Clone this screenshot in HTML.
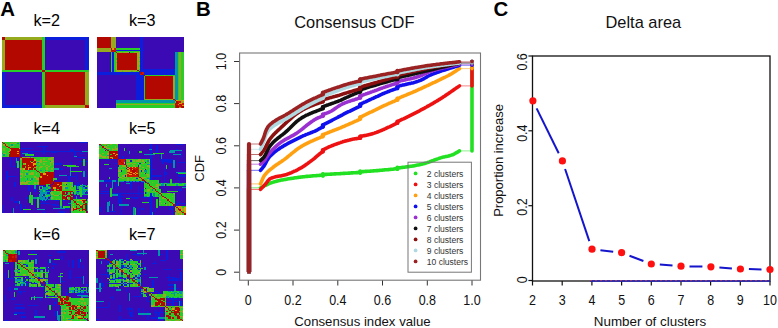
<!DOCTYPE html><html><head><meta charset="utf-8"><style>html,body{margin:0;padding:0;background:#fff;width:778px;height:328px;overflow:hidden}svg{display:block}text{font-family:"Liberation Sans", sans-serif}</style></head><body>
<svg width="778" height="328" viewBox="0 0 778 328">
<rect width="778" height="328" fill="#fff"/>
<text x="0.2" y="15.7" font-size="20.4" font-weight="bold">A</text>
<text x="196" y="15.7" font-size="20.4" font-weight="bold">B</text>
<text x="493.6" y="15.7" font-size="20.4" font-weight="bold">C</text>
<text x="33.5" y="26.2" font-size="16.2">k=2</text>
<text x="129.0" y="26.2" font-size="16.2">k=3</text>
<text x="33.5" y="133.5" font-size="16.2">k=4</text>
<text x="129.0" y="133.5" font-size="16.2">k=5</text>
<text x="33.5" y="240.4" font-size="16.2">k=6</text>
<text x="129.0" y="240.4" font-size="16.2">k=7</text>
<g shape-rendering="crispEdges">
<rect x="1.50" y="37.00" width="87.00" height="70.70" fill="#3c0ab4"/>
<path fill="#0a1edc" d="M45.0 37.0h43.5v1.3h-43.5zM45.0 38.3h43.5v1.3h-43.5zM85.4 39.5h3.1v1.3h-3.1zM85.4 40.8h3.1v1.3h-3.1zM85.4 42.0h3.1v1.3h-3.1zM85.4 43.3h3.1v1.3h-3.1zM85.4 44.6h3.1v1.3h-3.1zM85.4 45.8h3.1v1.3h-3.1zM85.4 47.1h3.1v1.3h-3.1zM85.4 48.4h3.1v1.3h-3.1zM85.4 49.6h3.1v1.3h-3.1zM85.4 50.9h3.1v1.3h-3.1zM85.4 52.1h3.1v1.3h-3.1zM85.4 53.4h3.1v1.3h-3.1zM85.4 54.7h3.1v1.3h-3.1zM85.4 55.9h3.1v1.3h-3.1zM85.4 57.2h3.1v1.3h-3.1zM85.4 58.5h3.1v1.3h-3.1zM85.4 59.7h3.1v1.3h-3.1zM85.4 61.0h3.1v1.3h-3.1zM85.4 62.2h3.1v1.3h-3.1zM85.4 63.5h3.1v1.3h-3.1zM85.4 64.8h3.1v1.3h-3.1zM85.4 66.0h3.1v1.3h-3.1zM85.4 67.3h3.1v1.3h-3.1zM85.4 68.6h3.1v1.3h-3.1zM1.5 72.3h3.1v1.3h-3.1zM1.5 73.6h3.1v1.3h-3.1zM1.5 74.9h3.1v1.3h-3.1zM1.5 76.1h3.1v1.3h-3.1zM1.5 77.4h3.1v1.3h-3.1zM1.5 78.7h3.1v1.3h-3.1zM1.5 79.9h3.1v1.3h-3.1zM1.5 81.2h3.1v1.3h-3.1zM1.5 82.4h3.1v1.3h-3.1zM1.5 83.7h3.1v1.3h-3.1zM1.5 85.0h3.1v1.3h-3.1zM1.5 86.2h3.1v1.3h-3.1zM1.5 87.5h3.1v1.3h-3.1zM1.5 88.8h3.1v1.3h-3.1zM1.5 90.0h3.1v1.3h-3.1zM1.5 91.3h3.1v1.3h-3.1zM1.5 92.5h3.1v1.3h-3.1zM1.5 93.8h3.1v1.3h-3.1zM1.5 95.1h3.1v1.3h-3.1zM1.5 96.3h3.1v1.3h-3.1zM1.5 97.6h3.1v1.3h-3.1zM1.5 98.9h3.1v1.3h-3.1zM1.5 100.1h3.1v1.3h-3.1zM1.5 101.4h3.1v1.3h-3.1zM1.5 102.6h3.1v1.3h-3.1zM1.5 103.9h3.1v1.3h-3.1zM1.5 105.2h40.4v1.3h-40.4zM1.5 106.4h40.4v1.3h-40.4z"/>
<path fill="#28cd28" d="M41.9 37.0h3.1v1.3h-3.1zM41.9 38.3h3.1v1.3h-3.1zM41.9 39.5h3.1v1.3h-3.1zM41.9 40.8h3.1v1.3h-3.1zM41.9 42.0h3.1v1.3h-3.1zM41.9 43.3h3.1v1.3h-3.1zM41.9 44.6h3.1v1.3h-3.1zM41.9 45.8h3.1v1.3h-3.1zM41.9 47.1h3.1v1.3h-3.1zM41.9 48.4h3.1v1.3h-3.1zM41.9 49.6h3.1v1.3h-3.1zM41.9 50.9h3.1v1.3h-3.1zM41.9 52.1h3.1v1.3h-3.1zM41.9 53.4h3.1v1.3h-3.1zM41.9 54.7h3.1v1.3h-3.1zM41.9 55.9h3.1v1.3h-3.1zM41.9 57.2h3.1v1.3h-3.1zM41.9 58.5h3.1v1.3h-3.1zM41.9 59.7h3.1v1.3h-3.1zM41.9 61.0h3.1v1.3h-3.1zM41.9 62.2h3.1v1.3h-3.1zM41.9 63.5h3.1v1.3h-3.1zM41.9 64.8h3.1v1.3h-3.1zM41.9 66.0h3.1v1.3h-3.1zM41.9 67.3h3.1v1.3h-3.1zM41.9 68.6h3.1v1.3h-3.1zM1.5 69.8h40.4v1.3h-40.4zM45.0 69.8h43.5v1.3h-43.5zM1.5 71.1h40.4v1.3h-40.4zM45.0 71.1h43.5v1.3h-43.5zM41.9 72.3h3.1v1.3h-3.1zM41.9 73.6h3.1v1.3h-3.1zM41.9 74.9h3.1v1.3h-3.1zM41.9 76.1h3.1v1.3h-3.1zM41.9 77.4h3.1v1.3h-3.1zM41.9 78.7h3.1v1.3h-3.1zM41.9 79.9h3.1v1.3h-3.1zM41.9 81.2h3.1v1.3h-3.1zM41.9 82.4h3.1v1.3h-3.1zM41.9 83.7h3.1v1.3h-3.1zM41.9 85.0h3.1v1.3h-3.1zM41.9 86.2h3.1v1.3h-3.1zM41.9 87.5h3.1v1.3h-3.1zM41.9 88.8h3.1v1.3h-3.1zM41.9 90.0h3.1v1.3h-3.1zM41.9 91.3h3.1v1.3h-3.1zM41.9 92.5h3.1v1.3h-3.1zM41.9 93.8h3.1v1.3h-3.1zM41.9 95.1h3.1v1.3h-3.1zM41.9 96.3h3.1v1.3h-3.1zM41.9 97.6h3.1v1.3h-3.1zM41.9 98.9h3.1v1.3h-3.1zM41.9 100.1h3.1v1.3h-3.1zM41.9 101.4h3.1v1.3h-3.1zM41.9 102.6h3.1v1.3h-3.1zM41.9 103.9h3.1v1.3h-3.1zM41.9 105.2h3.1v1.3h-3.1zM41.9 106.4h3.1v1.3h-3.1z"/>
<path fill="#96aa1e" d="M4.6 37.0h37.3v1.3h-37.3zM4.6 38.3h37.3v1.3h-37.3zM1.5 39.5h3.1v1.3h-3.1zM1.5 40.8h3.1v1.3h-3.1zM1.5 42.0h3.1v1.3h-3.1zM1.5 43.3h3.1v1.3h-3.1zM1.5 44.6h3.1v1.3h-3.1zM1.5 45.8h3.1v1.3h-3.1zM1.5 47.1h3.1v1.3h-3.1zM1.5 48.4h3.1v1.3h-3.1zM1.5 49.6h3.1v1.3h-3.1zM1.5 50.9h3.1v1.3h-3.1zM1.5 52.1h3.1v1.3h-3.1zM1.5 53.4h3.1v1.3h-3.1zM1.5 54.7h3.1v1.3h-3.1zM1.5 55.9h3.1v1.3h-3.1zM1.5 57.2h3.1v1.3h-3.1zM1.5 58.5h3.1v1.3h-3.1zM1.5 59.7h3.1v1.3h-3.1zM1.5 61.0h3.1v1.3h-3.1zM1.5 62.2h3.1v1.3h-3.1zM1.5 63.5h3.1v1.3h-3.1zM1.5 64.8h3.1v1.3h-3.1zM1.5 66.0h3.1v1.3h-3.1zM1.5 67.3h3.1v1.3h-3.1zM1.5 68.6h3.1v1.3h-3.1zM85.4 72.3h3.1v1.3h-3.1zM85.4 73.6h3.1v1.3h-3.1zM85.4 74.9h3.1v1.3h-3.1zM85.4 76.1h3.1v1.3h-3.1zM85.4 77.4h3.1v1.3h-3.1zM85.4 78.7h3.1v1.3h-3.1zM85.4 79.9h3.1v1.3h-3.1zM85.4 81.2h3.1v1.3h-3.1zM85.4 82.4h3.1v1.3h-3.1zM85.4 83.7h3.1v1.3h-3.1zM85.4 85.0h3.1v1.3h-3.1zM85.4 86.2h3.1v1.3h-3.1zM85.4 87.5h3.1v1.3h-3.1zM85.4 88.8h3.1v1.3h-3.1zM85.4 90.0h3.1v1.3h-3.1zM85.4 91.3h3.1v1.3h-3.1zM85.4 92.5h3.1v1.3h-3.1zM85.4 93.8h3.1v1.3h-3.1zM85.4 95.1h3.1v1.3h-3.1zM85.4 96.3h3.1v1.3h-3.1zM85.4 97.6h3.1v1.3h-3.1zM85.4 98.9h3.1v1.3h-3.1zM85.4 100.1h3.1v1.3h-3.1zM85.4 101.4h3.1v1.3h-3.1zM85.4 102.6h3.1v1.3h-3.1zM85.4 103.9h3.1v1.3h-3.1zM45.0 105.2h40.4v1.3h-40.4zM45.0 106.4h40.4v1.3h-40.4z"/>
<path fill="#cd1900" d="M86.9 105.2h1.6v1.3h-1.6zM85.4 106.4h1.6v1.3h-1.6z"/>
<path fill="#b20800" d="M1.5 37.0h3.1v1.3h-3.1zM1.5 38.3h3.1v1.3h-3.1zM4.6 39.5h37.3v1.3h-37.3zM4.6 40.8h37.3v1.3h-37.3zM4.6 42.0h37.3v1.3h-37.3zM4.6 43.3h37.3v1.3h-37.3zM4.6 44.6h37.3v1.3h-37.3zM4.6 45.8h37.3v1.3h-37.3zM4.6 47.1h37.3v1.3h-37.3zM4.6 48.4h37.3v1.3h-37.3zM4.6 49.6h37.3v1.3h-37.3zM4.6 50.9h37.3v1.3h-37.3zM4.6 52.1h37.3v1.3h-37.3zM4.6 53.4h37.3v1.3h-37.3zM4.6 54.7h37.3v1.3h-37.3zM4.6 55.9h37.3v1.3h-37.3zM4.6 57.2h37.3v1.3h-37.3zM4.6 58.5h37.3v1.3h-37.3zM4.6 59.7h37.3v1.3h-37.3zM4.6 61.0h37.3v1.3h-37.3zM4.6 62.2h37.3v1.3h-37.3zM4.6 63.5h37.3v1.3h-37.3zM4.6 64.8h37.3v1.3h-37.3zM4.6 66.0h37.3v1.3h-37.3zM4.6 67.3h37.3v1.3h-37.3zM4.6 68.6h37.3v1.3h-37.3zM41.9 69.8h3.1v1.3h-3.1zM41.9 71.1h3.1v1.3h-3.1zM45.0 72.3h40.4v1.3h-40.4zM45.0 73.6h40.4v1.3h-40.4zM45.0 74.9h40.4v1.3h-40.4zM45.0 76.1h40.4v1.3h-40.4zM45.0 77.4h40.4v1.3h-40.4zM45.0 78.7h40.4v1.3h-40.4zM45.0 79.9h40.4v1.3h-40.4zM45.0 81.2h40.4v1.3h-40.4zM45.0 82.4h40.4v1.3h-40.4zM45.0 83.7h40.4v1.3h-40.4zM45.0 85.0h40.4v1.3h-40.4zM45.0 86.2h40.4v1.3h-40.4zM45.0 87.5h40.4v1.3h-40.4zM45.0 88.8h40.4v1.3h-40.4zM45.0 90.0h40.4v1.3h-40.4zM45.0 91.3h40.4v1.3h-40.4zM45.0 92.5h40.4v1.3h-40.4zM45.0 93.8h40.4v1.3h-40.4zM45.0 95.1h40.4v1.3h-40.4zM45.0 96.3h40.4v1.3h-40.4zM45.0 97.6h40.4v1.3h-40.4zM45.0 98.9h40.4v1.3h-40.4zM45.0 100.1h40.4v1.3h-40.4zM45.0 101.4h40.4v1.3h-40.4zM45.0 102.6h40.4v1.3h-40.4zM45.0 103.9h40.4v1.3h-40.4zM85.4 105.2h1.6v1.3h-1.6zM86.9 106.4h1.6v1.3h-1.6z"/>
</g>
<g shape-rendering="crispEdges">
<rect x="96.80" y="36.90" width="87.10" height="70.80" fill="#3c0ab4"/>
<path fill="#0a1edc" d="M140.3 36.9h3.1v1.3h-3.1zM140.3 38.2h3.1v1.3h-3.1zM140.3 39.4h3.1v1.3h-3.1zM140.3 40.7h3.1v1.3h-3.1zM140.3 42.0h3.1v1.3h-3.1zM140.3 43.2h3.1v1.3h-3.1zM140.3 44.5h3.1v1.3h-3.1zM140.3 45.8h3.1v1.3h-3.1zM140.3 47.0h3.1v1.3h-3.1zM140.3 48.3h3.1v1.3h-3.1zM115.5 49.5h28.0v1.3h-28.0zM140.3 50.8h3.1v1.3h-3.1zM112.4 52.1h1.6v1.3h-1.6zM140.3 52.1h3.1v1.3h-3.1zM112.4 53.3h1.6v1.3h-1.6zM140.3 53.3h3.1v1.3h-3.1zM112.4 54.6h1.6v1.3h-1.6zM140.3 54.6h3.1v1.3h-3.1zM112.4 55.9h1.6v1.3h-1.6zM140.3 55.9h3.1v1.3h-3.1zM112.4 57.1h1.6v1.3h-1.6zM140.3 57.1h3.1v1.3h-3.1zM112.4 58.4h1.6v1.3h-1.6zM140.3 58.4h3.1v1.3h-3.1zM112.4 59.7h1.6v1.3h-1.6zM140.3 59.7h3.1v1.3h-3.1zM112.4 60.9h1.6v1.3h-1.6zM140.3 60.9h3.1v1.3h-3.1zM112.4 62.2h1.6v1.3h-1.6zM140.3 62.2h3.1v1.3h-3.1zM112.4 63.4h1.6v1.3h-1.6zM140.3 63.4h3.1v1.3h-3.1zM112.4 64.7h1.6v1.3h-1.6zM140.3 64.7h3.1v1.3h-3.1zM112.4 66.0h1.6v1.3h-1.6zM140.3 66.0h3.1v1.3h-3.1zM112.4 67.2h1.6v1.3h-1.6zM140.3 67.2h3.1v1.3h-3.1zM112.4 68.5h1.6v1.3h-1.6zM140.3 68.5h34.2v1.3h-34.2zM112.4 69.8h1.6v1.3h-1.6zM140.3 69.8h34.2v1.3h-34.2zM112.4 71.0h1.6v1.3h-1.6zM140.3 71.0h34.2v1.3h-34.2zM96.8 72.3h43.5v1.3h-43.5zM143.5 72.3h31.1v1.3h-31.1zM96.8 73.6h43.5v1.3h-43.5zM143.5 73.6h31.1v1.3h-31.1zM135.7 74.8h7.8v1.3h-7.8zM135.7 76.1h7.8v1.3h-7.8zM135.7 77.4h7.8v1.3h-7.8zM135.7 78.6h7.8v1.3h-7.8zM135.7 79.9h7.8v1.3h-7.8zM135.7 81.2h7.8v1.3h-7.8zM135.7 82.4h7.8v1.3h-7.8zM135.7 83.7h7.8v1.3h-7.8zM135.7 84.9h7.8v1.3h-7.8zM135.7 86.2h7.8v1.3h-7.8zM135.7 87.5h7.8v1.3h-7.8zM135.7 88.7h7.8v1.3h-7.8zM135.7 90.0h7.8v1.3h-7.8zM135.7 91.3h7.8v1.3h-7.8zM135.7 92.5h7.8v1.3h-7.8zM135.7 93.8h7.8v1.3h-7.8zM135.7 95.1h7.8v1.3h-7.8zM135.7 96.3h7.8v1.3h-7.8zM135.7 97.6h7.8v1.3h-7.8zM135.7 98.8h7.8v1.3h-7.8z"/>
<path fill="#0096aa" d="M174.6 52.1h3.1v1.3h-3.1zM174.6 53.3h3.1v1.3h-3.1zM174.6 54.6h3.1v1.3h-3.1zM174.6 55.9h3.1v1.3h-3.1zM174.6 57.1h3.1v1.3h-3.1zM174.6 58.4h3.1v1.3h-3.1zM174.6 59.7h3.1v1.3h-3.1zM174.6 60.9h3.1v1.3h-3.1zM174.6 62.2h3.1v1.3h-3.1zM174.6 63.4h3.1v1.3h-3.1zM174.6 64.7h3.1v1.3h-3.1zM174.6 66.0h3.1v1.3h-3.1zM174.6 67.2h3.1v1.3h-3.1zM174.6 68.5h3.1v1.3h-3.1zM174.6 69.8h3.1v1.3h-3.1zM174.6 71.0h3.1v1.3h-3.1zM174.6 72.3h3.1v1.3h-3.1zM174.6 73.6h3.1v1.3h-3.1zM174.6 74.8h3.1v1.3h-3.1zM174.6 76.1h3.1v1.3h-3.1zM174.6 77.4h3.1v1.3h-3.1zM174.6 78.6h3.1v1.3h-3.1zM174.6 79.9h3.1v1.3h-3.1zM174.6 81.2h3.1v1.3h-3.1zM174.6 82.4h3.1v1.3h-3.1zM174.6 83.7h3.1v1.3h-3.1zM174.6 84.9h3.1v1.3h-3.1zM174.6 86.2h3.1v1.3h-3.1zM174.6 87.5h3.1v1.3h-3.1zM174.6 88.7h3.1v1.3h-3.1zM174.6 90.0h3.1v1.3h-3.1zM174.6 91.3h3.1v1.3h-3.1zM174.6 92.5h3.1v1.3h-3.1zM174.6 93.8h3.1v1.3h-3.1zM174.6 95.1h3.1v1.3h-3.1zM174.6 96.3h3.1v1.3h-3.1zM174.6 97.6h3.1v1.3h-3.1zM174.6 98.8h3.1v1.3h-3.1zM115.5 100.1h59.1v1.3h-59.1zM115.5 101.4h59.1v1.3h-59.1z"/>
<path fill="#28cd28" d="M115.5 48.3h24.9v1.3h-24.9zM115.5 50.8h24.9v1.3h-24.9zM110.8 52.1h1.6v1.3h-1.6zM113.9 52.1h1.6v1.3h-1.6zM117.0 52.1h1.6v1.3h-1.6zM121.7 52.1h1.6v1.3h-1.6zM129.5 52.1h4.7v1.3h-4.7zM177.7 52.1h1.6v1.3h-1.6zM180.8 52.1h3.1v1.3h-3.1zM110.8 53.3h1.6v1.3h-1.6zM113.9 53.3h1.6v1.3h-1.6zM177.7 53.3h1.6v1.3h-1.6zM180.8 53.3h3.1v1.3h-3.1zM110.8 54.6h1.6v1.3h-1.6zM113.9 54.6h1.6v1.3h-1.6zM177.7 54.6h1.6v1.3h-1.6zM180.8 54.6h3.1v1.3h-3.1zM110.8 55.9h1.6v1.3h-1.6zM113.9 55.9h1.6v1.3h-1.6zM177.7 55.9h1.6v1.3h-1.6zM180.8 55.9h3.1v1.3h-3.1zM110.8 57.1h1.6v1.3h-1.6zM113.9 57.1h1.6v1.3h-1.6zM138.8 57.1h1.6v1.3h-1.6zM177.7 57.1h1.6v1.3h-1.6zM180.8 57.1h3.1v1.3h-3.1zM110.8 58.4h1.6v1.3h-1.6zM113.9 58.4h3.1v1.3h-3.1zM177.7 58.4h1.6v1.3h-1.6zM180.8 58.4h3.1v1.3h-3.1zM110.8 59.7h1.6v1.3h-1.6zM113.9 59.7h1.6v1.3h-1.6zM177.7 59.7h1.6v1.3h-1.6zM180.8 59.7h3.1v1.3h-3.1zM110.8 60.9h1.6v1.3h-1.6zM113.9 60.9h1.6v1.3h-1.6zM138.8 60.9h1.6v1.3h-1.6zM177.7 60.9h1.6v1.3h-1.6zM180.8 60.9h3.1v1.3h-3.1zM110.8 62.2h1.6v1.3h-1.6zM113.9 62.2h3.1v1.3h-3.1zM177.7 62.2h1.6v1.3h-1.6zM180.8 62.2h3.1v1.3h-3.1zM110.8 63.4h1.6v1.3h-1.6zM113.9 63.4h1.6v1.3h-1.6zM177.7 63.4h1.6v1.3h-1.6zM180.8 63.4h3.1v1.3h-3.1zM110.8 64.7h1.6v1.3h-1.6zM113.9 64.7h1.6v1.3h-1.6zM138.8 64.7h1.6v1.3h-1.6zM177.7 64.7h1.6v1.3h-1.6zM180.8 64.7h3.1v1.3h-3.1zM110.8 66.0h1.6v1.3h-1.6zM113.9 66.0h1.6v1.3h-1.6zM138.8 66.0h1.6v1.3h-1.6zM177.7 66.0h1.6v1.3h-1.6zM180.8 66.0h3.1v1.3h-3.1zM110.8 67.2h1.6v1.3h-1.6zM113.9 67.2h1.6v1.3h-1.6zM177.7 67.2h1.6v1.3h-1.6zM180.8 67.2h3.1v1.3h-3.1zM110.8 68.5h1.6v1.3h-1.6zM113.9 68.5h1.6v1.3h-1.6zM138.8 68.5h1.6v1.3h-1.6zM177.7 68.5h1.6v1.3h-1.6zM180.8 68.5h3.1v1.3h-3.1zM110.8 69.8h1.6v1.3h-1.6zM113.9 69.8h1.6v1.3h-1.6zM138.8 69.8h1.6v1.3h-1.6zM177.7 69.8h1.6v1.3h-1.6zM180.8 69.8h3.1v1.3h-3.1zM110.8 71.0h1.6v1.3h-1.6zM113.9 71.0h1.6v1.3h-1.6zM121.7 71.0h1.6v1.3h-1.6zM131.0 71.0h1.6v1.3h-1.6zM135.7 71.0h3.1v1.3h-3.1zM177.7 71.0h1.6v1.3h-1.6zM180.8 71.0h3.1v1.3h-3.1zM177.7 72.3h1.6v1.3h-1.6zM180.8 72.3h3.1v1.3h-3.1zM177.7 73.6h1.6v1.3h-1.6zM180.8 73.6h3.1v1.3h-3.1zM145.0 74.8h1.6v1.3h-1.6zM148.1 74.8h15.6v1.3h-15.6zM165.2 74.8h9.3v1.3h-9.3zM177.7 74.8h1.6v1.3h-1.6zM180.8 74.8h3.1v1.3h-3.1zM143.5 76.1h1.6v1.3h-1.6zM177.7 76.1h1.6v1.3h-1.6zM180.8 76.1h3.1v1.3h-3.1zM143.5 77.4h1.6v1.3h-1.6zM177.7 77.4h1.6v1.3h-1.6zM180.8 77.4h3.1v1.3h-3.1zM143.5 78.6h1.6v1.3h-1.6zM177.7 78.6h1.6v1.3h-1.6zM180.8 78.6h3.1v1.3h-3.1zM143.5 79.9h1.6v1.3h-1.6zM177.7 79.9h1.6v1.3h-1.6zM180.8 79.9h3.1v1.3h-3.1zM143.5 81.2h1.6v1.3h-1.6zM177.7 81.2h1.6v1.3h-1.6zM180.8 81.2h3.1v1.3h-3.1zM143.5 82.4h1.6v1.3h-1.6zM177.7 82.4h1.6v1.3h-1.6zM180.8 82.4h3.1v1.3h-3.1zM143.5 83.7h1.6v1.3h-1.6zM177.7 83.7h1.6v1.3h-1.6zM180.8 83.7h3.1v1.3h-3.1zM143.5 84.9h1.6v1.3h-1.6zM177.7 84.9h1.6v1.3h-1.6zM180.8 84.9h3.1v1.3h-3.1zM143.5 86.2h1.6v1.3h-1.6zM177.7 86.2h1.6v1.3h-1.6zM180.8 86.2h3.1v1.3h-3.1zM143.5 87.5h1.6v1.3h-1.6zM177.7 87.5h1.6v1.3h-1.6zM180.8 87.5h3.1v1.3h-3.1zM143.5 88.7h1.6v1.3h-1.6zM177.7 88.7h1.6v1.3h-1.6zM180.8 88.7h3.1v1.3h-3.1zM143.5 90.0h1.6v1.3h-1.6zM177.7 90.0h1.6v1.3h-1.6zM180.8 90.0h3.1v1.3h-3.1zM143.5 91.3h1.6v1.3h-1.6zM177.7 91.3h1.6v1.3h-1.6zM180.8 91.3h3.1v1.3h-3.1zM143.5 92.5h1.6v1.3h-1.6zM177.7 92.5h1.6v1.3h-1.6zM180.8 92.5h3.1v1.3h-3.1zM143.5 93.8h1.6v1.3h-1.6zM177.7 93.8h1.6v1.3h-1.6zM180.8 93.8h3.1v1.3h-3.1zM143.5 95.1h1.6v1.3h-1.6zM177.7 95.1h1.6v1.3h-1.6zM180.8 95.1h3.1v1.3h-3.1zM143.5 96.3h1.6v1.3h-1.6zM177.7 96.3h1.6v1.3h-1.6zM180.8 96.3h3.1v1.3h-3.1zM143.5 97.6h1.6v1.3h-1.6zM177.7 97.6h1.6v1.3h-1.6zM180.8 97.6h3.1v1.3h-3.1zM143.5 98.8h1.6v1.3h-1.6zM177.7 98.8h1.6v1.3h-1.6zM180.8 98.8h3.1v1.3h-3.1zM115.5 102.6h59.1v1.3h-59.1zM115.5 105.2h59.1v1.3h-59.1zM115.5 106.4h59.1v1.3h-59.1z"/>
<path fill="#96aa1e" d="M110.8 36.9h4.7v1.3h-4.7zM110.8 38.2h4.7v1.3h-4.7zM110.8 39.4h4.7v1.3h-4.7zM110.8 40.7h4.7v1.3h-4.7zM110.8 42.0h4.7v1.3h-4.7zM110.8 43.2h4.7v1.3h-4.7zM110.8 44.5h4.7v1.3h-4.7zM110.8 45.8h4.7v1.3h-4.7zM110.8 47.0h4.7v1.3h-4.7zM96.8 48.3h14.0v1.3h-14.0zM96.8 49.5h14.0v1.3h-14.0zM96.8 50.8h14.0v1.3h-14.0zM118.6 52.1h3.1v1.3h-3.1zM123.2 52.1h6.2v1.3h-6.2zM134.1 52.1h6.2v1.3h-6.2zM179.2 52.1h1.6v1.3h-1.6zM115.5 53.3h1.6v1.3h-1.6zM137.2 53.3h3.1v1.3h-3.1zM179.2 53.3h1.6v1.3h-1.6zM115.5 54.6h1.6v1.3h-1.6zM137.2 54.6h3.1v1.3h-3.1zM179.2 54.6h1.6v1.3h-1.6zM115.5 55.9h1.6v1.3h-1.6zM137.2 55.9h3.1v1.3h-3.1zM179.2 55.9h1.6v1.3h-1.6zM115.5 57.1h1.6v1.3h-1.6zM137.2 57.1h1.6v1.3h-1.6zM179.2 57.1h1.6v1.3h-1.6zM137.2 58.4h3.1v1.3h-3.1zM179.2 58.4h1.6v1.3h-1.6zM115.5 59.7h1.6v1.3h-1.6zM137.2 59.7h3.1v1.3h-3.1zM179.2 59.7h1.6v1.3h-1.6zM115.5 60.9h1.6v1.3h-1.6zM137.2 60.9h1.6v1.3h-1.6zM179.2 60.9h1.6v1.3h-1.6zM137.2 62.2h3.1v1.3h-3.1zM179.2 62.2h1.6v1.3h-1.6zM115.5 63.4h1.6v1.3h-1.6zM137.2 63.4h3.1v1.3h-3.1zM179.2 63.4h1.6v1.3h-1.6zM115.5 64.7h1.6v1.3h-1.6zM137.2 64.7h1.6v1.3h-1.6zM179.2 64.7h1.6v1.3h-1.6zM115.5 66.0h1.6v1.3h-1.6zM137.2 66.0h1.6v1.3h-1.6zM179.2 66.0h1.6v1.3h-1.6zM115.5 67.2h1.6v1.3h-1.6zM137.2 67.2h3.1v1.3h-3.1zM179.2 67.2h1.6v1.3h-1.6zM115.5 68.5h1.6v1.3h-1.6zM137.2 68.5h1.6v1.3h-1.6zM179.2 68.5h1.6v1.3h-1.6zM115.5 69.8h21.8v1.3h-21.8zM179.2 69.8h1.6v1.3h-1.6zM115.5 71.0h6.2v1.3h-6.2zM123.2 71.0h7.8v1.3h-7.8zM132.6 71.0h3.1v1.3h-3.1zM179.2 71.0h1.6v1.3h-1.6zM179.2 72.3h1.6v1.3h-1.6zM179.2 73.6h1.6v1.3h-1.6zM146.6 74.8h1.6v1.3h-1.6zM163.7 74.8h1.6v1.3h-1.6zM179.2 74.8h1.6v1.3h-1.6zM173.0 76.1h1.6v1.3h-1.6zM179.2 76.1h1.6v1.3h-1.6zM173.0 77.4h1.6v1.3h-1.6zM179.2 77.4h1.6v1.3h-1.6zM173.0 78.6h1.6v1.3h-1.6zM179.2 78.6h1.6v1.3h-1.6zM173.0 79.9h1.6v1.3h-1.6zM179.2 79.9h1.6v1.3h-1.6zM173.0 81.2h1.6v1.3h-1.6zM179.2 81.2h1.6v1.3h-1.6zM173.0 82.4h1.6v1.3h-1.6zM179.2 82.4h1.6v1.3h-1.6zM173.0 83.7h1.6v1.3h-1.6zM179.2 83.7h1.6v1.3h-1.6zM173.0 84.9h1.6v1.3h-1.6zM179.2 84.9h1.6v1.3h-1.6zM173.0 86.2h1.6v1.3h-1.6zM179.2 86.2h1.6v1.3h-1.6zM173.0 87.5h1.6v1.3h-1.6zM179.2 87.5h1.6v1.3h-1.6zM173.0 88.7h1.6v1.3h-1.6zM179.2 88.7h1.6v1.3h-1.6zM173.0 90.0h1.6v1.3h-1.6zM179.2 90.0h1.6v1.3h-1.6zM173.0 91.3h1.6v1.3h-1.6zM179.2 91.3h1.6v1.3h-1.6zM173.0 92.5h1.6v1.3h-1.6zM179.2 92.5h1.6v1.3h-1.6zM173.0 93.8h1.6v1.3h-1.6zM179.2 93.8h1.6v1.3h-1.6zM173.0 95.1h1.6v1.3h-1.6zM179.2 95.1h1.6v1.3h-1.6zM173.0 96.3h1.6v1.3h-1.6zM179.2 96.3h1.6v1.3h-1.6zM173.0 97.6h1.6v1.3h-1.6zM179.2 97.6h1.6v1.3h-1.6zM145.0 98.8h28.0v1.3h-28.0zM179.2 98.8h1.6v1.3h-1.6zM177.7 100.1h4.7v1.3h-4.7zM174.6 101.4h1.6v1.3h-1.6zM180.8 101.4h3.1v1.3h-3.1zM115.5 103.9h59.1v1.3h-59.1zM177.7 103.9h1.6v1.3h-1.6zM179.2 106.4h1.6v1.3h-1.6z"/>
<path fill="#e1a000" d="M112.4 48.3h1.6v1.3h-1.6zM176.1 100.1h1.6v1.3h-1.6zM182.3 100.1h1.6v1.3h-1.6zM179.2 102.6h3.1v1.3h-3.1zM182.3 105.2h1.6v1.3h-1.6z"/>
<path fill="#cd1900" d="M113.9 48.3h1.6v1.3h-1.6zM110.8 49.5h1.6v1.3h-1.6zM113.9 49.5h1.6v1.3h-1.6zM110.8 50.8h3.1v1.3h-3.1zM141.9 72.3h1.6v1.3h-1.6zM140.3 73.6h1.6v1.3h-1.6zM177.7 101.4h3.1v1.3h-3.1zM174.6 102.6h1.6v1.3h-1.6zM182.3 102.6h1.6v1.3h-1.6zM176.1 103.9h1.6v1.3h-1.6zM180.8 103.9h3.1v1.3h-3.1zM174.6 105.2h1.6v1.3h-1.6zM177.7 105.2h3.1v1.3h-3.1zM174.6 106.4h1.6v1.3h-1.6zM180.8 106.4h1.6v1.3h-1.6z"/>
<path fill="#b20800" d="M96.8 36.9h14.0v1.3h-14.0zM96.8 38.2h14.0v1.3h-14.0zM96.8 39.4h14.0v1.3h-14.0zM96.8 40.7h14.0v1.3h-14.0zM96.8 42.0h14.0v1.3h-14.0zM96.8 43.2h14.0v1.3h-14.0zM96.8 44.5h14.0v1.3h-14.0zM96.8 45.8h14.0v1.3h-14.0zM96.8 47.0h14.0v1.3h-14.0zM110.8 48.3h1.6v1.3h-1.6zM112.4 49.5h1.6v1.3h-1.6zM113.9 50.8h1.6v1.3h-1.6zM115.5 52.1h1.6v1.3h-1.6zM117.0 53.3h20.2v1.3h-20.2zM117.0 54.6h20.2v1.3h-20.2zM117.0 55.9h20.2v1.3h-20.2zM117.0 57.1h20.2v1.3h-20.2zM117.0 58.4h20.2v1.3h-20.2zM117.0 59.7h20.2v1.3h-20.2zM117.0 60.9h20.2v1.3h-20.2zM117.0 62.2h20.2v1.3h-20.2zM117.0 63.4h20.2v1.3h-20.2zM117.0 64.7h20.2v1.3h-20.2zM117.0 66.0h20.2v1.3h-20.2zM117.0 67.2h20.2v1.3h-20.2zM117.0 68.5h20.2v1.3h-20.2zM137.2 69.8h1.6v1.3h-1.6zM138.8 71.0h1.6v1.3h-1.6zM140.3 72.3h1.6v1.3h-1.6zM141.9 73.6h1.6v1.3h-1.6zM143.5 74.8h1.6v1.3h-1.6zM145.0 76.1h28.0v1.3h-28.0zM145.0 77.4h28.0v1.3h-28.0zM145.0 78.6h28.0v1.3h-28.0zM145.0 79.9h28.0v1.3h-28.0zM145.0 81.2h28.0v1.3h-28.0zM145.0 82.4h28.0v1.3h-28.0zM145.0 83.7h28.0v1.3h-28.0zM145.0 84.9h28.0v1.3h-28.0zM145.0 86.2h28.0v1.3h-28.0zM145.0 87.5h28.0v1.3h-28.0zM145.0 88.7h28.0v1.3h-28.0zM145.0 90.0h28.0v1.3h-28.0zM145.0 91.3h28.0v1.3h-28.0zM145.0 92.5h28.0v1.3h-28.0zM145.0 93.8h28.0v1.3h-28.0zM145.0 95.1h28.0v1.3h-28.0zM145.0 96.3h28.0v1.3h-28.0zM145.0 97.6h28.0v1.3h-28.0zM173.0 98.8h1.6v1.3h-1.6zM174.6 100.1h1.6v1.3h-1.6zM176.1 101.4h1.6v1.3h-1.6zM176.1 102.6h3.1v1.3h-3.1zM174.6 103.9h1.6v1.3h-1.6zM179.2 103.9h1.6v1.3h-1.6zM176.1 105.2h1.6v1.3h-1.6zM180.8 105.2h1.6v1.3h-1.6zM176.1 106.4h3.1v1.3h-3.1zM182.3 106.4h1.6v1.3h-1.6z"/>
</g>
<g shape-rendering="crispEdges">
<rect x="1.80" y="141.70" width="86.20" height="70.90" fill="#3c0ab4"/>
<path fill="#0a1edc" d="M78.8 141.7h9.2v1.3h-9.2zM37.2 145.5h10.8v1.3h-10.8zM43.4 146.8h1.5v1.3h-1.5zM20.3 148.0h12.3v1.3h-12.3zM43.4 148.0h1.5v1.3h-1.5zM43.4 149.3h1.5v1.3h-1.5zM69.5 149.3h4.6v1.3h-4.6zM20.3 150.6h61.6v1.3h-61.6zM31.0 151.8h1.5v1.3h-1.5zM43.4 151.8h1.5v1.3h-1.5zM51.1 151.8h6.2v1.3h-6.2zM74.1 151.8h1.5v1.3h-1.5zM28.0 153.1h4.6v1.3h-4.6zM43.4 153.1h1.5v1.3h-1.5zM74.1 153.1h1.5v1.3h-1.5zM80.3 153.1h3.1v1.3h-3.1zM74.1 154.4h1.5v1.3h-1.5zM29.5 155.6h3.1v1.3h-3.1zM9.5 156.9h1.5v1.3h-1.5zM77.2 156.9h9.2v1.3h-9.2zM9.5 158.2h1.5v1.3h-1.5zM9.5 159.4h1.5v1.3h-1.5zM9.5 160.7h1.5v1.3h-1.5zM78.8 160.7h4.6v1.3h-4.6zM84.9 160.7h3.1v1.3h-3.1zM9.5 162.0h1.5v1.3h-1.5zM69.5 162.0h1.5v1.3h-1.5zM9.5 163.2h1.5v1.3h-1.5zM15.7 163.2h1.5v1.3h-1.5zM54.1 163.2h7.7v1.3h-7.7zM69.5 163.2h1.5v1.3h-1.5zM9.5 164.5h1.5v1.3h-1.5zM15.7 164.5h1.5v1.3h-1.5zM18.7 164.5h1.5v1.3h-1.5zM9.5 165.8h1.5v1.3h-1.5zM12.6 165.8h4.6v1.3h-4.6zM18.7 165.8h1.5v1.3h-1.5zM58.8 168.3h4.6v1.3h-4.6zM6.4 170.8h1.5v1.3h-1.5zM6.4 172.1h1.5v1.3h-1.5zM75.7 172.1h1.5v1.3h-1.5zM6.4 173.4h1.5v1.3h-1.5zM75.7 173.4h1.5v1.3h-1.5zM6.4 174.6h1.5v1.3h-1.5zM75.7 174.6h1.5v1.3h-1.5zM6.4 175.9h10.8v1.3h-10.8zM66.5 175.9h10.8v1.3h-10.8zM86.5 175.9h1.5v1.3h-1.5zM6.4 177.1h1.5v1.3h-1.5zM68.0 177.1h1.5v1.3h-1.5zM75.7 177.1h1.5v1.3h-1.5zM6.4 178.4h1.5v1.3h-1.5zM57.2 178.4h1.5v1.3h-1.5zM68.0 178.4h1.5v1.3h-1.5zM75.7 178.4h1.5v1.3h-1.5zM68.0 179.7h1.5v1.3h-1.5zM75.7 179.7h1.5v1.3h-1.5zM66.5 180.9h4.6v1.3h-4.6zM14.1 182.2h1.5v1.3h-1.5zM77.2 182.2h1.5v1.3h-1.5zM14.1 183.5h1.5v1.3h-1.5zM77.2 183.5h3.1v1.3h-3.1zM14.1 184.7h1.5v1.3h-1.5zM28.0 184.7h1.5v1.3h-1.5zM72.6 184.7h1.5v1.3h-1.5zM75.7 184.7h4.6v1.3h-4.6zM14.1 186.0h1.5v1.3h-1.5zM28.0 186.0h1.5v1.3h-1.5zM43.4 186.0h1.5v1.3h-1.5zM49.5 186.0h1.5v1.3h-1.5zM72.6 186.0h1.5v1.3h-1.5zM75.7 186.0h1.5v1.3h-1.5zM28.0 187.3h1.5v1.3h-1.5zM84.9 187.3h1.5v1.3h-1.5zM28.0 188.5h1.5v1.3h-1.5zM34.1 188.5h1.5v1.3h-1.5zM48.0 188.5h3.1v1.3h-3.1zM75.7 188.5h1.5v1.3h-1.5zM28.0 189.8h1.5v1.3h-1.5zM34.1 189.8h1.5v1.3h-1.5zM46.4 189.8h3.1v1.3h-3.1zM34.1 191.1h1.5v1.3h-1.5zM49.5 191.1h1.5v1.3h-1.5zM77.2 191.1h1.5v1.3h-1.5zM46.4 192.3h3.1v1.3h-3.1zM72.6 192.3h1.5v1.3h-1.5zM86.5 192.3h1.5v1.3h-1.5zM43.4 193.6h1.5v1.3h-1.5zM72.6 193.6h1.5v1.3h-1.5zM43.4 194.9h1.5v1.3h-1.5zM81.8 194.9h1.5v1.3h-1.5zM41.8 196.1h1.5v1.3h-1.5zM49.5 196.1h1.5v1.3h-1.5zM81.8 196.1h1.5v1.3h-1.5zM11.0 197.4h1.5v1.3h-1.5zM26.4 197.4h3.1v1.3h-3.1zM44.9 197.4h1.5v1.3h-1.5zM11.0 198.7h1.5v1.3h-1.5zM38.7 198.7h1.5v1.3h-1.5zM11.0 199.9h1.5v1.3h-1.5zM40.3 199.9h1.5v1.3h-1.5zM43.4 199.9h1.5v1.3h-1.5zM46.4 199.9h1.5v1.3h-1.5zM49.5 199.9h1.5v1.3h-1.5zM54.1 199.9h6.2v1.3h-6.2zM61.8 199.9h4.6v1.3h-4.6zM14.1 201.2h4.6v1.3h-4.6zM43.4 201.2h1.5v1.3h-1.5zM38.7 202.5h10.8v1.3h-10.8zM20.3 203.7h1.5v1.3h-1.5zM51.1 203.7h6.2v1.3h-6.2zM1.8 205.0h1.5v1.3h-1.5zM20.3 205.0h1.5v1.3h-1.5zM24.9 205.0h1.5v1.3h-1.5zM52.6 205.0h7.7v1.3h-7.7zM61.8 205.0h1.5v1.3h-1.5zM1.8 206.3h1.5v1.3h-1.5zM15.7 206.3h1.5v1.3h-1.5zM20.3 206.3h1.5v1.3h-1.5zM24.9 206.3h1.5v1.3h-1.5zM1.8 207.5h1.5v1.3h-1.5zM15.7 207.5h1.5v1.3h-1.5zM20.3 207.5h1.5v1.3h-1.5zM24.9 207.5h1.5v1.3h-1.5zM64.9 207.5h4.6v1.3h-4.6zM1.8 208.8h1.5v1.3h-1.5zM20.3 208.8h1.5v1.3h-1.5zM1.8 210.1h1.5v1.3h-1.5zM20.3 210.1h1.5v1.3h-1.5zM24.9 210.1h1.5v1.3h-1.5zM1.8 211.3h1.5v1.3h-1.5zM24.9 211.3h1.5v1.3h-1.5zM43.4 211.3h1.5v1.3h-1.5zM58.8 211.3h6.2v1.3h-6.2z"/>
<path fill="#0096aa" d="M17.2 143.0h1.5v1.3h-1.5zM11.0 144.2h1.5v1.3h-1.5zM81.8 150.6h6.2v1.3h-6.2zM1.8 153.1h1.5v1.3h-1.5zM21.8 153.1h6.2v1.3h-6.2zM3.3 154.4h1.5v1.3h-1.5zM74.1 155.6h3.1v1.3h-3.1zM29.5 156.9h1.5v1.3h-1.5zM15.7 158.2h1.5v1.3h-1.5zM15.7 159.4h1.5v1.3h-1.5zM15.7 160.7h1.5v1.3h-1.5zM49.5 160.7h1.5v1.3h-1.5zM15.7 162.0h1.5v1.3h-1.5zM37.2 162.0h1.5v1.3h-1.5zM35.7 164.5h1.5v1.3h-1.5zM69.5 167.0h1.5v1.3h-1.5zM54.1 168.3h4.6v1.3h-4.6zM69.5 168.3h1.5v1.3h-1.5zM28.0 169.6h1.5v1.3h-1.5zM40.3 169.6h1.5v1.3h-1.5zM44.9 169.6h1.5v1.3h-1.5zM69.5 169.6h1.5v1.3h-1.5zM48.0 170.8h1.5v1.3h-1.5zM83.4 170.8h1.5v1.3h-1.5zM69.5 172.1h1.5v1.3h-1.5zM83.4 172.1h1.5v1.3h-1.5zM26.4 173.4h1.5v1.3h-1.5zM69.5 173.4h1.5v1.3h-1.5zM83.4 173.4h1.5v1.3h-1.5zM58.8 174.6h7.7v1.3h-7.7zM69.5 174.6h1.5v1.3h-1.5zM83.4 174.6h1.5v1.3h-1.5zM24.9 175.9h1.5v1.3h-1.5zM83.4 175.9h1.5v1.3h-1.5zM26.4 178.4h1.5v1.3h-1.5zM31.0 178.4h1.5v1.3h-1.5zM29.5 179.7h1.5v1.3h-1.5zM24.9 180.9h1.5v1.3h-1.5zM81.8 183.5h1.5v1.3h-1.5zM34.1 184.7h1.5v1.3h-1.5zM74.1 184.7h1.5v1.3h-1.5zM81.8 184.7h4.6v1.3h-4.6zM34.1 186.0h1.5v1.3h-1.5zM40.3 186.0h1.5v1.3h-1.5zM48.0 186.0h1.5v1.3h-1.5zM77.2 186.0h1.5v1.3h-1.5zM80.3 186.0h3.1v1.3h-3.1zM34.1 187.3h1.5v1.3h-1.5zM43.4 187.3h4.6v1.3h-4.6zM49.5 187.3h1.5v1.3h-1.5zM64.9 187.3h3.1v1.3h-3.1zM77.2 187.3h1.5v1.3h-1.5zM81.8 187.3h3.1v1.3h-3.1zM86.5 187.3h1.5v1.3h-1.5zM41.8 188.5h4.6v1.3h-4.6zM81.8 188.5h1.5v1.3h-1.5zM40.3 189.8h3.1v1.3h-3.1zM44.9 189.8h1.5v1.3h-1.5zM81.8 189.8h6.2v1.3h-6.2zM40.3 191.1h3.1v1.3h-3.1zM44.9 191.1h4.6v1.3h-4.6zM75.7 191.1h1.5v1.3h-1.5zM78.8 191.1h1.5v1.3h-1.5zM81.8 191.1h3.1v1.3h-3.1zM86.5 191.1h1.5v1.3h-1.5zM40.3 192.3h6.2v1.3h-6.2zM75.7 192.3h3.1v1.3h-3.1zM81.8 192.3h3.1v1.3h-3.1zM40.3 193.6h3.1v1.3h-3.1zM46.4 193.6h4.6v1.3h-4.6zM74.1 193.6h1.5v1.3h-1.5zM78.8 193.6h1.5v1.3h-1.5zM83.4 193.6h3.1v1.3h-3.1zM38.7 194.9h3.1v1.3h-3.1zM44.9 194.9h1.5v1.3h-1.5zM49.5 194.9h1.5v1.3h-1.5zM58.8 194.9h1.5v1.3h-1.5zM38.7 196.1h3.1v1.3h-3.1zM43.4 196.1h1.5v1.3h-1.5zM48.0 196.1h1.5v1.3h-1.5zM75.7 196.1h1.5v1.3h-1.5zM32.6 197.4h4.6v1.3h-4.6zM38.7 197.4h6.2v1.3h-6.2zM46.4 197.4h1.5v1.3h-1.5zM49.5 197.4h1.5v1.3h-1.5zM75.7 197.4h1.5v1.3h-1.5zM40.3 198.7h6.2v1.3h-6.2zM48.0 198.7h3.1v1.3h-3.1zM41.8 199.9h1.5v1.3h-1.5zM44.9 199.9h1.5v1.3h-1.5zM18.7 201.2h1.5v1.3h-1.5zM18.7 202.5h1.5v1.3h-1.5zM68.0 202.5h3.1v1.3h-3.1zM60.3 206.3h1.5v1.3h-1.5zM12.6 207.5h1.5v1.3h-1.5zM52.6 207.5h12.3v1.3h-12.3zM12.6 208.8h1.5v1.3h-1.5zM37.2 208.8h7.7v1.3h-7.7zM12.6 210.1h1.5v1.3h-1.5zM12.6 211.3h1.5v1.3h-1.5z"/>
<path fill="#28cd28" d="M3.3 141.7h9.2v1.3h-9.2zM14.1 141.7h1.5v1.3h-1.5zM17.2 141.7h3.1v1.3h-3.1zM1.8 143.0h1.5v1.3h-1.5zM4.9 143.0h4.6v1.3h-4.6zM12.6 143.0h1.5v1.3h-1.5zM15.7 143.0h1.5v1.3h-1.5zM18.7 143.0h1.5v1.3h-1.5zM1.8 144.2h1.5v1.3h-1.5zM8.0 144.2h3.1v1.3h-3.1zM12.6 144.2h7.7v1.3h-7.7zM1.8 145.5h4.6v1.3h-4.6zM8.0 145.5h3.1v1.3h-3.1zM14.1 145.5h6.2v1.3h-6.2zM1.8 146.8h4.6v1.3h-4.6zM11.0 146.8h9.2v1.3h-9.2zM1.8 148.0h1.5v1.3h-1.5zM4.9 148.0h4.6v1.3h-4.6zM1.8 149.3h1.5v1.3h-1.5zM4.9 149.3h4.6v1.3h-4.6zM1.8 150.6h6.2v1.3h-6.2zM1.8 151.8h7.7v1.3h-7.7zM6.4 153.1h3.1v1.3h-3.1zM1.8 154.4h1.5v1.3h-1.5zM4.9 154.4h4.6v1.3h-4.6zM24.9 154.4h9.2v1.3h-9.2zM1.8 155.6h7.7v1.3h-7.7zM24.9 156.9h1.5v1.3h-1.5zM32.6 156.9h18.5v1.3h-18.5zM34.1 158.2h9.2v1.3h-9.2zM44.9 158.2h3.1v1.3h-3.1zM52.6 158.2h1.5v1.3h-1.5zM20.3 159.4h1.5v1.3h-1.5zM35.7 159.4h4.6v1.3h-4.6zM41.8 159.4h9.2v1.3h-9.2zM52.6 159.4h1.5v1.3h-1.5zM83.4 159.4h1.5v1.3h-1.5zM17.2 160.7h1.5v1.3h-1.5zM20.3 160.7h1.5v1.3h-1.5zM29.5 160.7h1.5v1.3h-1.5zM32.6 160.7h1.5v1.3h-1.5zM35.7 160.7h1.5v1.3h-1.5zM41.8 160.7h1.5v1.3h-1.5zM46.4 160.7h3.1v1.3h-3.1zM83.4 160.7h1.5v1.3h-1.5zM17.2 162.0h1.5v1.3h-1.5zM20.3 162.0h1.5v1.3h-1.5zM38.7 162.0h1.5v1.3h-1.5zM41.8 162.0h7.7v1.3h-7.7zM52.6 162.0h1.5v1.3h-1.5zM83.4 162.0h1.5v1.3h-1.5zM17.2 163.2h1.5v1.3h-1.5zM20.3 163.2h1.5v1.3h-1.5zM23.4 163.2h1.5v1.3h-1.5zM35.7 163.2h3.1v1.3h-3.1zM40.3 163.2h3.1v1.3h-3.1zM44.9 163.2h4.6v1.3h-4.6zM51.1 163.2h1.5v1.3h-1.5zM83.4 163.2h1.5v1.3h-1.5zM17.2 164.5h1.5v1.3h-1.5zM20.3 164.5h1.5v1.3h-1.5zM37.2 164.5h9.2v1.3h-9.2zM48.0 164.5h1.5v1.3h-1.5zM51.1 164.5h3.1v1.3h-3.1zM63.4 164.5h12.3v1.3h-12.3zM83.4 164.5h1.5v1.3h-1.5zM17.2 165.8h1.5v1.3h-1.5zM20.3 165.8h1.5v1.3h-1.5zM24.9 165.8h1.5v1.3h-1.5zM37.2 165.8h3.1v1.3h-3.1zM43.4 165.8h1.5v1.3h-1.5zM46.4 165.8h1.5v1.3h-1.5zM49.5 165.8h4.6v1.3h-4.6zM66.5 165.8h12.3v1.3h-12.3zM17.2 167.0h1.5v1.3h-1.5zM20.3 167.0h1.5v1.3h-1.5zM24.9 167.0h1.5v1.3h-1.5zM37.2 167.0h1.5v1.3h-1.5zM41.8 167.0h4.6v1.3h-4.6zM48.0 167.0h4.6v1.3h-4.6zM21.8 168.3h1.5v1.3h-1.5zM32.6 168.3h1.5v1.3h-1.5zM35.7 168.3h3.1v1.3h-3.1zM40.3 168.3h6.2v1.3h-6.2zM48.0 168.3h3.1v1.3h-3.1zM52.6 168.3h1.5v1.3h-1.5zM20.3 169.6h1.5v1.3h-1.5zM23.4 169.6h4.6v1.3h-4.6zM29.5 169.6h6.2v1.3h-6.2zM37.2 169.6h3.1v1.3h-3.1zM41.8 169.6h3.1v1.3h-3.1zM46.4 169.6h7.7v1.3h-7.7zM20.3 170.8h1.5v1.3h-1.5zM23.4 170.8h1.5v1.3h-1.5zM28.0 170.8h9.2v1.3h-9.2zM38.7 170.8h6.2v1.3h-6.2zM49.5 170.8h1.5v1.3h-1.5zM52.6 170.8h1.5v1.3h-1.5zM69.5 170.8h12.3v1.3h-12.3zM20.3 172.1h10.8v1.3h-10.8zM34.1 172.1h4.6v1.3h-4.6zM41.8 172.1h3.1v1.3h-3.1zM23.4 173.4h1.5v1.3h-1.5zM28.0 173.4h1.5v1.3h-1.5zM34.1 173.4h1.5v1.3h-1.5zM37.2 173.4h3.1v1.3h-3.1zM20.3 174.6h1.5v1.3h-1.5zM23.4 174.6h1.5v1.3h-1.5zM26.4 174.6h13.9v1.3h-13.9zM20.3 175.9h1.5v1.3h-1.5zM23.4 175.9h1.5v1.3h-1.5zM26.4 175.9h7.7v1.3h-7.7zM35.7 175.9h4.6v1.3h-4.6zM21.8 177.1h3.1v1.3h-3.1zM26.4 177.1h7.7v1.3h-7.7zM37.2 177.1h1.5v1.3h-1.5zM20.3 178.4h6.2v1.3h-6.2zM28.0 178.4h1.5v1.3h-1.5zM32.6 178.4h3.1v1.3h-3.1zM52.6 178.4h4.6v1.3h-4.6zM20.3 179.7h9.2v1.3h-9.2zM31.0 179.7h7.7v1.3h-7.7zM52.6 179.7h1.5v1.3h-1.5zM20.3 180.9h1.5v1.3h-1.5zM23.4 180.9h1.5v1.3h-1.5zM31.0 180.9h7.7v1.3h-7.7zM28.0 182.2h6.2v1.3h-6.2zM35.7 182.2h1.5v1.3h-1.5zM61.8 182.2h1.5v1.3h-1.5zM66.5 182.2h3.1v1.3h-3.1zM71.1 182.2h1.5v1.3h-1.5zM21.8 183.5h3.1v1.3h-3.1zM26.4 183.5h1.5v1.3h-1.5zM29.5 183.5h3.1v1.3h-3.1zM34.1 183.5h4.6v1.3h-4.6zM46.4 183.5h3.1v1.3h-3.1zM61.8 183.5h3.1v1.3h-3.1zM66.5 183.5h6.2v1.3h-6.2zM46.4 184.7h1.5v1.3h-1.5zM61.8 184.7h7.7v1.3h-7.7zM71.1 184.7h1.5v1.3h-1.5zM80.3 184.7h1.5v1.3h-1.5zM86.5 184.7h1.5v1.3h-1.5zM38.7 186.0h1.5v1.3h-1.5zM41.8 186.0h1.5v1.3h-1.5zM46.4 186.0h1.5v1.3h-1.5zM58.8 186.0h1.5v1.3h-1.5zM61.8 186.0h1.5v1.3h-1.5zM66.5 186.0h4.6v1.3h-4.6zM74.1 186.0h1.5v1.3h-1.5zM78.8 186.0h1.5v1.3h-1.5zM84.9 186.0h3.1v1.3h-3.1zM38.7 187.3h1.5v1.3h-1.5zM41.8 187.3h1.5v1.3h-1.5zM48.0 187.3h1.5v1.3h-1.5zM61.8 187.3h1.5v1.3h-1.5zM68.0 187.3h1.5v1.3h-1.5zM71.1 187.3h4.6v1.3h-4.6zM78.8 187.3h3.1v1.3h-3.1zM38.7 188.5h3.1v1.3h-3.1zM46.4 188.5h1.5v1.3h-1.5zM54.1 188.5h1.5v1.3h-1.5zM57.2 188.5h1.5v1.3h-1.5zM61.8 188.5h1.5v1.3h-1.5zM64.9 188.5h6.2v1.3h-6.2zM72.6 188.5h3.1v1.3h-3.1zM78.8 188.5h3.1v1.3h-3.1zM83.4 188.5h4.6v1.3h-4.6zM43.4 189.8h1.5v1.3h-1.5zM61.8 189.8h20.0v1.3h-20.0zM38.7 191.1h1.5v1.3h-1.5zM43.4 191.1h1.5v1.3h-1.5zM51.1 191.1h6.2v1.3h-6.2zM58.8 191.1h1.5v1.3h-1.5zM72.6 191.1h3.1v1.3h-3.1zM80.3 191.1h1.5v1.3h-1.5zM84.9 191.1h1.5v1.3h-1.5zM29.5 192.3h1.5v1.3h-1.5zM49.5 192.3h1.5v1.3h-1.5zM52.6 192.3h7.7v1.3h-7.7zM64.9 192.3h1.5v1.3h-1.5zM68.0 192.3h1.5v1.3h-1.5zM71.1 192.3h1.5v1.3h-1.5zM74.1 192.3h1.5v1.3h-1.5zM78.8 192.3h3.1v1.3h-3.1zM29.5 193.6h1.5v1.3h-1.5zM38.7 193.6h1.5v1.3h-1.5zM44.9 193.6h1.5v1.3h-1.5zM54.1 193.6h4.6v1.3h-4.6zM60.3 193.6h1.5v1.3h-1.5zM66.5 193.6h3.1v1.3h-3.1zM77.2 193.6h1.5v1.3h-1.5zM80.3 193.6h3.1v1.3h-3.1zM86.5 193.6h1.5v1.3h-1.5zM29.5 194.9h3.1v1.3h-3.1zM41.8 194.9h1.5v1.3h-1.5zM46.4 194.9h3.1v1.3h-3.1zM51.1 194.9h3.1v1.3h-3.1zM60.3 194.9h1.5v1.3h-1.5zM63.4 194.9h3.1v1.3h-3.1zM69.5 194.9h1.5v1.3h-1.5zM80.3 194.9h1.5v1.3h-1.5zM29.5 196.1h3.1v1.3h-3.1zM44.9 196.1h3.1v1.3h-3.1zM51.1 196.1h10.8v1.3h-10.8zM64.9 196.1h1.5v1.3h-1.5zM71.1 196.1h1.5v1.3h-1.5zM80.3 196.1h1.5v1.3h-1.5zM29.5 197.4h3.1v1.3h-3.1zM37.2 197.4h1.5v1.3h-1.5zM52.6 197.4h9.2v1.3h-9.2zM68.0 197.4h1.5v1.3h-1.5zM29.5 198.7h3.1v1.3h-3.1zM37.2 198.7h1.5v1.3h-1.5zM51.1 198.7h4.6v1.3h-4.6zM57.2 198.7h1.5v1.3h-1.5zM60.3 198.7h1.5v1.3h-1.5zM63.4 198.7h1.5v1.3h-1.5zM68.0 198.7h1.5v1.3h-1.5zM72.6 198.7h9.2v1.3h-9.2zM86.5 198.7h1.5v1.3h-1.5zM29.5 199.9h3.1v1.3h-3.1zM37.2 199.9h1.5v1.3h-1.5zM60.3 199.9h1.5v1.3h-1.5zM71.1 199.9h1.5v1.3h-1.5zM74.1 199.9h3.1v1.3h-3.1zM78.8 199.9h1.5v1.3h-1.5zM86.5 199.9h1.5v1.3h-1.5zM29.5 201.2h3.1v1.3h-3.1zM37.2 201.2h1.5v1.3h-1.5zM60.3 201.2h1.5v1.3h-1.5zM71.1 201.2h3.1v1.3h-3.1zM75.7 201.2h6.2v1.3h-6.2zM84.9 201.2h3.1v1.3h-3.1zM31.0 202.5h1.5v1.3h-1.5zM37.2 202.5h1.5v1.3h-1.5zM60.3 202.5h1.5v1.3h-1.5zM71.1 202.5h4.6v1.3h-4.6zM78.8 202.5h6.2v1.3h-6.2zM86.5 202.5h1.5v1.3h-1.5zM31.0 203.7h1.5v1.3h-1.5zM37.2 203.7h1.5v1.3h-1.5zM60.3 203.7h1.5v1.3h-1.5zM71.1 203.7h1.5v1.3h-1.5zM74.1 203.7h1.5v1.3h-1.5zM78.8 203.7h4.6v1.3h-4.6zM86.5 203.7h1.5v1.3h-1.5zM37.2 205.0h1.5v1.3h-1.5zM60.3 205.0h1.5v1.3h-1.5zM71.1 205.0h7.7v1.3h-7.7zM83.4 205.0h1.5v1.3h-1.5zM86.5 205.0h1.5v1.3h-1.5zM37.2 206.3h1.5v1.3h-1.5zM63.4 206.3h6.2v1.3h-6.2zM71.1 206.3h1.5v1.3h-1.5zM74.1 206.3h1.5v1.3h-1.5zM77.2 206.3h3.1v1.3h-3.1zM83.4 206.3h1.5v1.3h-1.5zM86.5 206.3h1.5v1.3h-1.5zM80.3 207.5h1.5v1.3h-1.5zM83.4 207.5h1.5v1.3h-1.5zM86.5 207.5h1.5v1.3h-1.5zM23.4 208.8h7.7v1.3h-7.7zM77.2 208.8h4.6v1.3h-4.6zM86.5 208.8h1.5v1.3h-1.5zM74.1 210.1h4.6v1.3h-4.6zM83.4 210.1h1.5v1.3h-1.5zM86.5 210.1h1.5v1.3h-1.5zM71.1 211.3h13.9v1.3h-13.9z"/>
<path fill="#96aa1e" d="M12.6 141.7h1.5v1.3h-1.5zM15.7 141.7h1.5v1.3h-1.5zM9.5 143.0h3.1v1.3h-3.1zM14.1 143.0h1.5v1.3h-1.5zM3.3 144.2h1.5v1.3h-1.5zM6.4 144.2h1.5v1.3h-1.5zM11.0 145.5h3.1v1.3h-3.1zM6.4 146.8h1.5v1.3h-1.5zM9.5 146.8h1.5v1.3h-1.5zM3.3 148.0h1.5v1.3h-1.5zM3.3 149.3h1.5v1.3h-1.5zM8.0 150.6h1.5v1.3h-1.5zM3.3 153.1h3.1v1.3h-3.1zM21.8 156.9h3.1v1.3h-3.1zM26.4 156.9h3.1v1.3h-3.1zM31.0 156.9h1.5v1.3h-1.5zM51.1 156.9h3.1v1.3h-3.1zM20.3 158.2h1.5v1.3h-1.5zM43.4 158.2h1.5v1.3h-1.5zM48.0 158.2h4.6v1.3h-4.6zM40.3 159.4h1.5v1.3h-1.5zM51.1 159.4h1.5v1.3h-1.5zM37.2 160.7h4.6v1.3h-4.6zM43.4 160.7h3.1v1.3h-3.1zM51.1 160.7h3.1v1.3h-3.1zM35.7 162.0h1.5v1.3h-1.5zM40.3 162.0h1.5v1.3h-1.5zM49.5 162.0h3.1v1.3h-3.1zM38.7 163.2h1.5v1.3h-1.5zM43.4 163.2h1.5v1.3h-1.5zM49.5 163.2h1.5v1.3h-1.5zM52.6 163.2h1.5v1.3h-1.5zM46.4 164.5h1.5v1.3h-1.5zM49.5 164.5h1.5v1.3h-1.5zM35.7 165.8h1.5v1.3h-1.5zM40.3 165.8h3.1v1.3h-3.1zM44.9 165.8h1.5v1.3h-1.5zM48.0 165.8h1.5v1.3h-1.5zM34.1 167.0h3.1v1.3h-3.1zM38.7 167.0h3.1v1.3h-3.1zM46.4 167.0h1.5v1.3h-1.5zM52.6 167.0h1.5v1.3h-1.5zM20.3 168.3h1.5v1.3h-1.5zM38.7 168.3h1.5v1.3h-1.5zM46.4 168.3h1.5v1.3h-1.5zM51.1 168.3h1.5v1.3h-1.5zM21.8 169.6h1.5v1.3h-1.5zM21.8 170.8h1.5v1.3h-1.5zM24.9 170.8h3.1v1.3h-3.1zM44.9 170.8h3.1v1.3h-3.1zM51.1 170.8h1.5v1.3h-1.5zM31.0 172.1h3.1v1.3h-3.1zM40.3 172.1h1.5v1.3h-1.5zM20.3 173.4h3.1v1.3h-3.1zM24.9 173.4h1.5v1.3h-1.5zM29.5 173.4h4.6v1.3h-4.6zM35.7 173.4h1.5v1.3h-1.5zM21.8 174.6h1.5v1.3h-1.5zM24.9 174.6h1.5v1.3h-1.5zM21.8 175.9h1.5v1.3h-1.5zM34.1 175.9h1.5v1.3h-1.5zM20.3 177.1h1.5v1.3h-1.5zM24.9 177.1h1.5v1.3h-1.5zM34.1 177.1h3.1v1.3h-3.1zM29.5 178.4h1.5v1.3h-1.5zM35.7 178.4h3.1v1.3h-3.1zM21.8 180.9h1.5v1.3h-1.5zM26.4 180.9h4.6v1.3h-4.6zM20.3 182.2h7.7v1.3h-7.7zM34.1 182.2h1.5v1.3h-1.5zM37.2 182.2h1.5v1.3h-1.5zM63.4 182.2h3.1v1.3h-3.1zM69.5 182.2h1.5v1.3h-1.5zM20.3 183.5h1.5v1.3h-1.5zM24.9 183.5h1.5v1.3h-1.5zM28.0 183.5h1.5v1.3h-1.5zM32.6 183.5h1.5v1.3h-1.5zM64.9 183.5h1.5v1.3h-1.5zM69.5 184.7h1.5v1.3h-1.5zM63.4 186.0h3.1v1.3h-3.1zM71.1 186.0h1.5v1.3h-1.5zM63.4 187.3h1.5v1.3h-1.5zM69.5 187.3h1.5v1.3h-1.5zM63.4 188.5h1.5v1.3h-1.5zM71.1 188.5h1.5v1.3h-1.5zM57.2 191.1h1.5v1.3h-1.5zM60.3 191.1h1.5v1.3h-1.5zM51.1 192.3h1.5v1.3h-1.5zM60.3 192.3h1.5v1.3h-1.5zM51.1 193.6h3.1v1.3h-3.1zM58.8 193.6h1.5v1.3h-1.5zM54.1 194.9h4.6v1.3h-4.6zM51.1 197.4h1.5v1.3h-1.5zM55.7 198.7h1.5v1.3h-1.5zM58.8 198.7h1.5v1.3h-1.5zM81.8 198.7h4.6v1.3h-4.6zM71.1 207.5h1.5v1.3h-1.5zM71.1 208.8h1.5v1.3h-1.5zM71.1 210.1h1.5v1.3h-1.5zM84.9 211.3h1.5v1.3h-1.5z"/>
<path fill="#e1a000" d="M18.7 148.0h1.5v1.3h-1.5zM9.5 149.3h1.5v1.3h-1.5zM17.2 150.6h1.5v1.3h-1.5zM17.2 153.1h1.5v1.3h-1.5zM34.1 159.4h1.5v1.3h-1.5zM31.0 162.0h1.5v1.3h-1.5zM24.9 163.2h1.5v1.3h-1.5zM32.6 163.2h3.1v1.3h-3.1zM28.0 164.5h1.5v1.3h-1.5zM32.6 164.5h1.5v1.3h-1.5zM28.0 167.0h3.1v1.3h-3.1zM23.4 168.3h1.5v1.3h-1.5zM28.0 168.3h1.5v1.3h-1.5zM43.4 173.4h3.1v1.3h-3.1zM46.4 174.6h1.5v1.3h-1.5zM40.3 175.9h1.5v1.3h-1.5zM40.3 177.1h1.5v1.3h-1.5zM57.2 183.5h1.5v1.3h-1.5zM60.3 184.7h1.5v1.3h-1.5zM52.6 187.3h3.1v1.3h-3.1zM54.1 189.8h1.5v1.3h-1.5zM66.5 197.4h1.5v1.3h-1.5zM77.2 199.9h1.5v1.3h-1.5zM80.3 199.9h1.5v1.3h-1.5zM81.8 201.2h1.5v1.3h-1.5zM77.2 202.5h1.5v1.3h-1.5zM72.6 203.7h1.5v1.3h-1.5zM80.3 205.0h1.5v1.3h-1.5zM72.6 206.3h1.5v1.3h-1.5zM74.1 207.5h1.5v1.3h-1.5zM80.3 210.1h1.5v1.3h-1.5z"/>
<path fill="#b20800" d="M1.8 141.7h1.5v1.3h-1.5zM3.3 143.0h1.5v1.3h-1.5zM4.9 144.2h1.5v1.3h-1.5zM6.4 145.5h1.5v1.3h-1.5zM8.0 146.8h1.5v1.3h-1.5zM9.5 148.0h9.2v1.3h-9.2zM11.0 149.3h9.2v1.3h-9.2zM9.5 150.6h7.7v1.3h-7.7zM18.7 150.6h1.5v1.3h-1.5zM9.5 151.8h10.8v1.3h-10.8zM9.5 153.1h7.7v1.3h-7.7zM18.7 153.1h1.5v1.3h-1.5zM9.5 154.4h10.8v1.3h-10.8zM9.5 155.6h10.8v1.3h-10.8zM20.3 156.9h1.5v1.3h-1.5zM21.8 158.2h12.3v1.3h-12.3zM21.8 159.4h12.3v1.3h-12.3zM21.8 160.7h7.7v1.3h-7.7zM31.0 160.7h1.5v1.3h-1.5zM34.1 160.7h1.5v1.3h-1.5zM21.8 162.0h9.2v1.3h-9.2zM32.6 162.0h3.1v1.3h-3.1zM21.8 163.2h1.5v1.3h-1.5zM26.4 163.2h6.2v1.3h-6.2zM21.8 164.5h6.2v1.3h-6.2zM29.5 164.5h3.1v1.3h-3.1zM34.1 164.5h1.5v1.3h-1.5zM21.8 165.8h3.1v1.3h-3.1zM26.4 165.8h9.2v1.3h-9.2zM21.8 167.0h3.1v1.3h-3.1zM26.4 167.0h1.5v1.3h-1.5zM31.0 167.0h3.1v1.3h-3.1zM24.9 168.3h3.1v1.3h-3.1zM29.5 168.3h3.1v1.3h-3.1zM34.1 168.3h1.5v1.3h-1.5zM35.7 169.6h1.5v1.3h-1.5zM37.2 170.8h1.5v1.3h-1.5zM38.7 172.1h1.5v1.3h-1.5zM44.9 172.1h9.2v1.3h-9.2zM40.3 173.4h3.1v1.3h-3.1zM46.4 173.4h7.7v1.3h-7.7zM40.3 174.6h6.2v1.3h-6.2zM48.0 174.6h6.2v1.3h-6.2zM41.8 175.9h12.3v1.3h-12.3zM38.7 177.1h1.5v1.3h-1.5zM41.8 177.1h12.3v1.3h-12.3zM38.7 178.4h13.9v1.3h-13.9zM38.7 179.7h13.9v1.3h-13.9zM38.7 180.9h15.4v1.3h-15.4zM38.7 182.2h13.9v1.3h-13.9zM54.1 182.2h7.7v1.3h-7.7zM38.7 183.5h7.7v1.3h-7.7zM49.5 183.5h1.5v1.3h-1.5zM52.6 183.5h4.6v1.3h-4.6zM58.8 183.5h3.1v1.3h-3.1zM51.1 184.7h9.2v1.3h-9.2zM51.1 186.0h7.7v1.3h-7.7zM60.3 186.0h1.5v1.3h-1.5zM51.1 187.3h1.5v1.3h-1.5zM55.7 187.3h6.2v1.3h-6.2zM51.1 188.5h3.1v1.3h-3.1zM55.7 188.5h1.5v1.3h-1.5zM58.8 188.5h3.1v1.3h-3.1zM51.1 189.8h3.1v1.3h-3.1zM55.7 189.8h6.2v1.3h-6.2zM61.8 191.1h10.8v1.3h-10.8zM61.8 192.3h3.1v1.3h-3.1zM66.5 192.3h1.5v1.3h-1.5zM69.5 192.3h1.5v1.3h-1.5zM61.8 193.6h4.6v1.3h-4.6zM69.5 193.6h3.1v1.3h-3.1zM61.8 194.9h1.5v1.3h-1.5zM66.5 194.9h3.1v1.3h-3.1zM71.1 194.9h1.5v1.3h-1.5zM61.8 196.1h3.1v1.3h-3.1zM66.5 196.1h4.6v1.3h-4.6zM61.8 197.4h4.6v1.3h-4.6zM69.5 197.4h3.1v1.3h-3.1zM61.8 198.7h1.5v1.3h-1.5zM64.9 198.7h3.1v1.3h-3.1zM69.5 198.7h3.1v1.3h-3.1zM72.6 199.9h1.5v1.3h-1.5zM81.8 199.9h4.6v1.3h-4.6zM74.1 201.2h1.5v1.3h-1.5zM83.4 201.2h1.5v1.3h-1.5zM75.7 202.5h1.5v1.3h-1.5zM84.9 202.5h1.5v1.3h-1.5zM75.7 203.7h3.1v1.3h-3.1zM83.4 203.7h3.1v1.3h-3.1zM78.8 205.0h1.5v1.3h-1.5zM81.8 205.0h1.5v1.3h-1.5zM84.9 205.0h1.5v1.3h-1.5zM75.7 206.3h1.5v1.3h-1.5zM80.3 206.3h3.1v1.3h-3.1zM84.9 206.3h1.5v1.3h-1.5zM72.6 207.5h1.5v1.3h-1.5zM75.7 207.5h4.6v1.3h-4.6zM81.8 207.5h1.5v1.3h-1.5zM84.9 207.5h1.5v1.3h-1.5zM72.6 208.8h4.6v1.3h-4.6zM81.8 208.8h4.6v1.3h-4.6zM72.6 210.1h1.5v1.3h-1.5zM78.8 210.1h1.5v1.3h-1.5zM81.8 210.1h1.5v1.3h-1.5zM84.9 210.1h1.5v1.3h-1.5zM86.5 211.3h1.5v1.3h-1.5z"/>
</g>
<g shape-rendering="crispEdges">
<rect x="99.30" y="143.80" width="86.20" height="70.70" fill="#3c0ab4"/>
<path fill="#0a1edc" d="M150.1 143.8h1.5v1.3h-1.5zM176.3 143.8h6.2v1.3h-6.2zM150.1 145.1h1.5v1.3h-1.5zM156.3 145.1h1.5v1.3h-1.5zM150.1 146.3h1.5v1.3h-1.5zM156.3 146.3h1.5v1.3h-1.5zM150.1 147.6h1.5v1.3h-1.5zM156.3 147.6h1.5v1.3h-1.5zM117.8 148.9h1.5v1.3h-1.5zM156.3 148.9h1.5v1.3h-1.5zM176.3 148.9h1.5v1.3h-1.5zM117.8 150.1h1.5v1.3h-1.5zM150.1 150.1h1.5v1.3h-1.5zM156.3 150.1h1.5v1.3h-1.5zM117.8 151.4h1.5v1.3h-1.5zM150.1 151.4h1.5v1.3h-1.5zM156.3 151.4h1.5v1.3h-1.5zM180.9 151.4h1.5v1.3h-1.5zM117.8 152.6h1.5v1.3h-1.5zM150.1 152.6h1.5v1.3h-1.5zM180.9 152.6h1.5v1.3h-1.5zM117.8 153.9h1.5v1.3h-1.5zM180.9 153.9h1.5v1.3h-1.5zM117.8 155.2h1.5v1.3h-1.5zM150.1 155.2h1.5v1.3h-1.5zM180.9 155.2h1.5v1.3h-1.5zM122.4 156.4h1.5v1.3h-1.5zM150.1 156.4h1.5v1.3h-1.5zM180.9 156.4h1.5v1.3h-1.5zM122.4 157.7h1.5v1.3h-1.5zM127.0 157.7h1.5v1.3h-1.5zM148.6 157.7h3.1v1.3h-3.1zM105.5 159.0h9.2v1.3h-9.2zM150.1 159.0h1.5v1.3h-1.5zM160.9 159.0h12.3v1.3h-12.3zM130.1 160.2h1.5v1.3h-1.5zM150.1 160.2h1.5v1.3h-1.5zM160.9 160.2h10.8v1.3h-10.8zM150.1 161.5h1.5v1.3h-1.5zM162.4 161.5h1.5v1.3h-1.5zM167.0 161.5h6.2v1.3h-6.2zM174.7 161.5h1.5v1.3h-1.5zM177.8 161.5h7.7v1.3h-7.7zM114.7 162.7h3.1v1.3h-3.1zM139.3 162.7h1.5v1.3h-1.5zM150.1 162.7h1.5v1.3h-1.5zM162.4 162.7h1.5v1.3h-1.5zM150.1 164.0h1.5v1.3h-1.5zM137.8 165.3h1.5v1.3h-1.5zM150.1 165.3h1.5v1.3h-1.5zM116.2 166.5h1.5v1.3h-1.5zM150.1 166.5h1.5v1.3h-1.5zM125.5 167.8h1.5v1.3h-1.5zM150.1 167.8h1.5v1.3h-1.5zM163.9 167.8h1.5v1.3h-1.5zM150.1 169.1h4.6v1.3h-4.6zM163.9 169.1h1.5v1.3h-1.5zM120.8 170.3h1.5v1.3h-1.5zM140.9 170.3h1.5v1.3h-1.5zM150.1 170.3h1.5v1.3h-1.5zM163.9 170.3h1.5v1.3h-1.5zM150.1 171.6h1.5v1.3h-1.5zM163.9 171.6h3.1v1.3h-3.1zM150.1 172.8h1.5v1.3h-1.5zM163.9 172.8h3.1v1.3h-3.1zM176.3 172.8h1.5v1.3h-1.5zM150.1 174.1h1.5v1.3h-1.5zM163.9 174.1h3.1v1.3h-3.1zM150.1 175.4h12.3v1.3h-12.3zM163.9 175.4h1.5v1.3h-1.5zM177.8 175.4h7.7v1.3h-7.7zM117.8 176.6h1.5v1.3h-1.5zM150.1 176.6h1.5v1.3h-1.5zM136.2 177.9h1.5v1.3h-1.5zM150.1 177.9h1.5v1.3h-1.5zM163.9 177.9h1.5v1.3h-1.5zM177.8 177.9h1.5v1.3h-1.5zM150.1 179.2h1.5v1.3h-1.5zM154.7 179.2h1.5v1.3h-1.5zM163.9 179.2h1.5v1.3h-1.5zM177.8 179.2h1.5v1.3h-1.5zM103.9 180.4h7.7v1.3h-7.7zM116.2 180.4h1.5v1.3h-1.5zM123.9 180.4h1.5v1.3h-1.5zM128.5 180.4h1.5v1.3h-1.5zM131.6 180.4h1.5v1.3h-1.5zM134.7 180.4h1.5v1.3h-1.5zM139.3 180.4h1.5v1.3h-1.5zM163.9 180.4h1.5v1.3h-1.5zM130.1 181.7h1.5v1.3h-1.5zM140.9 181.7h3.1v1.3h-3.1zM163.9 181.7h1.5v1.3h-1.5zM130.1 182.9h1.5v1.3h-1.5zM116.2 184.2h1.5v1.3h-1.5zM130.1 184.2h1.5v1.3h-1.5zM116.2 185.5h1.5v1.3h-1.5zM130.1 185.5h1.5v1.3h-1.5zM137.8 185.5h1.5v1.3h-1.5zM130.1 186.7h1.5v1.3h-1.5zM137.8 186.7h1.5v1.3h-1.5zM130.1 188.0h1.5v1.3h-1.5zM137.8 188.0h1.5v1.3h-1.5zM137.8 189.2h1.5v1.3h-1.5zM142.4 189.2h1.5v1.3h-1.5zM177.8 189.2h4.6v1.3h-4.6zM100.8 190.5h9.2v1.3h-9.2zM137.8 190.5h1.5v1.3h-1.5zM137.8 191.8h1.5v1.3h-1.5zM99.3 193.0h10.8v1.3h-10.8zM111.6 193.0h32.3v1.3h-32.3zM150.1 193.0h1.5v1.3h-1.5zM117.8 194.3h3.1v1.3h-3.1zM137.8 194.3h1.5v1.3h-1.5zM150.1 194.3h1.5v1.3h-1.5zM117.8 195.6h6.2v1.3h-6.2zM150.1 195.6h3.1v1.3h-3.1zM117.8 196.8h3.1v1.3h-3.1zM128.5 196.8h10.8v1.3h-10.8zM140.9 196.8h6.2v1.3h-6.2zM148.6 196.8h3.1v1.3h-3.1zM117.8 198.1h3.1v1.3h-3.1zM133.2 198.1h4.6v1.3h-4.6zM148.6 198.1h3.1v1.3h-3.1zM117.8 199.4h4.6v1.3h-4.6zM148.6 199.4h3.1v1.3h-3.1zM117.8 200.6h4.6v1.3h-4.6zM148.6 200.6h3.1v1.3h-3.1zM174.7 200.6h1.5v1.3h-1.5zM177.8 200.6h1.5v1.3h-1.5zM117.8 201.9h4.6v1.3h-4.6zM148.6 201.9h3.1v1.3h-3.1zM174.7 201.9h1.5v1.3h-1.5zM177.8 201.9h1.5v1.3h-1.5zM117.8 203.1h1.5v1.3h-1.5zM120.8 203.1h1.5v1.3h-1.5zM148.6 203.1h3.1v1.3h-3.1zM174.7 203.1h10.8v1.3h-10.8zM150.1 204.4h1.5v1.3h-1.5zM174.7 204.4h3.1v1.3h-3.1zM120.8 205.7h1.5v1.3h-1.5zM150.1 205.7h1.5v1.3h-1.5zM168.6 205.7h6.2v1.3h-6.2zM99.3 206.9h1.5v1.3h-1.5zM105.5 206.9h1.5v1.3h-1.5zM134.7 206.9h1.5v1.3h-1.5zM150.1 206.9h1.5v1.3h-1.5zM171.6 206.9h3.1v1.3h-3.1zM99.3 208.2h1.5v1.3h-1.5zM120.8 208.2h1.5v1.3h-1.5zM137.8 208.2h1.5v1.3h-1.5zM140.9 208.2h3.1v1.3h-3.1zM150.1 208.2h1.5v1.3h-1.5zM154.7 208.2h1.5v1.3h-1.5zM168.6 208.2h4.6v1.3h-4.6zM99.3 209.4h1.5v1.3h-1.5zM120.8 209.4h1.5v1.3h-1.5zM137.8 209.4h1.5v1.3h-1.5zM150.1 209.4h1.5v1.3h-1.5zM154.7 209.4h1.5v1.3h-1.5zM171.6 209.4h1.5v1.3h-1.5zM99.3 210.7h1.5v1.3h-1.5zM108.5 210.7h7.7v1.3h-7.7zM120.8 210.7h1.5v1.3h-1.5zM137.8 210.7h1.5v1.3h-1.5zM150.1 210.7h1.5v1.3h-1.5zM154.7 210.7h1.5v1.3h-1.5zM171.6 210.7h1.5v1.3h-1.5zM120.8 212.0h1.5v1.3h-1.5zM137.8 212.0h1.5v1.3h-1.5zM150.1 212.0h1.5v1.3h-1.5zM171.6 212.0h1.5v1.3h-1.5zM120.8 213.2h1.5v1.3h-1.5zM137.8 213.2h1.5v1.3h-1.5zM150.1 213.2h1.5v1.3h-1.5zM171.6 213.2h1.5v1.3h-1.5z"/>
<path fill="#0096aa" d="M99.3 145.1h1.5v1.3h-1.5zM105.5 145.1h1.5v1.3h-1.5zM107.0 148.9h1.5v1.3h-1.5zM148.6 148.9h3.1v1.3h-3.1zM170.1 150.1h12.3v1.3h-12.3zM128.5 151.4h1.5v1.3h-1.5zM168.6 151.4h6.2v1.3h-6.2zM128.5 152.6h1.5v1.3h-1.5zM143.9 153.9h10.8v1.3h-10.8zM160.9 153.9h1.5v1.3h-1.5zM173.2 153.9h7.7v1.3h-7.7zM107.0 155.2h1.5v1.3h-1.5zM160.9 155.2h1.5v1.3h-1.5zM160.9 156.4h1.5v1.3h-1.5zM160.9 157.7h1.5v1.3h-1.5zM147.0 160.2h1.5v1.3h-1.5zM173.2 160.2h1.5v1.3h-1.5zM173.2 161.5h1.5v1.3h-1.5zM173.2 162.7h1.5v1.3h-1.5zM147.0 164.0h3.1v1.3h-3.1zM173.2 164.0h1.5v1.3h-1.5zM173.2 165.3h1.5v1.3h-1.5zM173.2 166.5h1.5v1.3h-1.5zM108.5 167.8h3.1v1.3h-3.1zM143.9 170.3h3.1v1.3h-3.1zM145.5 171.6h1.5v1.3h-1.5zM176.3 171.6h9.2v1.3h-9.2zM147.0 177.9h3.1v1.3h-3.1zM148.6 179.2h1.5v1.3h-1.5zM99.3 180.4h4.6v1.3h-4.6zM111.6 180.4h4.6v1.3h-4.6zM119.3 180.4h4.6v1.3h-4.6zM125.5 180.4h3.1v1.3h-3.1zM130.1 180.4h1.5v1.3h-1.5zM133.2 180.4h1.5v1.3h-1.5zM136.2 180.4h3.1v1.3h-3.1zM140.9 180.4h3.1v1.3h-3.1zM111.6 181.7h1.5v1.3h-1.5zM147.0 181.7h1.5v1.3h-1.5zM111.6 182.9h1.5v1.3h-1.5zM125.5 182.9h4.6v1.3h-4.6zM159.3 182.9h1.5v1.3h-1.5zM162.4 182.9h1.5v1.3h-1.5zM167.0 182.9h3.1v1.3h-3.1zM171.6 182.9h3.1v1.3h-3.1zM179.3 182.9h3.1v1.3h-3.1zM105.5 184.2h1.5v1.3h-1.5zM111.6 184.2h1.5v1.3h-1.5zM160.9 184.2h3.1v1.3h-3.1zM165.5 184.2h1.5v1.3h-1.5zM176.3 184.2h1.5v1.3h-1.5zM184.0 184.2h1.5v1.3h-1.5zM105.5 185.5h1.5v1.3h-1.5zM111.6 185.5h1.5v1.3h-1.5zM111.6 186.7h1.5v1.3h-1.5zM182.4 186.7h3.1v1.3h-3.1zM111.6 188.0h1.5v1.3h-1.5zM151.6 189.2h1.5v1.3h-1.5zM145.5 191.8h1.5v1.3h-1.5zM145.5 193.0h1.5v1.3h-1.5zM153.2 193.0h1.5v1.3h-1.5zM171.6 193.0h1.5v1.3h-1.5zM111.6 194.3h6.2v1.3h-6.2zM153.2 194.3h1.5v1.3h-1.5zM157.8 194.3h1.5v1.3h-1.5zM143.9 195.6h3.1v1.3h-3.1zM148.6 195.6h1.5v1.3h-1.5zM153.2 195.6h1.5v1.3h-1.5zM108.5 200.6h1.5v1.3h-1.5zM107.0 201.9h3.1v1.3h-3.1zM107.0 203.1h3.1v1.3h-3.1zM107.0 204.4h3.1v1.3h-3.1zM111.6 204.4h1.5v1.3h-1.5zM119.3 204.4h9.2v1.3h-9.2zM107.0 205.7h1.5v1.3h-1.5zM111.6 205.7h1.5v1.3h-1.5zM107.0 206.9h1.5v1.3h-1.5zM111.6 206.9h1.5v1.3h-1.5zM133.2 206.9h1.5v1.3h-1.5zM107.0 208.2h1.5v1.3h-1.5zM111.6 208.2h1.5v1.3h-1.5zM133.2 208.2h1.5v1.3h-1.5zM107.0 209.4h1.5v1.3h-1.5zM111.6 209.4h1.5v1.3h-1.5zM133.2 209.4h1.5v1.3h-1.5zM107.0 210.7h1.5v1.3h-1.5zM133.2 210.7h1.5v1.3h-1.5zM133.2 212.0h1.5v1.3h-1.5zM151.6 212.0h1.5v1.3h-1.5zM133.2 213.2h1.5v1.3h-1.5zM151.6 213.2h1.5v1.3h-1.5z"/>
<path fill="#28cd28" d="M100.8 143.8h3.1v1.3h-3.1zM107.0 143.8h3.1v1.3h-3.1zM111.6 143.8h4.6v1.3h-4.6zM102.4 145.1h3.1v1.3h-3.1zM108.5 145.1h9.2v1.3h-9.2zM99.3 146.3h3.1v1.3h-3.1zM107.0 146.3h7.7v1.3h-7.7zM116.2 146.3h1.5v1.3h-1.5zM100.8 147.6h3.1v1.3h-3.1zM110.1 147.6h1.5v1.3h-1.5zM113.2 147.6h1.5v1.3h-1.5zM123.9 147.6h1.5v1.3h-1.5zM99.3 148.9h6.2v1.3h-6.2zM108.5 148.9h3.1v1.3h-3.1zM123.9 148.9h1.5v1.3h-1.5zM99.3 150.1h4.6v1.3h-4.6zM105.5 150.1h1.5v1.3h-1.5zM108.5 150.1h3.1v1.3h-3.1zM113.2 150.1h4.6v1.3h-4.6zM123.9 150.1h1.5v1.3h-1.5zM99.3 151.4h9.2v1.3h-9.2zM139.3 151.4h3.1v1.3h-3.1zM99.3 152.6h3.1v1.3h-3.1zM103.9 152.6h3.1v1.3h-3.1zM153.2 152.6h10.8v1.3h-10.8zM100.8 153.9h6.2v1.3h-6.2zM110.1 153.9h1.5v1.3h-1.5zM102.4 155.2h4.6v1.3h-4.6zM99.3 156.4h3.1v1.3h-3.1zM105.5 156.4h1.5v1.3h-1.5zM111.6 156.4h1.5v1.3h-1.5zM99.3 157.7h9.2v1.3h-9.2zM127.0 159.0h4.6v1.3h-4.6zM133.2 159.0h4.6v1.3h-4.6zM140.9 159.0h4.6v1.3h-4.6zM147.0 159.0h1.5v1.3h-1.5zM125.5 160.2h1.5v1.3h-1.5zM131.6 160.2h1.5v1.3h-1.5zM134.7 160.2h1.5v1.3h-1.5zM140.9 160.2h1.5v1.3h-1.5zM143.9 160.2h3.1v1.3h-3.1zM125.5 161.5h18.5v1.3h-18.5zM145.5 161.5h4.6v1.3h-4.6zM125.5 162.7h1.5v1.3h-1.5zM131.6 162.7h1.5v1.3h-1.5zM136.2 162.7h1.5v1.3h-1.5zM140.9 162.7h1.5v1.3h-1.5zM143.9 162.7h4.6v1.3h-4.6zM103.9 164.0h4.6v1.3h-4.6zM125.5 164.0h1.5v1.3h-1.5zM130.1 164.0h1.5v1.3h-1.5zM133.2 164.0h13.9v1.3h-13.9zM119.3 165.3h3.1v1.3h-3.1zM127.0 165.3h6.2v1.3h-6.2zM134.7 165.3h3.1v1.3h-3.1zM140.9 165.3h6.2v1.3h-6.2zM165.5 165.3h1.5v1.3h-1.5zM119.3 166.5h1.5v1.3h-1.5zM122.4 166.5h4.6v1.3h-4.6zM139.3 166.5h3.1v1.3h-3.1zM143.9 166.5h4.6v1.3h-4.6zM165.5 166.5h1.5v1.3h-1.5zM117.8 167.8h7.7v1.3h-7.7zM139.3 167.8h6.2v1.3h-6.2zM147.0 167.8h3.1v1.3h-3.1zM165.5 167.8h1.5v1.3h-1.5zM117.8 169.1h1.5v1.3h-1.5zM120.8 169.1h1.5v1.3h-1.5zM123.9 169.1h3.1v1.3h-3.1zM142.4 169.1h1.5v1.3h-1.5zM145.5 169.1h4.6v1.3h-4.6zM122.4 170.3h4.6v1.3h-4.6zM139.3 170.3h1.5v1.3h-1.5zM147.0 170.3h3.1v1.3h-3.1zM117.8 171.6h9.2v1.3h-9.2zM139.3 171.6h6.2v1.3h-6.2zM147.0 171.6h3.1v1.3h-3.1zM117.8 172.8h1.5v1.3h-1.5zM120.8 172.8h6.2v1.3h-6.2zM139.3 172.8h1.5v1.3h-1.5zM142.4 172.8h1.5v1.3h-1.5zM145.5 172.8h4.6v1.3h-4.6zM177.8 172.8h7.7v1.3h-7.7zM119.3 174.1h4.6v1.3h-4.6zM139.3 174.1h6.2v1.3h-6.2zM148.6 174.1h1.5v1.3h-1.5zM119.3 175.4h3.1v1.3h-3.1zM123.9 175.4h1.5v1.3h-1.5zM139.3 175.4h7.7v1.3h-7.7zM148.6 175.4h1.5v1.3h-1.5zM108.5 176.6h1.5v1.3h-1.5zM122.4 176.6h1.5v1.3h-1.5zM127.0 176.6h3.1v1.3h-3.1zM131.6 176.6h3.1v1.3h-3.1zM136.2 176.6h3.1v1.3h-3.1zM140.9 176.6h1.5v1.3h-1.5zM145.5 176.6h4.6v1.3h-4.6zM108.5 177.9h1.5v1.3h-1.5zM117.8 177.9h4.6v1.3h-4.6zM123.9 177.9h3.1v1.3h-3.1zM128.5 177.9h4.6v1.3h-4.6zM134.7 177.9h1.5v1.3h-1.5zM143.9 177.9h3.1v1.3h-3.1zM117.8 179.2h9.2v1.3h-9.2zM128.5 179.2h3.1v1.3h-3.1zM133.2 179.2h6.2v1.3h-6.2zM140.9 179.2h1.5v1.3h-1.5zM143.9 179.2h3.1v1.3h-3.1zM170.1 179.2h1.5v1.3h-1.5zM117.8 180.4h1.5v1.3h-1.5zM145.5 180.4h1.5v1.3h-1.5zM148.6 180.4h10.8v1.3h-10.8zM170.1 180.4h1.5v1.3h-1.5zM117.8 181.7h1.5v1.3h-1.5zM143.9 181.7h1.5v1.3h-1.5zM148.6 181.7h3.1v1.3h-3.1zM153.2 181.7h6.2v1.3h-6.2zM170.1 181.7h1.5v1.3h-1.5zM117.8 182.9h1.5v1.3h-1.5zM143.9 182.9h3.1v1.3h-3.1zM148.6 182.9h10.8v1.3h-10.8zM160.9 182.9h1.5v1.3h-1.5zM163.9 182.9h3.1v1.3h-3.1zM170.1 182.9h1.5v1.3h-1.5zM174.7 182.9h4.6v1.3h-4.6zM182.4 182.9h3.1v1.3h-3.1zM117.8 184.2h1.5v1.3h-1.5zM143.9 184.2h4.6v1.3h-4.6zM150.1 184.2h6.2v1.3h-6.2zM159.3 184.2h1.5v1.3h-1.5zM163.9 184.2h1.5v1.3h-1.5zM167.0 184.2h9.2v1.3h-9.2zM177.8 184.2h6.2v1.3h-6.2zM143.9 185.5h6.2v1.3h-6.2zM153.2 185.5h1.5v1.3h-1.5zM157.8 185.5h1.5v1.3h-1.5zM143.9 186.7h7.7v1.3h-7.7zM153.2 186.7h4.6v1.3h-4.6zM110.1 188.0h1.5v1.3h-1.5zM145.5 188.0h4.6v1.3h-4.6zM151.6 188.0h1.5v1.3h-1.5zM157.8 188.0h1.5v1.3h-1.5zM110.1 189.2h1.5v1.3h-1.5zM143.9 189.2h3.1v1.3h-3.1zM150.1 189.2h1.5v1.3h-1.5zM153.2 189.2h1.5v1.3h-1.5zM156.3 189.2h4.6v1.3h-4.6zM110.1 190.5h1.5v1.3h-1.5zM143.9 190.5h3.1v1.3h-3.1zM148.6 190.5h3.1v1.3h-3.1zM153.2 190.5h1.5v1.3h-1.5zM157.8 190.5h3.1v1.3h-3.1zM167.0 190.5h10.8v1.3h-10.8zM110.1 191.8h1.5v1.3h-1.5zM143.9 191.8h1.5v1.3h-1.5zM147.0 191.8h10.8v1.3h-10.8zM159.3 191.8h1.5v1.3h-1.5zM110.1 193.0h1.5v1.3h-1.5zM143.9 193.0h1.5v1.3h-1.5zM147.0 193.0h3.1v1.3h-3.1zM151.6 193.0h1.5v1.3h-1.5zM154.7 193.0h4.6v1.3h-4.6zM162.4 193.0h4.6v1.3h-4.6zM170.1 193.0h1.5v1.3h-1.5zM110.1 194.3h1.5v1.3h-1.5zM143.9 194.3h6.2v1.3h-6.2zM151.6 194.3h1.5v1.3h-1.5zM154.7 194.3h3.1v1.3h-3.1zM159.3 194.3h1.5v1.3h-1.5zM162.4 194.3h12.3v1.3h-12.3zM110.1 195.6h1.5v1.3h-1.5zM147.0 195.6h1.5v1.3h-1.5zM154.7 195.6h7.7v1.3h-7.7zM163.9 195.6h7.7v1.3h-7.7zM173.2 195.6h1.5v1.3h-1.5zM159.3 196.8h3.1v1.3h-3.1zM165.5 196.8h9.2v1.3h-9.2zM125.5 198.1h4.6v1.3h-4.6zM159.3 198.1h3.1v1.3h-3.1zM167.0 198.1h7.7v1.3h-7.7zM156.3 199.4h1.5v1.3h-1.5zM159.3 199.4h7.7v1.3h-7.7zM170.1 199.4h4.6v1.3h-4.6zM156.3 200.6h1.5v1.3h-1.5zM160.9 200.6h7.7v1.3h-7.7zM170.1 200.6h4.6v1.3h-4.6zM142.4 201.9h6.2v1.3h-6.2zM156.3 201.9h1.5v1.3h-1.5zM159.3 201.9h10.8v1.3h-10.8zM171.6 201.9h3.1v1.3h-3.1zM156.3 203.1h1.5v1.3h-1.5zM159.3 203.1h1.5v1.3h-1.5zM162.4 203.1h1.5v1.3h-1.5zM165.5 203.1h3.1v1.3h-3.1zM170.1 203.1h1.5v1.3h-1.5zM156.3 204.4h1.5v1.3h-1.5zM159.3 204.4h6.2v1.3h-6.2zM167.0 204.4h1.5v1.3h-1.5zM170.1 204.4h1.5v1.3h-1.5zM156.3 205.7h1.5v1.3h-1.5zM182.4 205.7h3.1v1.3h-3.1zM156.3 206.9h1.5v1.3h-1.5zM182.4 206.9h1.5v1.3h-1.5zM134.7 208.2h1.5v1.3h-1.5zM134.7 209.4h1.5v1.3h-1.5zM134.7 210.7h1.5v1.3h-1.5zM182.4 210.7h1.5v1.3h-1.5zM134.7 212.0h1.5v1.3h-1.5zM174.7 212.0h1.5v1.3h-1.5zM134.7 213.2h1.5v1.3h-1.5zM177.8 213.2h1.5v1.3h-1.5zM182.4 213.2h1.5v1.3h-1.5z"/>
<path fill="#96aa1e" d="M103.9 143.8h3.1v1.3h-3.1zM110.1 143.8h1.5v1.3h-1.5zM116.2 143.8h1.5v1.3h-1.5zM107.0 145.1h1.5v1.3h-1.5zM103.9 146.3h3.1v1.3h-3.1zM114.7 146.3h1.5v1.3h-1.5zM99.3 147.6h1.5v1.3h-1.5zM105.5 147.6h4.6v1.3h-4.6zM111.6 147.6h1.5v1.3h-1.5zM114.7 147.6h3.1v1.3h-3.1zM111.6 148.9h6.2v1.3h-6.2zM103.9 150.1h1.5v1.3h-1.5zM111.6 150.1h1.5v1.3h-1.5zM102.4 152.6h1.5v1.3h-1.5zM107.0 152.6h1.5v1.3h-1.5zM99.3 153.9h1.5v1.3h-1.5zM107.0 153.9h1.5v1.3h-1.5zM99.3 155.2h3.1v1.3h-3.1zM102.4 156.4h3.1v1.3h-3.1zM107.0 156.4h1.5v1.3h-1.5zM125.5 159.0h1.5v1.3h-1.5zM131.6 159.0h1.5v1.3h-1.5zM137.8 159.0h3.1v1.3h-3.1zM145.5 159.0h1.5v1.3h-1.5zM148.6 159.0h1.5v1.3h-1.5zM127.0 160.2h3.1v1.3h-3.1zM133.2 160.2h1.5v1.3h-1.5zM136.2 160.2h4.6v1.3h-4.6zM142.4 160.2h1.5v1.3h-1.5zM148.6 160.2h1.5v1.3h-1.5zM143.9 161.5h1.5v1.3h-1.5zM127.0 162.7h4.6v1.3h-4.6zM133.2 162.7h3.1v1.3h-3.1zM137.8 162.7h1.5v1.3h-1.5zM142.4 162.7h1.5v1.3h-1.5zM148.6 162.7h1.5v1.3h-1.5zM127.0 164.0h3.1v1.3h-3.1zM131.6 164.0h1.5v1.3h-1.5zM122.4 165.3h3.1v1.3h-3.1zM133.2 165.3h1.5v1.3h-1.5zM139.3 165.3h1.5v1.3h-1.5zM147.0 165.3h3.1v1.3h-3.1zM117.8 166.5h1.5v1.3h-1.5zM120.8 166.5h1.5v1.3h-1.5zM142.4 166.5h1.5v1.3h-1.5zM148.6 166.5h1.5v1.3h-1.5zM145.5 167.8h1.5v1.3h-1.5zM119.3 169.1h1.5v1.3h-1.5zM122.4 169.1h1.5v1.3h-1.5zM139.3 169.1h3.1v1.3h-3.1zM143.9 169.1h1.5v1.3h-1.5zM117.8 170.3h3.1v1.3h-3.1zM142.4 170.3h1.5v1.3h-1.5zM119.3 172.8h1.5v1.3h-1.5zM140.9 172.8h1.5v1.3h-1.5zM143.9 172.8h1.5v1.3h-1.5zM117.8 174.1h1.5v1.3h-1.5zM123.9 174.1h3.1v1.3h-3.1zM145.5 174.1h3.1v1.3h-3.1zM117.8 175.4h1.5v1.3h-1.5zM122.4 175.4h1.5v1.3h-1.5zM125.5 175.4h1.5v1.3h-1.5zM147.0 175.4h1.5v1.3h-1.5zM119.3 176.6h3.1v1.3h-3.1zM123.9 176.6h3.1v1.3h-3.1zM130.1 176.6h1.5v1.3h-1.5zM134.7 176.6h1.5v1.3h-1.5zM142.4 176.6h3.1v1.3h-3.1zM122.4 177.9h1.5v1.3h-1.5zM127.0 177.9h1.5v1.3h-1.5zM133.2 177.9h1.5v1.3h-1.5zM137.8 177.9h3.1v1.3h-3.1zM142.4 177.9h1.5v1.3h-1.5zM127.0 179.2h1.5v1.3h-1.5zM131.6 179.2h1.5v1.3h-1.5zM139.3 179.2h1.5v1.3h-1.5zM147.0 179.2h1.5v1.3h-1.5zM147.0 180.4h1.5v1.3h-1.5zM151.6 181.7h1.5v1.3h-1.5zM156.3 184.2h3.1v1.3h-3.1zM151.6 185.5h1.5v1.3h-1.5zM154.7 185.5h3.1v1.3h-3.1zM157.8 186.7h1.5v1.3h-1.5zM143.9 188.0h1.5v1.3h-1.5zM150.1 188.0h1.5v1.3h-1.5zM154.7 188.0h3.1v1.3h-3.1zM147.0 189.2h3.1v1.3h-3.1zM147.0 190.5h1.5v1.3h-1.5zM151.6 190.5h1.5v1.3h-1.5zM154.7 190.5h1.5v1.3h-1.5zM160.9 193.0h1.5v1.3h-1.5zM167.0 193.0h3.1v1.3h-3.1zM173.2 193.0h1.5v1.3h-1.5zM171.6 195.6h1.5v1.3h-1.5zM162.4 196.8h1.5v1.3h-1.5zM162.4 198.1h3.1v1.3h-3.1zM168.6 199.4h1.5v1.3h-1.5zM159.3 200.6h1.5v1.3h-1.5zM160.9 203.1h1.5v1.3h-1.5zM163.9 203.1h1.5v1.3h-1.5zM168.6 203.1h1.5v1.3h-1.5zM173.2 203.1h1.5v1.3h-1.5zM165.5 204.4h1.5v1.3h-1.5zM168.6 204.4h1.5v1.3h-1.5zM171.6 204.4h1.5v1.3h-1.5zM176.3 205.7h1.5v1.3h-1.5zM180.9 205.7h1.5v1.3h-1.5zM179.3 206.9h1.5v1.3h-1.5zM174.7 208.2h3.1v1.3h-3.1zM179.3 208.2h1.5v1.3h-1.5zM182.4 208.2h1.5v1.3h-1.5zM174.7 209.4h4.6v1.3h-4.6zM182.4 209.4h1.5v1.3h-1.5zM176.3 210.7h1.5v1.3h-1.5zM179.3 210.7h1.5v1.3h-1.5zM176.3 212.0h1.5v1.3h-1.5zM179.3 212.0h3.1v1.3h-3.1zM174.7 213.2h3.1v1.3h-3.1zM179.3 213.2h1.5v1.3h-1.5z"/>
<path fill="#e1a000" d="M113.2 152.6h1.5v1.3h-1.5zM116.2 153.9h1.5v1.3h-1.5zM114.7 155.2h1.5v1.3h-1.5zM110.1 156.4h1.5v1.3h-1.5zM111.6 157.7h1.5v1.3h-1.5zM123.9 161.5h1.5v1.3h-1.5zM123.9 162.7h1.5v1.3h-1.5zM128.5 166.5h1.5v1.3h-1.5zM131.6 166.5h1.5v1.3h-1.5zM134.7 166.5h1.5v1.3h-1.5zM127.0 167.8h1.5v1.3h-1.5zM128.5 169.1h1.5v1.3h-1.5zM131.6 169.1h1.5v1.3h-1.5zM127.0 170.3h3.1v1.3h-3.1zM130.1 171.6h1.5v1.3h-1.5zM134.7 171.6h1.5v1.3h-1.5zM127.0 172.8h1.5v1.3h-1.5zM133.2 172.8h1.5v1.3h-1.5zM136.2 172.8h1.5v1.3h-1.5zM128.5 174.1h3.1v1.3h-3.1zM134.7 174.1h1.5v1.3h-1.5zM177.8 205.7h3.1v1.3h-3.1zM174.7 206.9h1.5v1.3h-1.5zM177.8 206.9h1.5v1.3h-1.5zM180.9 206.9h1.5v1.3h-1.5zM184.0 206.9h1.5v1.3h-1.5zM180.9 208.2h1.5v1.3h-1.5zM184.0 208.2h1.5v1.3h-1.5zM180.9 209.4h1.5v1.3h-1.5zM184.0 209.4h1.5v1.3h-1.5zM177.8 210.7h1.5v1.3h-1.5zM184.0 210.7h1.5v1.3h-1.5zM177.8 212.0h1.5v1.3h-1.5zM184.0 212.0h1.5v1.3h-1.5zM180.9 213.2h1.5v1.3h-1.5z"/>
<path fill="#cd1900" d="M119.3 159.0h6.2v1.3h-6.2zM117.8 160.2h1.5v1.3h-1.5zM120.8 160.2h4.6v1.3h-4.6zM117.8 161.5h3.1v1.3h-3.1zM122.4 161.5h1.5v1.3h-1.5zM117.8 162.7h4.6v1.3h-4.6zM117.8 164.0h6.2v1.3h-6.2zM130.1 166.5h1.5v1.3h-1.5zM133.2 166.5h1.5v1.3h-1.5zM136.2 166.5h3.1v1.3h-3.1zM131.6 167.8h7.7v1.3h-7.7zM127.0 169.1h1.5v1.3h-1.5zM134.7 169.1h1.5v1.3h-1.5zM137.8 169.1h1.5v1.3h-1.5zM130.1 170.3h1.5v1.3h-1.5zM136.2 170.3h3.1v1.3h-3.1zM127.0 171.6h3.1v1.3h-3.1zM131.6 171.6h1.5v1.3h-1.5zM136.2 171.6h3.1v1.3h-3.1zM128.5 172.8h1.5v1.3h-1.5zM131.6 172.8h1.5v1.3h-1.5zM137.8 172.8h1.5v1.3h-1.5zM127.0 174.1h1.5v1.3h-1.5zM133.2 174.1h1.5v1.3h-1.5zM137.8 174.1h1.5v1.3h-1.5zM127.0 175.4h10.8v1.3h-10.8zM174.7 210.7h1.5v1.3h-1.5z"/>
<path fill="#b20800" d="M99.3 143.8h1.5v1.3h-1.5zM100.8 145.1h1.5v1.3h-1.5zM102.4 146.3h1.5v1.3h-1.5zM103.9 147.6h1.5v1.3h-1.5zM105.5 148.9h1.5v1.3h-1.5zM107.0 150.1h1.5v1.3h-1.5zM108.5 151.4h9.2v1.3h-9.2zM108.5 152.6h4.6v1.3h-4.6zM114.7 152.6h3.1v1.3h-3.1zM108.5 153.9h1.5v1.3h-1.5zM111.6 153.9h4.6v1.3h-4.6zM108.5 155.2h6.2v1.3h-6.2zM116.2 155.2h1.5v1.3h-1.5zM108.5 156.4h1.5v1.3h-1.5zM113.2 156.4h4.6v1.3h-4.6zM108.5 157.7h3.1v1.3h-3.1zM113.2 157.7h4.6v1.3h-4.6zM117.8 159.0h1.5v1.3h-1.5zM119.3 160.2h1.5v1.3h-1.5zM120.8 161.5h1.5v1.3h-1.5zM122.4 162.7h1.5v1.3h-1.5zM123.9 164.0h1.5v1.3h-1.5zM125.5 165.3h1.5v1.3h-1.5zM127.0 166.5h1.5v1.3h-1.5zM128.5 167.8h3.1v1.3h-3.1zM130.1 169.1h1.5v1.3h-1.5zM133.2 169.1h1.5v1.3h-1.5zM136.2 169.1h1.5v1.3h-1.5zM131.6 170.3h4.6v1.3h-4.6zM133.2 171.6h1.5v1.3h-1.5zM130.1 172.8h1.5v1.3h-1.5zM134.7 172.8h1.5v1.3h-1.5zM131.6 174.1h1.5v1.3h-1.5zM136.2 174.1h1.5v1.3h-1.5zM137.8 175.4h1.5v1.3h-1.5zM139.3 176.6h1.5v1.3h-1.5zM140.9 177.9h1.5v1.3h-1.5zM142.4 179.2h1.5v1.3h-1.5zM143.9 180.4h1.5v1.3h-1.5zM145.5 181.7h1.5v1.3h-1.5zM147.0 182.9h1.5v1.3h-1.5zM148.6 184.2h1.5v1.3h-1.5zM150.1 185.5h1.5v1.3h-1.5zM151.6 186.7h1.5v1.3h-1.5zM153.2 188.0h1.5v1.3h-1.5zM154.7 189.2h1.5v1.3h-1.5zM156.3 190.5h1.5v1.3h-1.5zM157.8 191.8h1.5v1.3h-1.5zM159.3 193.0h1.5v1.3h-1.5zM160.9 194.3h1.5v1.3h-1.5zM162.4 195.6h1.5v1.3h-1.5zM163.9 196.8h1.5v1.3h-1.5zM165.5 198.1h1.5v1.3h-1.5zM167.0 199.4h1.5v1.3h-1.5zM168.6 200.6h1.5v1.3h-1.5zM170.1 201.9h1.5v1.3h-1.5zM171.6 203.1h1.5v1.3h-1.5zM173.2 204.4h1.5v1.3h-1.5zM174.7 205.7h1.5v1.3h-1.5zM176.3 206.9h1.5v1.3h-1.5zM177.8 208.2h1.5v1.3h-1.5zM179.3 209.4h1.5v1.3h-1.5zM180.9 210.7h1.5v1.3h-1.5zM182.4 212.0h1.5v1.3h-1.5zM184.0 213.2h1.5v1.3h-1.5z"/>
</g>
<g shape-rendering="crispEdges">
<rect x="3.00" y="250.00" width="86.00" height="71.30" fill="#3c0ab4"/>
<path fill="#0a1edc" d="M30.6 251.3h4.6v1.3h-4.6zM56.8 251.3h9.2v1.3h-9.2zM87.5 251.3h1.5v1.3h-1.5zM36.8 252.5h1.5v1.3h-1.5zM87.5 252.5h1.5v1.3h-1.5zM36.8 253.8h1.5v1.3h-1.5zM36.8 255.1h1.5v1.3h-1.5zM47.5 255.1h4.6v1.3h-4.6zM36.8 256.4h1.5v1.3h-1.5zM61.4 256.4h1.5v1.3h-1.5zM36.8 257.6h1.5v1.3h-1.5zM61.4 257.6h1.5v1.3h-1.5zM61.4 258.9h1.5v1.3h-1.5zM78.2 258.9h1.5v1.3h-1.5zM16.8 260.2h1.5v1.3h-1.5zM67.5 260.2h1.5v1.3h-1.5zM72.1 260.2h1.5v1.3h-1.5zM78.2 260.2h1.5v1.3h-1.5zM47.5 261.5h1.5v1.3h-1.5zM67.5 261.5h1.5v1.3h-1.5zM72.1 261.5h1.5v1.3h-1.5zM78.2 261.5h1.5v1.3h-1.5zM47.5 262.7h1.5v1.3h-1.5zM52.1 262.7h3.1v1.3h-3.1zM67.5 262.7h1.5v1.3h-1.5zM72.1 262.7h1.5v1.3h-1.5zM78.2 262.7h1.5v1.3h-1.5zM24.5 264.0h1.5v1.3h-1.5zM47.5 264.0h1.5v1.3h-1.5zM52.1 264.0h4.6v1.3h-4.6zM67.5 264.0h1.5v1.3h-1.5zM72.1 264.0h1.5v1.3h-1.5zM78.2 264.0h1.5v1.3h-1.5zM26.0 265.3h1.5v1.3h-1.5zM67.5 265.3h1.5v1.3h-1.5zM72.1 265.3h1.5v1.3h-1.5zM78.2 265.3h1.5v1.3h-1.5zM82.9 265.3h1.5v1.3h-1.5zM16.8 266.6h1.5v1.3h-1.5zM38.3 266.6h1.5v1.3h-1.5zM46.0 266.6h1.5v1.3h-1.5zM52.1 266.6h1.5v1.3h-1.5zM72.1 266.6h1.5v1.3h-1.5zM78.2 266.6h1.5v1.3h-1.5zM82.9 266.6h1.5v1.3h-1.5zM16.8 267.8h1.5v1.3h-1.5zM47.5 267.8h1.5v1.3h-1.5zM52.1 267.8h1.5v1.3h-1.5zM82.9 267.8h1.5v1.3h-1.5zM18.4 269.1h1.5v1.3h-1.5zM35.2 269.1h1.5v1.3h-1.5zM39.9 269.1h1.5v1.3h-1.5zM42.9 269.1h1.5v1.3h-1.5zM47.5 269.1h1.5v1.3h-1.5zM69.0 270.4h1.5v1.3h-1.5zM69.0 271.6h1.5v1.3h-1.5zM4.5 272.9h1.5v1.3h-1.5zM42.9 272.9h1.5v1.3h-1.5zM69.0 272.9h1.5v1.3h-1.5zM4.5 274.2h1.5v1.3h-1.5zM69.0 274.2h1.5v1.3h-1.5zM4.5 275.5h1.5v1.3h-1.5zM42.9 275.5h1.5v1.3h-1.5zM69.0 275.5h1.5v1.3h-1.5zM26.0 276.7h1.5v1.3h-1.5zM38.3 276.7h1.5v1.3h-1.5zM42.9 276.7h1.5v1.3h-1.5zM69.0 276.7h1.5v1.3h-1.5zM75.2 276.7h7.7v1.3h-7.7zM6.1 278.0h7.7v1.3h-7.7zM16.8 278.0h3.1v1.3h-3.1zM29.1 278.0h1.5v1.3h-1.5zM33.7 278.0h1.5v1.3h-1.5zM38.3 278.0h1.5v1.3h-1.5zM41.4 278.0h1.5v1.3h-1.5zM69.0 278.0h1.5v1.3h-1.5zM23.0 279.3h1.5v1.3h-1.5zM23.0 280.6h1.5v1.3h-1.5zM26.0 280.6h1.5v1.3h-1.5zM61.4 280.6h3.1v1.3h-3.1zM87.5 280.6h1.5v1.3h-1.5zM18.4 281.8h1.5v1.3h-1.5zM24.5 281.8h1.5v1.3h-1.5zM33.7 281.8h1.5v1.3h-1.5zM39.9 281.8h1.5v1.3h-1.5zM26.0 283.1h1.5v1.3h-1.5zM30.6 283.1h1.5v1.3h-1.5zM33.7 283.1h3.1v1.3h-3.1zM44.5 283.1h1.5v1.3h-1.5zM47.5 283.1h3.1v1.3h-3.1zM19.9 284.4h1.5v1.3h-1.5zM23.0 284.4h1.5v1.3h-1.5zM26.0 284.4h3.1v1.3h-3.1zM42.9 284.4h1.5v1.3h-1.5zM53.7 284.4h1.5v1.3h-1.5zM85.9 284.4h3.1v1.3h-3.1zM53.7 285.6h1.5v1.3h-1.5zM9.1 286.9h1.5v1.3h-1.5zM16.8 286.9h4.6v1.3h-4.6zM42.9 286.9h1.5v1.3h-1.5zM9.1 288.2h1.5v1.3h-1.5zM42.9 288.2h1.5v1.3h-1.5zM76.7 288.2h1.5v1.3h-1.5zM9.1 289.5h1.5v1.3h-1.5zM18.4 290.7h3.1v1.3h-3.1zM23.0 290.7h3.1v1.3h-3.1zM53.7 290.7h1.5v1.3h-1.5zM61.4 290.7h1.5v1.3h-1.5zM73.6 290.7h1.5v1.3h-1.5zM76.7 290.7h1.5v1.3h-1.5zM84.4 290.7h1.5v1.3h-1.5zM18.4 292.0h3.1v1.3h-3.1zM44.5 292.0h1.5v1.3h-1.5zM66.0 292.0h1.5v1.3h-1.5zM19.9 293.3h1.5v1.3h-1.5zM66.0 293.3h1.5v1.3h-1.5zM76.7 293.3h6.1v1.3h-6.1zM4.5 294.6h1.5v1.3h-1.5zM4.5 295.8h1.5v1.3h-1.5zM46.0 295.8h1.5v1.3h-1.5zM52.1 295.8h1.5v1.3h-1.5zM69.0 295.8h1.5v1.3h-1.5zM4.5 297.1h1.5v1.3h-1.5zM4.5 298.4h1.5v1.3h-1.5zM10.7 298.4h4.6v1.3h-4.6zM39.9 298.4h1.5v1.3h-1.5zM52.1 298.4h1.5v1.3h-1.5zM4.5 299.7h1.5v1.3h-1.5zM39.9 299.7h1.5v1.3h-1.5zM4.5 300.9h1.5v1.3h-1.5zM53.7 302.2h3.1v1.3h-3.1zM15.3 303.5h7.7v1.3h-7.7zM27.6 304.7h10.8v1.3h-10.8zM47.5 304.7h1.5v1.3h-1.5zM50.6 304.7h4.6v1.3h-4.6zM58.3 304.7h1.5v1.3h-1.5zM15.3 307.3h9.2v1.3h-9.2zM35.2 309.8h1.5v1.3h-1.5zM35.2 311.1h1.5v1.3h-1.5zM55.2 311.1h1.5v1.3h-1.5zM13.8 312.4h10.8v1.3h-10.8zM35.2 312.4h1.5v1.3h-1.5zM55.2 312.4h1.5v1.3h-1.5zM35.2 313.7h1.5v1.3h-1.5zM55.2 313.7h1.5v1.3h-1.5zM35.2 314.9h1.5v1.3h-1.5zM55.2 314.9h1.5v1.3h-1.5zM21.4 316.2h4.6v1.3h-4.6zM44.5 318.8h1.5v1.3h-1.5zM4.5 320.0h3.1v1.3h-3.1zM39.9 320.0h1.5v1.3h-1.5zM44.5 320.0h1.5v1.3h-1.5z"/>
<path fill="#0096aa" d="M15.3 251.3h1.5v1.3h-1.5zM18.4 251.3h1.5v1.3h-1.5zM7.6 252.5h1.5v1.3h-1.5zM18.4 252.5h1.5v1.3h-1.5zM18.4 253.8h1.5v1.3h-1.5zM6.1 255.1h1.5v1.3h-1.5zM27.6 258.9h1.5v1.3h-1.5zM35.2 258.9h1.5v1.3h-1.5zM49.1 258.9h1.5v1.3h-1.5zM79.8 258.9h1.5v1.3h-1.5zM4.5 260.2h1.5v1.3h-1.5zM35.2 260.2h1.5v1.3h-1.5zM49.1 260.2h1.5v1.3h-1.5zM79.8 260.2h1.5v1.3h-1.5zM19.9 261.5h1.5v1.3h-1.5zM35.2 261.5h1.5v1.3h-1.5zM49.1 261.5h1.5v1.3h-1.5zM4.5 262.7h4.6v1.3h-4.6zM35.2 262.7h1.5v1.3h-1.5zM26.0 264.0h1.5v1.3h-1.5zM44.5 266.6h1.5v1.3h-1.5zM36.8 267.8h3.1v1.3h-3.1zM44.5 267.8h1.5v1.3h-1.5zM36.8 269.1h1.5v1.3h-1.5zM13.8 270.4h1.5v1.3h-1.5zM16.8 270.4h1.5v1.3h-1.5zM39.9 270.4h1.5v1.3h-1.5zM47.5 270.4h1.5v1.3h-1.5zM16.8 271.6h1.5v1.3h-1.5zM46.0 272.9h1.5v1.3h-1.5zM35.2 274.2h1.5v1.3h-1.5zM59.8 274.2h1.5v1.3h-1.5zM82.9 275.5h1.5v1.3h-1.5zM13.8 276.7h1.5v1.3h-1.5zM36.8 276.7h1.5v1.3h-1.5zM59.8 276.7h1.5v1.3h-1.5zM82.9 276.7h1.5v1.3h-1.5zM32.2 278.0h1.5v1.3h-1.5zM42.9 278.0h1.5v1.3h-1.5zM59.8 278.0h1.5v1.3h-1.5zM82.9 278.0h1.5v1.3h-1.5zM15.3 279.3h6.1v1.3h-6.1zM59.8 279.3h1.5v1.3h-1.5zM82.9 279.3h1.5v1.3h-1.5zM16.8 280.6h1.5v1.3h-1.5zM19.9 280.6h3.1v1.3h-3.1zM46.0 280.6h1.5v1.3h-1.5zM59.8 280.6h1.5v1.3h-1.5zM82.9 280.6h1.5v1.3h-1.5zM23.0 281.8h1.5v1.3h-1.5zM59.8 281.8h1.5v1.3h-1.5zM82.9 281.8h1.5v1.3h-1.5zM21.4 283.1h3.1v1.3h-3.1zM36.8 283.1h1.5v1.3h-1.5zM46.0 283.1h1.5v1.3h-1.5zM82.9 283.1h1.5v1.3h-1.5zM15.3 284.4h1.5v1.3h-1.5zM21.4 284.4h1.5v1.3h-1.5zM30.6 285.6h1.5v1.3h-1.5zM39.9 285.6h1.5v1.3h-1.5zM42.9 285.6h1.5v1.3h-1.5zM59.8 285.6h1.5v1.3h-1.5zM69.0 286.9h3.1v1.3h-3.1zM87.5 286.9h1.5v1.3h-1.5zM13.8 288.2h4.6v1.3h-4.6zM75.2 288.2h1.5v1.3h-1.5zM79.8 288.2h1.5v1.3h-1.5zM82.9 288.2h1.5v1.3h-1.5zM87.5 288.2h1.5v1.3h-1.5zM53.7 289.5h1.5v1.3h-1.5zM69.0 289.5h4.6v1.3h-4.6zM76.7 289.5h3.1v1.3h-3.1zM82.9 289.5h1.5v1.3h-1.5zM85.9 289.5h1.5v1.3h-1.5zM69.0 290.7h1.5v1.3h-1.5zM72.1 290.7h1.5v1.3h-1.5zM75.2 290.7h1.5v1.3h-1.5zM79.8 290.7h4.6v1.3h-4.6zM85.9 290.7h1.5v1.3h-1.5zM72.1 292.0h1.5v1.3h-1.5zM76.7 292.0h3.1v1.3h-3.1zM81.3 292.0h3.1v1.3h-3.1zM85.9 292.0h3.1v1.3h-3.1zM56.8 293.3h1.5v1.3h-1.5zM76.7 294.6h10.8v1.3h-10.8zM55.2 295.8h1.5v1.3h-1.5zM81.3 295.8h7.7v1.3h-7.7zM32.2 297.1h1.5v1.3h-1.5zM35.2 297.1h7.7v1.3h-7.7zM46.0 297.1h1.5v1.3h-1.5zM81.3 297.1h1.5v1.3h-1.5zM56.8 311.1h1.5v1.3h-1.5zM64.4 311.1h1.5v1.3h-1.5zM56.8 312.4h1.5v1.3h-1.5zM13.8 313.7h3.1v1.3h-3.1zM56.8 313.7h1.5v1.3h-1.5zM56.8 314.9h4.6v1.3h-4.6zM33.7 316.2h10.8v1.3h-10.8zM56.8 316.2h3.1v1.3h-3.1zM56.8 317.5h3.1v1.3h-3.1zM56.8 318.8h3.1v1.3h-3.1zM67.5 318.8h3.1v1.3h-3.1zM84.4 318.8h1.5v1.3h-1.5zM58.3 320.0h1.5v1.3h-1.5z"/>
<path fill="#28cd28" d="M4.5 250.0h3.1v1.3h-3.1zM9.1 250.0h1.5v1.3h-1.5zM13.8 250.0h3.1v1.3h-3.1zM3.0 251.3h1.5v1.3h-1.5zM6.1 251.3h3.1v1.3h-3.1zM10.7 251.3h4.6v1.3h-4.6zM3.0 252.5h1.5v1.3h-1.5zM9.1 252.5h1.5v1.3h-1.5zM12.2 252.5h1.5v1.3h-1.5zM15.3 252.5h1.5v1.3h-1.5zM3.0 253.8h4.6v1.3h-4.6zM27.6 253.8h9.2v1.3h-9.2zM4.5 255.1h1.5v1.3h-1.5zM3.0 256.4h4.6v1.3h-4.6zM3.0 257.6h4.6v1.3h-4.6zM3.0 258.9h3.1v1.3h-3.1zM53.7 258.9h6.1v1.3h-6.1zM3.0 260.2h1.5v1.3h-1.5zM6.1 260.2h1.5v1.3h-1.5zM21.4 260.2h1.5v1.3h-1.5zM24.5 260.2h4.6v1.3h-4.6zM30.6 260.2h3.1v1.3h-3.1zM15.3 261.5h1.5v1.3h-1.5zM18.4 261.5h1.5v1.3h-1.5zM21.4 261.5h1.5v1.3h-1.5zM24.5 261.5h6.1v1.3h-6.1zM15.3 262.7h1.5v1.3h-1.5zM21.4 262.7h7.7v1.3h-7.7zM30.6 262.7h3.1v1.3h-3.1zM15.3 264.0h4.6v1.3h-4.6zM21.4 264.0h1.5v1.3h-1.5zM27.6 264.0h6.1v1.3h-6.1zM15.3 265.3h1.5v1.3h-1.5zM18.4 265.3h3.1v1.3h-3.1zM23.0 265.3h3.1v1.3h-3.1zM27.6 265.3h6.1v1.3h-6.1zM15.3 266.6h1.5v1.3h-1.5zM18.4 266.6h4.6v1.3h-4.6zM24.5 266.6h1.5v1.3h-1.5zM27.6 266.6h1.5v1.3h-1.5zM30.6 266.6h1.5v1.3h-1.5zM33.7 266.6h3.1v1.3h-3.1zM39.9 266.6h4.6v1.3h-4.6zM47.5 266.6h1.5v1.3h-1.5zM18.4 267.8h6.1v1.3h-6.1zM26.0 267.8h1.5v1.3h-1.5zM29.1 267.8h3.1v1.3h-3.1zM35.2 267.8h1.5v1.3h-1.5zM39.9 267.8h4.6v1.3h-4.6zM15.3 269.1h1.5v1.3h-1.5zM19.9 269.1h3.1v1.3h-3.1zM27.6 269.1h6.1v1.3h-6.1zM44.5 269.1h1.5v1.3h-1.5zM7.6 270.4h1.5v1.3h-1.5zM15.3 270.4h1.5v1.3h-1.5zM18.4 270.4h1.5v1.3h-1.5zM21.4 270.4h6.1v1.3h-6.1zM29.1 270.4h1.5v1.3h-1.5zM36.8 270.4h1.5v1.3h-1.5zM41.4 270.4h1.5v1.3h-1.5zM44.5 270.4h1.5v1.3h-1.5zM7.6 271.6h1.5v1.3h-1.5zM19.9 271.6h9.2v1.3h-9.2zM32.2 271.6h16.9v1.3h-16.9zM7.6 272.9h1.5v1.3h-1.5zM15.3 272.9h1.5v1.3h-1.5zM18.4 272.9h9.2v1.3h-9.2zM35.2 272.9h6.1v1.3h-6.1zM59.8 272.9h3.1v1.3h-3.1zM7.6 274.2h1.5v1.3h-1.5zM15.3 274.2h1.5v1.3h-1.5zM18.4 274.2h4.6v1.3h-4.6zM26.0 274.2h1.5v1.3h-1.5zM29.1 274.2h1.5v1.3h-1.5zM33.7 274.2h1.5v1.3h-1.5zM38.3 274.2h3.1v1.3h-3.1zM44.5 274.2h3.1v1.3h-3.1zM7.6 275.5h1.5v1.3h-1.5zM29.1 275.5h4.6v1.3h-4.6zM35.2 275.5h6.1v1.3h-6.1zM46.0 275.5h1.5v1.3h-1.5zM58.3 275.5h4.6v1.3h-4.6zM7.6 276.7h1.5v1.3h-1.5zM15.3 276.7h7.7v1.3h-7.7zM24.5 276.7h1.5v1.3h-1.5zM29.1 276.7h3.1v1.3h-3.1zM33.7 276.7h1.5v1.3h-1.5zM39.9 276.7h3.1v1.3h-3.1zM44.5 276.7h3.1v1.3h-3.1zM15.3 278.0h1.5v1.3h-1.5zM21.4 278.0h1.5v1.3h-1.5zM30.6 278.0h1.5v1.3h-1.5zM21.4 279.3h1.5v1.3h-1.5zM26.0 279.3h1.5v1.3h-1.5zM29.1 279.3h1.5v1.3h-1.5zM32.2 279.3h1.5v1.3h-1.5zM35.2 279.3h1.5v1.3h-1.5zM46.0 279.3h1.5v1.3h-1.5zM15.3 280.6h1.5v1.3h-1.5zM18.4 280.6h1.5v1.3h-1.5zM24.5 280.6h1.5v1.3h-1.5zM29.1 280.6h10.8v1.3h-10.8zM44.5 280.6h1.5v1.3h-1.5zM15.3 281.8h3.1v1.3h-3.1zM19.9 281.8h3.1v1.3h-3.1zM32.2 281.8h1.5v1.3h-1.5zM35.2 281.8h4.6v1.3h-4.6zM46.0 281.8h1.5v1.3h-1.5zM16.8 283.1h4.6v1.3h-4.6zM24.5 283.1h1.5v1.3h-1.5zM29.1 283.1h1.5v1.3h-1.5zM16.8 284.4h3.1v1.3h-3.1zM24.5 284.4h1.5v1.3h-1.5zM29.1 284.4h1.5v1.3h-1.5zM32.2 284.4h1.5v1.3h-1.5zM35.2 284.4h1.5v1.3h-1.5zM39.9 284.4h1.5v1.3h-1.5zM46.0 284.4h7.7v1.3h-7.7zM55.2 284.4h3.1v1.3h-3.1zM29.1 285.6h1.5v1.3h-1.5zM32.2 285.6h4.6v1.3h-4.6zM38.3 285.6h1.5v1.3h-1.5zM41.4 285.6h1.5v1.3h-1.5zM44.5 285.6h1.5v1.3h-1.5zM47.5 285.6h6.1v1.3h-6.1zM55.2 285.6h4.6v1.3h-4.6zM44.5 286.9h3.1v1.3h-3.1zM50.6 286.9h1.5v1.3h-1.5zM55.2 286.9h1.5v1.3h-1.5zM59.8 286.9h1.5v1.3h-1.5zM72.1 286.9h1.5v1.3h-1.5zM75.2 286.9h4.6v1.3h-4.6zM81.3 286.9h6.1v1.3h-6.1zM44.5 288.2h1.5v1.3h-1.5zM47.5 288.2h1.5v1.3h-1.5zM50.6 288.2h10.8v1.3h-10.8zM69.0 288.2h6.1v1.3h-6.1zM78.2 288.2h1.5v1.3h-1.5zM85.9 288.2h1.5v1.3h-1.5zM44.5 289.5h6.1v1.3h-6.1zM52.1 289.5h1.5v1.3h-1.5zM58.3 289.5h3.1v1.3h-3.1zM75.2 289.5h1.5v1.3h-1.5zM81.3 289.5h1.5v1.3h-1.5zM84.4 289.5h1.5v1.3h-1.5zM87.5 289.5h1.5v1.3h-1.5zM44.5 290.7h1.5v1.3h-1.5zM47.5 290.7h4.6v1.3h-4.6zM56.8 290.7h3.1v1.3h-3.1zM70.6 290.7h1.5v1.3h-1.5zM78.2 290.7h1.5v1.3h-1.5zM87.5 290.7h1.5v1.3h-1.5zM13.8 292.0h1.5v1.3h-1.5zM46.0 292.0h1.5v1.3h-1.5zM49.1 292.0h4.6v1.3h-4.6zM55.2 292.0h3.1v1.3h-3.1zM59.8 292.0h1.5v1.3h-1.5zM69.0 292.0h3.1v1.3h-3.1zM75.2 292.0h1.5v1.3h-1.5zM13.8 293.3h1.5v1.3h-1.5zM44.5 293.3h1.5v1.3h-1.5zM50.6 293.3h4.6v1.3h-4.6zM59.8 293.3h1.5v1.3h-1.5zM13.8 294.6h1.5v1.3h-1.5zM44.5 294.6h1.5v1.3h-1.5zM47.5 294.6h6.1v1.3h-6.1zM55.2 294.6h1.5v1.3h-1.5zM58.3 294.6h1.5v1.3h-1.5zM13.8 295.8h1.5v1.3h-1.5zM33.7 295.8h1.5v1.3h-1.5zM61.4 295.8h4.6v1.3h-4.6zM30.6 297.1h1.5v1.3h-1.5zM33.7 297.1h1.5v1.3h-1.5zM47.5 297.1h4.6v1.3h-4.6zM53.7 297.1h3.1v1.3h-3.1zM61.4 297.1h1.5v1.3h-1.5zM64.4 297.1h1.5v1.3h-1.5zM69.0 297.1h1.5v1.3h-1.5zM30.6 298.4h1.5v1.3h-1.5zM33.7 298.4h1.5v1.3h-1.5zM58.3 298.4h1.5v1.3h-1.5zM69.0 298.4h10.8v1.3h-10.8zM84.4 298.4h4.6v1.3h-4.6zM58.3 299.7h1.5v1.3h-1.5zM64.4 299.7h1.5v1.3h-1.5zM67.5 299.7h15.4v1.3h-15.4zM84.4 299.7h4.6v1.3h-4.6zM58.3 300.9h1.5v1.3h-1.5zM66.0 300.9h1.5v1.3h-1.5zM69.0 300.9h9.2v1.3h-9.2zM79.8 300.9h9.2v1.3h-9.2zM59.8 302.2h1.5v1.3h-1.5zM62.9 302.2h1.5v1.3h-1.5zM70.6 302.2h10.8v1.3h-10.8zM82.9 302.2h1.5v1.3h-1.5zM85.9 302.2h3.1v1.3h-3.1zM64.4 303.5h3.1v1.3h-3.1zM70.6 303.5h6.1v1.3h-6.1zM78.2 303.5h6.1v1.3h-6.1zM85.9 303.5h3.1v1.3h-3.1zM49.1 304.7h1.5v1.3h-1.5zM59.8 304.7h6.1v1.3h-6.1zM70.6 304.7h1.5v1.3h-1.5zM75.2 304.7h1.5v1.3h-1.5zM78.2 304.7h1.5v1.3h-1.5zM81.3 304.7h6.1v1.3h-6.1zM49.1 306.0h1.5v1.3h-1.5zM61.4 306.0h9.2v1.3h-9.2zM79.8 306.0h1.5v1.3h-1.5zM82.9 306.0h1.5v1.3h-1.5zM85.9 306.0h3.1v1.3h-3.1zM49.1 307.3h1.5v1.3h-1.5zM61.4 307.3h4.6v1.3h-4.6zM67.5 307.3h1.5v1.3h-1.5zM73.6 307.3h1.5v1.3h-1.5zM76.7 307.3h3.1v1.3h-3.1zM81.3 307.3h1.5v1.3h-1.5zM85.9 307.3h3.1v1.3h-3.1zM49.1 308.6h1.5v1.3h-1.5zM62.9 308.6h1.5v1.3h-1.5zM66.0 308.6h3.1v1.3h-3.1zM70.6 308.6h1.5v1.3h-1.5zM75.2 308.6h1.5v1.3h-1.5zM79.8 308.6h1.5v1.3h-1.5zM82.9 308.6h6.1v1.3h-6.1zM61.4 309.8h13.8v1.3h-13.8zM76.7 309.8h1.5v1.3h-1.5zM79.8 309.8h3.1v1.3h-3.1zM84.4 309.8h4.6v1.3h-4.6zM61.4 311.1h3.1v1.3h-3.1zM66.0 311.1h3.1v1.3h-3.1zM72.1 311.1h4.6v1.3h-4.6zM82.9 311.1h6.1v1.3h-6.1zM62.9 312.4h1.5v1.3h-1.5zM66.0 312.4h1.5v1.3h-1.5zM69.0 312.4h1.5v1.3h-1.5zM72.1 312.4h3.1v1.3h-3.1zM79.8 312.4h1.5v1.3h-1.5zM87.5 312.4h1.5v1.3h-1.5zM61.4 313.7h7.7v1.3h-7.7zM70.6 313.7h3.1v1.3h-3.1zM75.2 313.7h1.5v1.3h-1.5zM81.3 313.7h3.1v1.3h-3.1zM85.9 313.7h3.1v1.3h-3.1zM62.9 314.9h7.7v1.3h-7.7zM76.7 314.9h4.6v1.3h-4.6zM85.9 314.9h3.1v1.3h-3.1zM61.4 316.2h1.5v1.3h-1.5zM64.4 316.2h7.7v1.3h-7.7zM73.6 316.2h3.1v1.3h-3.1zM81.3 316.2h1.5v1.3h-1.5zM84.4 316.2h4.6v1.3h-4.6zM61.4 317.5h1.5v1.3h-1.5zM64.4 317.5h1.5v1.3h-1.5zM69.0 317.5h1.5v1.3h-1.5zM73.6 317.5h4.6v1.3h-4.6zM82.9 317.5h1.5v1.3h-1.5zM87.5 317.5h1.5v1.3h-1.5zM61.4 318.8h6.1v1.3h-6.1zM70.6 318.8h6.1v1.3h-6.1zM78.2 318.8h6.1v1.3h-6.1zM87.5 318.8h1.5v1.3h-1.5zM61.4 320.0h1.5v1.3h-1.5zM64.4 320.0h1.5v1.3h-1.5zM72.1 320.0h7.7v1.3h-7.7zM81.3 320.0h6.1v1.3h-6.1z"/>
<path fill="#96aa1e" d="M7.6 250.0h1.5v1.3h-1.5zM10.7 250.0h3.1v1.3h-3.1zM9.1 251.3h1.5v1.3h-1.5zM4.5 252.5h1.5v1.3h-1.5zM10.7 252.5h1.5v1.3h-1.5zM13.8 252.5h1.5v1.3h-1.5zM3.0 255.1h1.5v1.3h-1.5zM6.1 258.9h1.5v1.3h-1.5zM18.4 260.2h3.1v1.3h-3.1zM23.0 260.2h1.5v1.3h-1.5zM23.0 261.5h1.5v1.3h-1.5zM30.6 261.5h3.1v1.3h-3.1zM19.9 262.7h1.5v1.3h-1.5zM29.1 262.7h1.5v1.3h-1.5zM26.0 266.6h1.5v1.3h-1.5zM29.1 266.6h1.5v1.3h-1.5zM32.2 266.6h1.5v1.3h-1.5zM36.8 266.6h1.5v1.3h-1.5zM15.3 267.8h1.5v1.3h-1.5zM27.6 267.8h1.5v1.3h-1.5zM32.2 267.8h1.5v1.3h-1.5zM16.8 269.1h1.5v1.3h-1.5zM23.0 269.1h3.1v1.3h-3.1zM19.9 270.4h1.5v1.3h-1.5zM30.6 270.4h3.1v1.3h-3.1zM15.3 271.6h1.5v1.3h-1.5zM30.6 271.6h1.5v1.3h-1.5zM16.8 272.9h1.5v1.3h-1.5zM27.6 272.9h3.1v1.3h-3.1zM32.2 272.9h3.1v1.3h-3.1zM41.4 272.9h1.5v1.3h-1.5zM44.5 272.9h1.5v1.3h-1.5zM16.8 274.2h1.5v1.3h-1.5zM23.0 274.2h3.1v1.3h-3.1zM27.6 274.2h1.5v1.3h-1.5zM30.6 274.2h1.5v1.3h-1.5zM36.8 274.2h1.5v1.3h-1.5zM41.4 274.2h1.5v1.3h-1.5zM41.4 275.5h1.5v1.3h-1.5zM44.5 275.5h1.5v1.3h-1.5zM32.2 276.7h1.5v1.3h-1.5zM35.2 278.0h1.5v1.3h-1.5zM30.6 279.3h1.5v1.3h-1.5zM33.7 279.3h1.5v1.3h-1.5zM36.8 279.3h1.5v1.3h-1.5zM39.9 279.3h6.1v1.3h-6.1zM41.4 280.6h1.5v1.3h-1.5zM38.3 283.1h1.5v1.3h-1.5zM30.6 284.4h1.5v1.3h-1.5zM33.7 284.4h1.5v1.3h-1.5zM38.3 284.4h1.5v1.3h-1.5zM58.3 284.4h3.1v1.3h-3.1zM49.1 286.9h1.5v1.3h-1.5zM56.8 286.9h3.1v1.3h-3.1zM46.0 288.2h1.5v1.3h-1.5zM55.2 289.5h3.1v1.3h-3.1zM55.2 290.7h1.5v1.3h-1.5zM59.8 290.7h1.5v1.3h-1.5zM47.5 292.0h1.5v1.3h-1.5zM58.3 292.0h1.5v1.3h-1.5zM46.0 293.3h4.6v1.3h-4.6zM58.3 293.3h1.5v1.3h-1.5zM59.8 294.6h1.5v1.3h-1.5zM44.5 295.8h1.5v1.3h-1.5zM44.5 297.1h1.5v1.3h-1.5zM52.1 297.1h1.5v1.3h-1.5zM56.8 297.1h1.5v1.3h-1.5zM79.8 298.4h4.6v1.3h-4.6zM82.9 299.7h1.5v1.3h-1.5zM78.2 300.9h1.5v1.3h-1.5zM81.3 302.2h1.5v1.3h-1.5zM84.4 302.2h1.5v1.3h-1.5zM76.7 303.5h1.5v1.3h-1.5zM84.4 303.5h1.5v1.3h-1.5zM87.5 304.7h1.5v1.3h-1.5zM66.0 307.3h1.5v1.3h-1.5zM61.4 308.6h1.5v1.3h-1.5zM64.4 308.6h1.5v1.3h-1.5zM61.4 312.4h1.5v1.3h-1.5zM64.4 312.4h1.5v1.3h-1.5zM67.5 312.4h1.5v1.3h-1.5zM85.9 312.4h1.5v1.3h-1.5zM61.4 314.9h1.5v1.3h-1.5zM62.9 316.2h1.5v1.3h-1.5zM62.9 317.5h1.5v1.3h-1.5zM66.0 317.5h3.1v1.3h-3.1zM85.9 317.5h1.5v1.3h-1.5zM76.7 318.8h1.5v1.3h-1.5zM62.9 320.0h1.5v1.3h-1.5zM66.0 320.0h6.1v1.3h-6.1zM79.8 320.0h1.5v1.3h-1.5z"/>
<path fill="#e1a000" d="M62.9 298.4h1.5v1.3h-1.5zM59.8 300.9h1.5v1.3h-1.5zM62.9 300.9h1.5v1.3h-1.5zM67.5 300.9h1.5v1.3h-1.5zM76.7 306.0h3.1v1.3h-3.1zM70.6 307.3h1.5v1.3h-1.5zM76.7 313.7h1.5v1.3h-1.5zM70.6 314.9h1.5v1.3h-1.5zM73.6 314.9h1.5v1.3h-1.5zM76.7 316.2h4.6v1.3h-4.6z"/>
<path fill="#cd1900" d="M12.2 253.8h1.5v1.3h-1.5zM15.3 255.1h1.5v1.3h-1.5zM7.6 256.4h1.5v1.3h-1.5zM12.2 256.4h1.5v1.3h-1.5zM15.3 256.4h1.5v1.3h-1.5zM9.1 260.2h3.1v1.3h-3.1z"/>
<path fill="#b20800" d="M3.0 250.0h1.5v1.3h-1.5zM4.5 251.3h1.5v1.3h-1.5zM6.1 252.5h1.5v1.3h-1.5zM7.6 253.8h4.6v1.3h-4.6zM13.8 253.8h3.1v1.3h-3.1zM7.6 255.1h7.7v1.3h-7.7zM9.1 256.4h3.1v1.3h-3.1zM13.8 256.4h1.5v1.3h-1.5zM7.6 257.6h9.2v1.3h-9.2zM7.6 258.9h9.2v1.3h-9.2zM7.6 260.2h1.5v1.3h-1.5zM12.2 260.2h4.6v1.3h-4.6zM16.8 261.5h1.5v1.3h-1.5zM18.4 262.7h1.5v1.3h-1.5zM19.9 264.0h1.5v1.3h-1.5zM21.4 265.3h1.5v1.3h-1.5zM23.0 266.6h1.5v1.3h-1.5zM24.5 267.8h1.5v1.3h-1.5zM26.0 269.1h1.5v1.3h-1.5zM27.6 270.4h1.5v1.3h-1.5zM29.1 271.6h1.5v1.3h-1.5zM30.6 272.9h1.5v1.3h-1.5zM32.2 274.2h1.5v1.3h-1.5zM33.7 275.5h1.5v1.3h-1.5zM35.2 276.7h1.5v1.3h-1.5zM36.8 278.0h1.5v1.3h-1.5zM38.3 279.3h1.5v1.3h-1.5zM39.9 280.6h1.5v1.3h-1.5zM41.4 281.8h1.5v1.3h-1.5zM42.9 283.1h1.5v1.3h-1.5zM44.5 284.4h1.5v1.3h-1.5zM46.0 285.6h1.5v1.3h-1.5zM47.5 286.9h1.5v1.3h-1.5zM49.1 288.2h1.5v1.3h-1.5zM50.6 289.5h1.5v1.3h-1.5zM52.1 290.7h1.5v1.3h-1.5zM53.7 292.0h1.5v1.3h-1.5zM55.2 293.3h1.5v1.3h-1.5zM56.8 294.6h1.5v1.3h-1.5zM58.3 295.8h3.1v1.3h-3.1zM66.0 295.8h3.1v1.3h-3.1zM58.3 297.1h3.1v1.3h-3.1zM62.9 297.1h1.5v1.3h-1.5zM66.0 297.1h3.1v1.3h-3.1zM59.8 298.4h3.1v1.3h-3.1zM64.4 298.4h4.6v1.3h-4.6zM59.8 299.7h4.6v1.3h-4.6zM66.0 299.7h1.5v1.3h-1.5zM61.4 300.9h1.5v1.3h-1.5zM64.4 300.9h1.5v1.3h-1.5zM58.3 302.2h1.5v1.3h-1.5zM61.4 302.2h1.5v1.3h-1.5zM64.4 302.2h6.1v1.3h-6.1zM58.3 303.5h6.1v1.3h-6.1zM67.5 303.5h3.1v1.3h-3.1zM66.0 304.7h4.6v1.3h-4.6zM72.1 304.7h3.1v1.3h-3.1zM76.7 304.7h1.5v1.3h-1.5zM79.8 304.7h1.5v1.3h-1.5zM70.6 306.0h6.1v1.3h-6.1zM81.3 306.0h1.5v1.3h-1.5zM84.4 306.0h1.5v1.3h-1.5zM69.0 307.3h1.5v1.3h-1.5zM72.1 307.3h1.5v1.3h-1.5zM75.2 307.3h1.5v1.3h-1.5zM79.8 307.3h1.5v1.3h-1.5zM82.9 307.3h3.1v1.3h-3.1zM69.0 308.6h1.5v1.3h-1.5zM72.1 308.6h3.1v1.3h-3.1zM76.7 308.6h3.1v1.3h-3.1zM81.3 308.6h1.5v1.3h-1.5zM75.2 309.8h1.5v1.3h-1.5zM78.2 309.8h1.5v1.3h-1.5zM82.9 309.8h1.5v1.3h-1.5zM69.0 311.1h3.1v1.3h-3.1zM76.7 311.1h6.1v1.3h-6.1zM70.6 312.4h1.5v1.3h-1.5zM75.2 312.4h4.6v1.3h-4.6zM81.3 312.4h4.6v1.3h-4.6zM69.0 313.7h1.5v1.3h-1.5zM73.6 313.7h1.5v1.3h-1.5zM78.2 313.7h3.1v1.3h-3.1zM84.4 313.7h1.5v1.3h-1.5zM72.1 314.9h1.5v1.3h-1.5zM75.2 314.9h1.5v1.3h-1.5zM81.3 314.9h4.6v1.3h-4.6zM72.1 316.2h1.5v1.3h-1.5zM82.9 316.2h1.5v1.3h-1.5zM70.6 317.5h3.1v1.3h-3.1zM78.2 317.5h4.6v1.3h-4.6zM84.4 317.5h1.5v1.3h-1.5zM85.9 318.8h1.5v1.3h-1.5zM87.5 320.0h1.5v1.3h-1.5z"/>
</g>
<g shape-rendering="crispEdges">
<rect x="96.00" y="250.00" width="87.20" height="71.00" fill="#3c0ab4"/>
<path fill="#0a1edc" d="M166.1 250.0h1.6v1.3h-1.6zM166.1 251.3h1.6v1.3h-1.6zM166.1 252.5h1.6v1.3h-1.6zM125.6 253.8h1.6v1.3h-1.6zM131.8 253.8h7.8v1.3h-7.8zM159.8 253.8h3.1v1.3h-3.1zM166.1 253.8h1.6v1.3h-1.6zM125.6 255.1h1.6v1.3h-1.6zM136.5 255.1h4.7v1.3h-4.7zM166.1 255.1h1.6v1.3h-1.6zM125.6 256.3h1.6v1.3h-1.6zM166.1 256.3h1.6v1.3h-1.6zM125.6 257.6h1.6v1.3h-1.6zM166.1 257.6h1.6v1.3h-1.6zM110.0 258.9h1.6v1.3h-1.6zM113.1 258.9h1.6v1.3h-1.6zM122.5 258.9h1.6v1.3h-1.6zM125.6 258.9h3.1v1.3h-3.1zM134.9 258.9h1.6v1.3h-1.6zM166.1 258.9h1.6v1.3h-1.6zM110.0 260.1h1.6v1.3h-1.6zM117.8 260.1h1.6v1.3h-1.6zM120.9 260.1h3.1v1.3h-3.1zM125.6 260.1h1.6v1.3h-1.6zM136.5 260.1h3.1v1.3h-3.1zM159.8 260.1h6.2v1.3h-6.2zM106.9 261.4h3.1v1.3h-3.1zM153.6 261.4h1.6v1.3h-1.6zM110.0 262.7h1.6v1.3h-1.6zM114.7 262.7h1.6v1.3h-1.6zM128.7 262.7h1.6v1.3h-1.6zM141.2 262.7h3.1v1.3h-3.1zM152.1 262.7h4.7v1.3h-4.7zM106.9 263.9h1.6v1.3h-1.6zM120.9 265.2h3.1v1.3h-3.1zM127.1 265.2h1.6v1.3h-1.6zM138.0 265.2h1.6v1.3h-1.6zM110.0 266.5h1.6v1.3h-1.6zM120.9 266.5h3.1v1.3h-3.1zM138.0 266.5h3.1v1.3h-3.1zM110.0 267.8h1.6v1.3h-1.6zM120.9 267.8h1.6v1.3h-1.6zM127.1 267.8h1.6v1.3h-1.6zM136.5 267.8h1.6v1.3h-1.6zM130.3 269.0h1.6v1.3h-1.6zM138.0 269.0h1.6v1.3h-1.6zM163.0 269.0h9.3v1.3h-9.3zM177.0 269.0h6.2v1.3h-6.2zM114.7 270.3h1.6v1.3h-1.6zM117.8 270.3h1.6v1.3h-1.6zM106.9 271.6h1.6v1.3h-1.6zM139.6 271.6h1.6v1.3h-1.6zM180.1 271.6h1.6v1.3h-1.6zM120.9 272.8h1.6v1.3h-1.6zM125.6 272.8h1.6v1.3h-1.6zM180.1 272.8h1.6v1.3h-1.6zM100.7 274.1h7.8v1.3h-7.8zM110.0 274.1h1.6v1.3h-1.6zM114.7 274.1h1.6v1.3h-1.6zM128.7 274.1h1.6v1.3h-1.6zM131.8 274.1h1.6v1.3h-1.6zM144.3 274.1h3.1v1.3h-3.1zM180.1 274.1h1.6v1.3h-1.6zM106.9 275.4h3.1v1.3h-3.1zM114.7 275.4h1.6v1.3h-1.6zM134.9 275.4h1.6v1.3h-1.6zM139.6 275.4h1.6v1.3h-1.6zM167.6 275.4h1.6v1.3h-1.6zM180.1 275.4h1.6v1.3h-1.6zM108.5 276.6h1.6v1.3h-1.6zM114.7 276.6h1.6v1.3h-1.6zM119.4 276.6h1.6v1.3h-1.6zM136.5 276.6h1.6v1.3h-1.6zM166.1 276.6h9.3v1.3h-9.3zM180.1 276.6h1.6v1.3h-1.6zM108.5 277.9h1.6v1.3h-1.6zM111.6 277.9h1.6v1.3h-1.6zM114.7 277.9h3.1v1.3h-3.1zM119.4 277.9h1.6v1.3h-1.6zM124.0 277.9h1.6v1.3h-1.6zM128.7 277.9h1.6v1.3h-1.6zM133.4 277.9h1.6v1.3h-1.6zM167.6 277.9h1.6v1.3h-1.6zM172.3 277.9h6.2v1.3h-6.2zM180.1 277.9h1.6v1.3h-1.6zM100.7 279.2h1.6v1.3h-1.6zM110.0 279.2h4.7v1.3h-4.7zM124.0 279.2h1.6v1.3h-1.6zM128.7 279.2h1.6v1.3h-1.6zM134.9 279.2h1.6v1.3h-1.6zM167.6 279.2h10.9v1.3h-10.9zM180.1 279.2h1.6v1.3h-1.6zM100.7 280.4h1.6v1.3h-1.6zM108.5 280.4h1.6v1.3h-1.6zM114.7 280.4h1.6v1.3h-1.6zM120.9 280.4h1.6v1.3h-1.6zM152.1 280.4h1.6v1.3h-1.6zM100.7 281.7h1.6v1.3h-1.6zM106.9 281.7h1.6v1.3h-1.6zM120.9 281.7h1.6v1.3h-1.6zM125.6 281.7h1.6v1.3h-1.6zM138.0 281.7h1.6v1.3h-1.6zM152.1 281.7h1.6v1.3h-1.6zM100.7 283.0h3.1v1.3h-3.1zM110.0 283.0h4.7v1.3h-4.7zM119.4 283.0h1.6v1.3h-1.6zM128.7 283.0h4.7v1.3h-4.7zM138.0 283.0h1.6v1.3h-1.6zM152.1 283.0h1.6v1.3h-1.6zM100.7 284.2h3.1v1.3h-3.1zM124.0 284.2h3.1v1.3h-3.1zM128.7 284.2h1.6v1.3h-1.6zM152.1 284.2h1.6v1.3h-1.6zM167.6 284.2h6.2v1.3h-6.2zM102.2 285.5h1.6v1.3h-1.6zM120.9 285.5h3.1v1.3h-3.1zM128.7 285.5h1.6v1.3h-1.6zM152.1 285.5h1.6v1.3h-1.6zM111.6 286.8h1.6v1.3h-1.6zM150.5 286.8h3.1v1.3h-3.1zM111.6 288.0h1.6v1.3h-1.6zM167.6 288.0h6.2v1.3h-6.2zM175.4 288.0h3.1v1.3h-3.1zM125.6 289.3h1.6v1.3h-1.6zM145.8 289.3h1.6v1.3h-1.6zM125.6 290.6h1.6v1.3h-1.6zM153.6 290.6h4.7v1.3h-4.7zM141.2 291.8h1.6v1.3h-1.6zM148.9 291.8h1.6v1.3h-1.6zM152.1 291.8h1.6v1.3h-1.6zM158.3 291.8h1.6v1.3h-1.6zM145.8 293.1h1.6v1.3h-1.6zM158.3 293.1h1.6v1.3h-1.6zM141.2 294.4h1.6v1.3h-1.6zM111.6 295.6h1.6v1.3h-1.6zM133.4 295.6h9.3v1.3h-9.3zM147.4 295.6h1.6v1.3h-1.6zM110.0 296.9h3.1v1.3h-3.1zM145.8 296.9h1.6v1.3h-1.6zM111.6 298.2h1.6v1.3h-1.6zM145.8 298.2h1.6v1.3h-1.6zM169.2 298.2h7.8v1.3h-7.8zM178.5 298.2h1.6v1.3h-1.6zM145.8 299.4h1.6v1.3h-1.6zM172.3 299.4h1.6v1.3h-1.6zM178.5 299.4h1.6v1.3h-1.6zM147.4 300.7h3.1v1.3h-3.1zM172.3 300.7h6.2v1.3h-6.2zM180.1 300.7h3.1v1.3h-3.1zM100.7 302.0h1.6v1.3h-1.6zM108.5 302.0h1.6v1.3h-1.6zM166.1 302.0h7.8v1.3h-7.8zM180.1 302.0h1.6v1.3h-1.6zM100.7 303.2h1.6v1.3h-1.6zM108.5 303.2h1.6v1.3h-1.6zM172.3 303.2h1.6v1.3h-1.6zM180.1 303.2h1.6v1.3h-1.6zM108.5 304.5h1.6v1.3h-1.6zM119.4 304.5h1.6v1.3h-1.6zM172.3 304.5h1.6v1.3h-1.6zM180.1 304.5h1.6v1.3h-1.6zM108.5 305.8h1.6v1.3h-1.6zM119.4 305.8h1.6v1.3h-1.6zM96.0 307.1h12.5v1.3h-12.5zM119.4 307.1h1.6v1.3h-1.6zM128.7 307.1h1.6v1.3h-1.6zM159.8 307.1h1.6v1.3h-1.6zM119.4 308.3h1.6v1.3h-1.6zM127.1 308.3h6.2v1.3h-6.2zM138.0 308.3h1.6v1.3h-1.6zM142.7 308.3h1.6v1.3h-1.6zM159.8 308.3h1.6v1.3h-1.6zM119.4 309.6h1.6v1.3h-1.6zM128.7 309.6h1.6v1.3h-1.6zM131.8 309.6h1.6v1.3h-1.6zM138.0 309.6h1.6v1.3h-1.6zM142.7 309.6h1.6v1.3h-1.6zM155.2 309.6h1.6v1.3h-1.6zM159.8 309.6h1.6v1.3h-1.6zM119.4 310.9h1.6v1.3h-1.6zM128.7 310.9h1.6v1.3h-1.6zM131.8 310.9h1.6v1.3h-1.6zM138.0 310.9h1.6v1.3h-1.6zM142.7 310.9h1.6v1.3h-1.6zM147.4 310.9h1.6v1.3h-1.6zM155.2 310.9h1.6v1.3h-1.6zM159.8 310.9h1.6v1.3h-1.6zM128.7 312.1h4.7v1.3h-4.7zM138.0 312.1h1.6v1.3h-1.6zM142.7 312.1h1.6v1.3h-1.6zM147.4 312.1h1.6v1.3h-1.6zM153.6 312.1h10.9v1.3h-10.9zM128.7 313.4h4.7v1.3h-4.7zM155.2 313.4h1.6v1.3h-1.6zM158.3 313.4h1.6v1.3h-1.6zM130.3 314.7h3.1v1.3h-3.1zM142.7 314.7h1.6v1.3h-1.6zM147.4 314.7h1.6v1.3h-1.6zM155.2 314.7h1.6v1.3h-1.6zM158.3 314.7h1.6v1.3h-1.6zM119.4 315.9h1.6v1.3h-1.6zM130.3 315.9h3.1v1.3h-3.1zM142.7 315.9h1.6v1.3h-1.6zM147.4 315.9h1.6v1.3h-1.6zM158.3 315.9h1.6v1.3h-1.6zM119.4 317.2h1.6v1.3h-1.6zM147.4 317.2h1.6v1.3h-1.6zM150.5 317.2h7.8v1.3h-7.8zM96.0 318.5h3.1v1.3h-3.1zM119.4 318.5h1.6v1.3h-1.6zM122.5 318.5h10.9v1.3h-10.9zM147.4 318.5h1.6v1.3h-1.6zM158.3 318.5h6.2v1.3h-6.2zM119.4 319.7h1.6v1.3h-1.6zM158.3 319.7h1.6v1.3h-1.6z"/>
<path fill="#0096aa" d="M130.3 250.0h6.2v1.3h-6.2zM142.7 250.0h1.6v1.3h-1.6zM158.3 250.0h1.6v1.3h-1.6zM142.7 251.3h1.6v1.3h-1.6zM158.3 251.3h1.6v1.3h-1.6zM136.5 252.5h10.9v1.3h-10.9zM158.3 252.5h1.6v1.3h-1.6zM110.0 253.8h3.1v1.3h-3.1zM142.7 253.8h1.6v1.3h-1.6zM158.3 253.8h1.6v1.3h-1.6zM158.3 255.1h1.6v1.3h-1.6zM119.4 258.9h3.1v1.3h-3.1zM116.2 260.1h1.6v1.3h-1.6zM130.3 260.1h1.6v1.3h-1.6zM100.7 261.4h1.6v1.3h-1.6zM120.9 261.4h1.6v1.3h-1.6zM128.7 261.4h1.6v1.3h-1.6zM100.7 262.7h1.6v1.3h-1.6zM108.5 262.7h1.6v1.3h-1.6zM134.9 262.7h1.6v1.3h-1.6zM120.9 263.9h1.6v1.3h-1.6zM124.0 265.2h1.6v1.3h-1.6zM130.3 265.2h1.6v1.3h-1.6zM114.7 266.5h1.6v1.3h-1.6zM119.4 266.5h1.6v1.3h-1.6zM130.3 266.5h1.6v1.3h-1.6zM144.3 266.5h1.6v1.3h-1.6zM125.6 267.8h1.6v1.3h-1.6zM128.7 267.8h1.6v1.3h-1.6zM131.8 267.8h1.6v1.3h-1.6zM144.3 267.8h1.6v1.3h-1.6zM106.9 269.0h1.6v1.3h-1.6zM110.0 269.0h1.6v1.3h-1.6zM114.7 269.0h1.6v1.3h-1.6zM144.3 269.0h1.6v1.3h-1.6zM106.9 270.3h1.6v1.3h-1.6zM108.5 274.1h1.6v1.3h-1.6zM138.0 274.1h1.6v1.3h-1.6zM117.8 275.4h1.6v1.3h-1.6zM120.9 275.4h1.6v1.3h-1.6zM138.0 275.4h1.6v1.3h-1.6zM111.6 276.6h1.6v1.3h-1.6zM125.6 276.6h1.6v1.3h-1.6zM134.9 276.6h1.6v1.3h-1.6zM148.9 276.6h9.3v1.3h-9.3zM96.0 277.9h1.6v1.3h-1.6zM113.1 277.9h1.6v1.3h-1.6zM136.5 277.9h1.6v1.3h-1.6zM139.6 277.9h1.6v1.3h-1.6zM96.0 279.2h1.6v1.3h-1.6zM114.7 279.2h1.6v1.3h-1.6zM117.8 279.2h1.6v1.3h-1.6zM120.9 279.2h1.6v1.3h-1.6zM136.5 279.2h3.1v1.3h-3.1zM96.0 280.4h1.6v1.3h-1.6zM128.7 280.4h1.6v1.3h-1.6zM138.0 280.4h1.6v1.3h-1.6zM96.0 281.7h1.6v1.3h-1.6zM114.7 281.7h1.6v1.3h-1.6zM128.7 281.7h1.6v1.3h-1.6zM99.1 283.0h1.6v1.3h-1.6zM120.9 283.0h1.6v1.3h-1.6zM124.0 283.0h1.6v1.3h-1.6zM134.9 283.0h1.6v1.3h-1.6zM139.6 283.0h1.6v1.3h-1.6zM99.1 284.2h1.6v1.3h-1.6zM139.6 284.2h1.6v1.3h-1.6zM173.9 284.2h1.6v1.3h-1.6zM99.1 285.5h1.6v1.3h-1.6zM113.1 285.5h1.6v1.3h-1.6zM138.0 285.5h1.6v1.3h-1.6zM173.9 285.5h1.6v1.3h-1.6zM99.1 286.8h1.6v1.3h-1.6zM173.9 286.8h1.6v1.3h-1.6zM96.0 288.0h6.2v1.3h-6.2zM173.9 288.0h1.6v1.3h-1.6zM99.1 289.3h1.6v1.3h-1.6zM116.2 289.3h4.7v1.3h-4.7zM141.2 289.3h1.6v1.3h-1.6zM173.9 289.3h1.6v1.3h-1.6zM99.1 290.6h1.6v1.3h-1.6zM167.6 290.6h3.1v1.3h-3.1zM172.3 290.6h1.6v1.3h-1.6zM178.5 290.6h4.7v1.3h-4.7zM145.8 291.8h1.6v1.3h-1.6zM173.9 291.8h3.1v1.3h-3.1zM178.5 291.8h3.1v1.3h-3.1zM128.7 293.1h1.6v1.3h-1.6zM141.2 293.1h1.6v1.3h-1.6zM170.7 293.1h4.7v1.3h-4.7zM177.0 293.1h1.6v1.3h-1.6zM180.1 293.1h1.6v1.3h-1.6zM128.7 294.4h1.6v1.3h-1.6zM173.9 294.4h1.6v1.3h-1.6zM128.7 295.6h1.6v1.3h-1.6zM166.1 295.6h3.1v1.3h-3.1zM180.1 295.6h1.6v1.3h-1.6zM128.7 296.9h1.6v1.3h-1.6zM166.1 296.9h1.6v1.3h-1.6zM169.2 296.9h1.6v1.3h-1.6zM172.3 296.9h1.6v1.3h-1.6zM177.0 296.9h1.6v1.3h-1.6zM128.7 298.2h1.6v1.3h-1.6zM128.7 299.4h1.6v1.3h-1.6zM96.0 300.7h7.8v1.3h-7.8zM178.5 300.7h1.6v1.3h-1.6zM178.5 302.0h1.6v1.3h-1.6zM178.5 303.2h1.6v1.3h-1.6zM178.5 304.5h1.6v1.3h-1.6zM138.0 313.4h12.5v1.3h-12.5zM158.3 317.2h6.2v1.3h-6.2z"/>
<path fill="#28cd28" d="M97.6 250.0h1.6v1.3h-1.6zM100.7 250.0h3.1v1.3h-3.1zM180.1 250.0h3.1v1.3h-3.1zM180.1 251.3h1.6v1.3h-1.6zM96.0 252.5h1.6v1.3h-1.6zM105.3 252.5h1.6v1.3h-1.6zM180.1 252.5h3.1v1.3h-3.1zM96.0 255.1h1.6v1.3h-1.6zM105.3 255.1h1.6v1.3h-1.6zM180.1 255.1h3.1v1.3h-3.1zM105.3 256.3h1.6v1.3h-1.6zM180.1 256.3h3.1v1.3h-3.1zM97.6 257.6h1.6v1.3h-1.6zM100.7 257.6h3.1v1.3h-3.1zM180.1 257.6h1.6v1.3h-1.6zM114.7 258.9h1.6v1.3h-1.6zM113.1 260.1h1.6v1.3h-1.6zM119.4 260.1h1.6v1.3h-1.6zM131.8 260.1h1.6v1.3h-1.6zM139.6 260.1h1.6v1.3h-1.6zM111.6 261.4h3.1v1.3h-3.1zM117.8 261.4h3.1v1.3h-3.1zM122.5 261.4h1.6v1.3h-1.6zM125.6 261.4h3.1v1.3h-3.1zM130.3 261.4h7.8v1.3h-7.8zM113.1 262.7h1.6v1.3h-1.6zM117.8 262.7h3.1v1.3h-3.1zM122.5 262.7h1.6v1.3h-1.6zM125.6 262.7h3.1v1.3h-3.1zM130.3 262.7h4.7v1.3h-4.7zM136.5 262.7h4.7v1.3h-4.7zM108.5 263.9h4.7v1.3h-4.7zM114.7 263.9h1.6v1.3h-1.6zM119.4 263.9h1.6v1.3h-1.6zM124.0 263.9h3.1v1.3h-3.1zM131.8 263.9h1.6v1.3h-1.6zM134.9 263.9h1.6v1.3h-1.6zM138.0 263.9h3.1v1.3h-3.1zM106.9 265.2h4.7v1.3h-4.7zM113.1 265.2h1.6v1.3h-1.6zM116.2 265.2h4.7v1.3h-4.7zM125.6 265.2h1.6v1.3h-1.6zM128.7 265.2h1.6v1.3h-1.6zM131.8 265.2h4.7v1.3h-4.7zM139.6 265.2h1.6v1.3h-1.6zM108.5 266.5h1.6v1.3h-1.6zM113.1 266.5h1.6v1.3h-1.6zM117.8 266.5h1.6v1.3h-1.6zM127.1 266.5h1.6v1.3h-1.6zM133.4 266.5h3.1v1.3h-3.1zM108.5 267.8h1.6v1.3h-1.6zM113.1 267.8h1.6v1.3h-1.6zM119.4 267.8h1.6v1.3h-1.6zM122.5 267.8h3.1v1.3h-3.1zM130.3 267.8h1.6v1.3h-1.6zM133.4 267.8h1.6v1.3h-1.6zM138.0 267.8h4.7v1.3h-4.7zM108.5 269.0h1.6v1.3h-1.6zM111.6 269.0h3.1v1.3h-3.1zM116.2 269.0h1.6v1.3h-1.6zM120.9 269.0h3.1v1.3h-3.1zM127.1 269.0h3.1v1.3h-3.1zM131.8 269.0h6.2v1.3h-6.2zM139.6 269.0h1.6v1.3h-1.6zM108.5 270.3h6.2v1.3h-6.2zM116.2 270.3h1.6v1.3h-1.6zM124.0 270.3h4.7v1.3h-4.7zM131.8 270.3h9.3v1.3h-9.3zM108.5 271.6h1.6v1.3h-1.6zM111.6 271.6h3.1v1.3h-3.1zM116.2 271.6h1.6v1.3h-1.6zM119.4 271.6h1.6v1.3h-1.6zM124.0 271.6h6.2v1.3h-6.2zM131.8 271.6h6.2v1.3h-6.2zM108.5 272.8h1.6v1.3h-1.6zM114.7 272.8h3.1v1.3h-3.1zM119.4 272.8h1.6v1.3h-1.6zM122.5 272.8h1.6v1.3h-1.6zM127.1 272.8h14.0v1.3h-14.0zM113.1 274.1h1.6v1.3h-1.6zM116.2 274.1h4.7v1.3h-4.7zM122.5 274.1h1.6v1.3h-1.6zM127.1 274.1h1.6v1.3h-1.6zM130.3 274.1h1.6v1.3h-1.6zM133.4 274.1h1.6v1.3h-1.6zM139.6 274.1h1.6v1.3h-1.6zM110.0 275.4h1.6v1.3h-1.6zM113.1 275.4h1.6v1.3h-1.6zM116.2 275.4h1.6v1.3h-1.6zM119.4 275.4h1.6v1.3h-1.6zM122.5 275.4h4.7v1.3h-4.7zM130.3 275.4h1.6v1.3h-1.6zM133.4 275.4h1.6v1.3h-1.6zM136.5 275.4h1.6v1.3h-1.6zM113.1 276.6h1.6v1.3h-1.6zM116.2 276.6h1.6v1.3h-1.6zM122.5 276.6h3.1v1.3h-3.1zM130.3 276.6h3.1v1.3h-3.1zM139.6 276.6h1.6v1.3h-1.6zM110.0 277.9h1.6v1.3h-1.6zM125.6 277.9h1.6v1.3h-1.6zM116.2 279.2h1.6v1.3h-1.6zM119.4 279.2h1.6v1.3h-1.6zM125.6 279.2h1.6v1.3h-1.6zM130.3 279.2h1.6v1.3h-1.6zM133.4 279.2h1.6v1.3h-1.6zM139.6 279.2h1.6v1.3h-1.6zM110.0 280.4h4.7v1.3h-4.7zM116.2 280.4h4.7v1.3h-4.7zM122.5 280.4h3.1v1.3h-3.1zM127.1 280.4h1.6v1.3h-1.6zM130.3 280.4h3.1v1.3h-3.1zM134.9 280.4h3.1v1.3h-3.1zM139.6 280.4h1.6v1.3h-1.6zM108.5 281.7h6.2v1.3h-6.2zM116.2 281.7h1.6v1.3h-1.6zM122.5 281.7h1.6v1.3h-1.6zM130.3 281.7h4.7v1.3h-4.7zM136.5 281.7h1.6v1.3h-1.6zM139.6 281.7h1.6v1.3h-1.6zM125.6 283.0h1.6v1.3h-1.6zM133.4 283.0h1.6v1.3h-1.6zM108.5 284.2h3.1v1.3h-3.1zM113.1 284.2h1.6v1.3h-1.6zM116.2 284.2h4.7v1.3h-4.7zM122.5 284.2h1.6v1.3h-1.6zM127.1 284.2h1.6v1.3h-1.6zM130.3 284.2h3.1v1.3h-3.1zM134.9 284.2h1.6v1.3h-1.6zM108.5 285.5h4.7v1.3h-4.7zM114.7 285.5h1.6v1.3h-1.6zM117.8 285.5h1.6v1.3h-1.6zM125.6 285.5h3.1v1.3h-3.1zM130.3 285.5h7.8v1.3h-7.8zM117.8 286.8h1.6v1.3h-1.6zM142.7 286.8h3.1v1.3h-3.1zM147.4 286.8h1.6v1.3h-1.6zM150.5 288.0h1.6v1.3h-1.6zM147.4 289.3h1.6v1.3h-1.6zM150.5 289.3h3.1v1.3h-3.1zM142.7 290.6h1.6v1.3h-1.6zM148.9 290.6h1.6v1.3h-1.6zM163.0 290.6h4.7v1.3h-4.7zM170.7 290.6h1.6v1.3h-1.6zM173.9 290.6h4.7v1.3h-4.7zM142.7 291.8h1.6v1.3h-1.6zM163.0 291.8h10.9v1.3h-10.9zM177.0 291.8h1.6v1.3h-1.6zM181.6 291.8h1.6v1.3h-1.6zM142.7 293.1h1.6v1.3h-1.6zM150.5 293.1h1.6v1.3h-1.6zM163.0 293.1h7.8v1.3h-7.8zM175.4 293.1h1.6v1.3h-1.6zM178.5 293.1h1.6v1.3h-1.6zM181.6 293.1h1.6v1.3h-1.6zM142.7 294.4h3.1v1.3h-3.1zM148.9 294.4h1.6v1.3h-1.6zM152.1 294.4h3.1v1.3h-3.1zM156.7 294.4h6.2v1.3h-6.2zM166.1 294.4h7.8v1.3h-7.8zM175.4 294.4h7.8v1.3h-7.8zM144.3 295.6h1.6v1.3h-1.6zM150.5 295.6h1.6v1.3h-1.6zM155.2 295.6h7.8v1.3h-7.8zM169.2 295.6h10.9v1.3h-10.9zM181.6 295.6h1.6v1.3h-1.6zM150.5 296.9h1.6v1.3h-1.6zM155.2 296.9h1.6v1.3h-1.6zM159.8 296.9h1.6v1.3h-1.6zM163.0 296.9h3.1v1.3h-3.1zM167.6 296.9h1.6v1.3h-1.6zM170.7 296.9h1.6v1.3h-1.6zM173.9 296.9h3.1v1.3h-3.1zM178.5 296.9h4.7v1.3h-4.7zM152.1 298.2h3.1v1.3h-3.1zM156.7 298.2h3.1v1.3h-3.1zM164.5 298.2h1.6v1.3h-1.6zM150.5 299.4h6.2v1.3h-6.2zM161.4 299.4h1.6v1.3h-1.6zM164.5 299.4h1.6v1.3h-1.6zM150.5 300.7h6.2v1.3h-6.2zM163.0 300.7h3.1v1.3h-3.1zM150.5 302.0h4.7v1.3h-4.7zM150.5 303.2h4.7v1.3h-4.7zM159.8 303.2h1.6v1.3h-1.6zM158.3 304.5h1.6v1.3h-1.6zM164.5 304.5h1.6v1.3h-1.6zM153.6 305.8h6.2v1.3h-6.2zM163.0 305.8h1.6v1.3h-1.6zM167.6 305.8h3.1v1.3h-3.1zM172.3 305.8h3.1v1.3h-3.1zM178.5 305.8h4.7v1.3h-4.7zM169.2 307.1h1.6v1.3h-1.6zM172.3 307.1h3.1v1.3h-3.1zM178.5 307.1h1.6v1.3h-1.6zM169.2 308.3h3.1v1.3h-3.1zM173.9 308.3h1.6v1.3h-1.6zM180.1 308.3h3.1v1.3h-3.1zM164.5 309.6h4.7v1.3h-4.7zM170.7 309.6h1.6v1.3h-1.6zM180.1 309.6h1.6v1.3h-1.6zM167.6 310.9h3.1v1.3h-3.1zM172.3 310.9h1.6v1.3h-1.6zM178.5 310.9h1.6v1.3h-1.6zM164.5 312.1h3.1v1.3h-3.1zM169.2 312.1h1.6v1.3h-1.6zM180.1 312.1h1.6v1.3h-1.6zM164.5 313.4h4.7v1.3h-4.7zM170.7 313.4h3.1v1.3h-3.1zM177.0 313.4h1.6v1.3h-1.6zM180.1 313.4h3.1v1.3h-3.1zM164.5 314.7h1.6v1.3h-1.6zM169.2 314.7h6.2v1.3h-6.2zM178.5 314.7h4.7v1.3h-4.7zM164.5 315.9h1.6v1.3h-1.6zM170.7 315.9h6.2v1.3h-6.2zM166.1 317.2h1.6v1.3h-1.6zM170.7 317.2h1.6v1.3h-1.6zM173.9 317.2h3.1v1.3h-3.1zM180.1 317.2h1.6v1.3h-1.6zM164.5 318.5h7.8v1.3h-7.8zM173.9 318.5h4.7v1.3h-4.7zM181.6 318.5h1.6v1.3h-1.6zM164.5 319.7h1.6v1.3h-1.6zM167.6 319.7h1.6v1.3h-1.6zM170.7 319.7h4.7v1.3h-4.7zM178.5 319.7h1.6v1.3h-1.6z"/>
<path fill="#96aa1e" d="M99.1 250.0h1.6v1.3h-1.6zM103.8 250.0h3.1v1.3h-3.1zM96.0 251.3h1.6v1.3h-1.6zM105.3 251.3h1.6v1.3h-1.6zM181.6 251.3h1.6v1.3h-1.6zM96.0 253.8h1.6v1.3h-1.6zM105.3 253.8h1.6v1.3h-1.6zM180.1 253.8h3.1v1.3h-3.1zM96.0 256.3h1.6v1.3h-1.6zM96.0 257.6h1.6v1.3h-1.6zM99.1 257.6h1.6v1.3h-1.6zM103.8 257.6h1.6v1.3h-1.6zM181.6 257.6h1.6v1.3h-1.6zM130.3 258.9h1.6v1.3h-1.6zM124.0 260.1h1.6v1.3h-1.6zM116.2 261.4h1.6v1.3h-1.6zM139.6 261.4h1.6v1.3h-1.6zM116.2 262.7h1.6v1.3h-1.6zM124.0 262.7h1.6v1.3h-1.6zM116.2 263.9h3.1v1.3h-3.1zM122.5 263.9h1.6v1.3h-1.6zM127.1 263.9h1.6v1.3h-1.6zM130.3 263.9h1.6v1.3h-1.6zM133.4 263.9h1.6v1.3h-1.6zM136.5 265.2h1.6v1.3h-1.6zM136.5 266.5h1.6v1.3h-1.6zM134.9 267.8h1.6v1.3h-1.6zM117.8 269.0h1.6v1.3h-1.6zM124.0 269.0h3.1v1.3h-3.1zM119.4 270.3h1.6v1.3h-1.6zM122.5 270.3h1.6v1.3h-1.6zM130.3 270.3h1.6v1.3h-1.6zM110.0 271.6h1.6v1.3h-1.6zM138.0 271.6h1.6v1.3h-1.6zM110.0 272.8h1.6v1.3h-1.6zM117.8 272.8h1.6v1.3h-1.6zM124.0 274.1h1.6v1.3h-1.6zM134.9 274.1h3.1v1.3h-3.1zM131.8 275.4h1.6v1.3h-1.6zM110.0 276.6h1.6v1.3h-1.6zM106.9 277.9h1.6v1.3h-1.6zM134.9 277.9h1.6v1.3h-1.6zM108.5 279.2h1.6v1.3h-1.6zM122.5 279.2h1.6v1.3h-1.6zM127.1 279.2h1.6v1.3h-1.6zM125.6 280.4h1.6v1.3h-1.6zM117.8 281.7h3.1v1.3h-3.1zM127.1 281.7h1.6v1.3h-1.6zM111.6 284.2h1.6v1.3h-1.6zM114.7 284.2h1.6v1.3h-1.6zM133.4 284.2h1.6v1.3h-1.6zM136.5 284.2h1.6v1.3h-1.6zM116.2 285.5h1.6v1.3h-1.6zM124.0 285.5h1.6v1.3h-1.6zM145.8 286.8h1.6v1.3h-1.6zM144.3 288.0h1.6v1.3h-1.6zM147.4 288.0h3.1v1.3h-3.1zM152.1 288.0h1.6v1.3h-1.6zM142.7 289.3h1.6v1.3h-1.6zM148.9 289.3h1.6v1.3h-1.6zM141.2 290.6h1.6v1.3h-1.6zM144.3 290.6h1.6v1.3h-1.6zM147.4 290.6h1.6v1.3h-1.6zM150.5 290.6h3.1v1.3h-3.1zM144.3 291.8h1.6v1.3h-1.6zM155.2 294.4h1.6v1.3h-1.6zM163.0 294.4h3.1v1.3h-3.1zM142.7 295.6h1.6v1.3h-1.6zM145.8 295.6h1.6v1.3h-1.6zM153.6 295.6h1.6v1.3h-1.6zM163.0 295.6h3.1v1.3h-3.1zM152.1 296.9h1.6v1.3h-1.6zM156.7 296.9h3.1v1.3h-3.1zM161.4 296.9h1.6v1.3h-1.6zM150.5 298.2h1.6v1.3h-1.6zM164.5 302.0h1.6v1.3h-1.6zM164.5 303.2h1.6v1.3h-1.6zM150.5 304.5h4.7v1.3h-4.7zM150.5 305.8h3.1v1.3h-3.1zM159.8 305.8h3.1v1.3h-3.1zM166.1 305.8h1.6v1.3h-1.6zM170.7 305.8h1.6v1.3h-1.6zM175.4 305.8h3.1v1.3h-3.1zM164.5 307.1h1.6v1.3h-1.6zM167.6 307.1h1.6v1.3h-1.6zM180.1 307.1h3.1v1.3h-3.1zM164.5 308.3h3.1v1.3h-3.1zM181.6 309.6h1.6v1.3h-1.6zM164.5 310.9h1.6v1.3h-1.6zM180.1 310.9h3.1v1.3h-3.1zM181.6 312.1h1.6v1.3h-1.6zM180.1 315.9h3.1v1.3h-3.1zM164.5 317.2h1.6v1.3h-1.6zM181.6 317.2h1.6v1.3h-1.6zM172.3 318.5h1.6v1.3h-1.6zM178.5 318.5h1.6v1.3h-1.6zM166.1 319.7h1.6v1.3h-1.6zM169.2 319.7h1.6v1.3h-1.6zM175.4 319.7h3.1v1.3h-3.1zM180.1 319.7h1.6v1.3h-1.6z"/>
<path fill="#e1a000" d="M156.7 300.7h1.6v1.3h-1.6zM172.3 308.3h1.6v1.3h-1.6zM175.4 309.6h1.6v1.3h-1.6zM167.6 312.1h1.6v1.3h-1.6z"/>
<path fill="#b20800" d="M96.0 250.0h1.6v1.3h-1.6zM97.6 251.3h7.8v1.3h-7.8zM97.6 252.5h7.8v1.3h-7.8zM97.6 253.8h7.8v1.3h-7.8zM97.6 255.1h7.8v1.3h-7.8zM97.6 256.3h7.8v1.3h-7.8zM105.3 257.6h1.6v1.3h-1.6zM106.9 258.9h1.6v1.3h-1.6zM108.5 260.1h1.6v1.3h-1.6zM110.0 261.4h1.6v1.3h-1.6zM111.6 262.7h1.6v1.3h-1.6zM113.1 263.9h1.6v1.3h-1.6zM114.7 265.2h1.6v1.3h-1.6zM116.2 266.5h1.6v1.3h-1.6zM117.8 267.8h1.6v1.3h-1.6zM119.4 269.0h1.6v1.3h-1.6zM120.9 270.3h1.6v1.3h-1.6zM122.5 271.6h1.6v1.3h-1.6zM124.0 272.8h1.6v1.3h-1.6zM125.6 274.1h1.6v1.3h-1.6zM127.1 275.4h1.6v1.3h-1.6zM128.7 276.6h1.6v1.3h-1.6zM130.3 277.9h1.6v1.3h-1.6zM131.8 279.2h1.6v1.3h-1.6zM133.4 280.4h1.6v1.3h-1.6zM134.9 281.7h1.6v1.3h-1.6zM136.5 283.0h1.6v1.3h-1.6zM138.0 284.2h1.6v1.3h-1.6zM139.6 285.5h1.6v1.3h-1.6zM141.2 286.8h1.6v1.3h-1.6zM142.7 288.0h1.6v1.3h-1.6zM144.3 289.3h1.6v1.3h-1.6zM145.8 290.6h1.6v1.3h-1.6zM147.4 291.8h1.6v1.3h-1.6zM148.9 293.1h1.6v1.3h-1.6zM150.5 294.4h1.6v1.3h-1.6zM152.1 295.6h1.6v1.3h-1.6zM153.6 296.9h1.6v1.3h-1.6zM155.2 298.2h1.6v1.3h-1.6zM159.8 298.2h4.7v1.3h-4.7zM156.7 299.4h4.7v1.3h-4.7zM163.0 299.4h1.6v1.3h-1.6zM158.3 300.7h4.7v1.3h-4.7zM155.2 302.0h9.3v1.3h-9.3zM155.2 303.2h4.7v1.3h-4.7zM161.4 303.2h3.1v1.3h-3.1zM155.2 304.5h3.1v1.3h-3.1zM159.8 304.5h4.7v1.3h-4.7zM164.5 305.8h1.6v1.3h-1.6zM166.1 307.1h1.6v1.3h-1.6zM170.7 307.1h1.6v1.3h-1.6zM175.4 307.1h3.1v1.3h-3.1zM167.6 308.3h1.6v1.3h-1.6zM175.4 308.3h4.7v1.3h-4.7zM169.2 309.6h1.6v1.3h-1.6zM172.3 309.6h3.1v1.3h-3.1zM177.0 309.6h3.1v1.3h-3.1zM166.1 310.9h1.6v1.3h-1.6zM170.7 310.9h1.6v1.3h-1.6zM173.9 310.9h4.7v1.3h-4.7zM170.7 312.1h9.3v1.3h-9.3zM169.2 313.4h1.6v1.3h-1.6zM173.9 313.4h3.1v1.3h-3.1zM178.5 313.4h1.6v1.3h-1.6zM166.1 314.7h3.1v1.3h-3.1zM175.4 314.7h3.1v1.3h-3.1zM166.1 315.9h4.7v1.3h-4.7zM177.0 315.9h3.1v1.3h-3.1zM167.6 317.2h3.1v1.3h-3.1zM172.3 317.2h1.6v1.3h-1.6zM177.0 317.2h3.1v1.3h-3.1zM180.1 318.5h1.6v1.3h-1.6zM181.6 319.7h1.6v1.3h-1.6z"/>
</g>
<g font-size="12.6" fill="#111">
<text x="294.2" y="28" font-size="16.4">Consensus CDF</text>
<text x="294.3" y="326" font-size="13.2">Consensus index value</text>
<text transform="translate(203.7,168.4) rotate(-90)" text-anchor="middle" font-size="13">CDF</text>
<line x1="234" y1="272.2" x2="240" y2="272.2" stroke="#333" stroke-width="1"/>
<text transform="translate(225.6,272.2) rotate(-90) scale(0.88,1)" text-anchor="middle" font-size="14.2">0</text>
<line x1="234" y1="230.1" x2="240" y2="230.1" stroke="#333" stroke-width="1"/>
<text transform="translate(225.6,230.1) rotate(-90) scale(0.88,1)" text-anchor="middle" font-size="14.2">0.2</text>
<line x1="234" y1="187.9" x2="240" y2="187.9" stroke="#333" stroke-width="1"/>
<text transform="translate(225.6,187.9) rotate(-90) scale(0.88,1)" text-anchor="middle" font-size="14.2">0.4</text>
<line x1="234" y1="145.8" x2="240" y2="145.8" stroke="#333" stroke-width="1"/>
<text transform="translate(225.6,145.8) rotate(-90) scale(0.88,1)" text-anchor="middle" font-size="14.2">0.6</text>
<line x1="234" y1="103.6" x2="240" y2="103.6" stroke="#333" stroke-width="1"/>
<text transform="translate(225.6,103.6) rotate(-90) scale(0.88,1)" text-anchor="middle" font-size="14.2">0.8</text>
<line x1="234" y1="61.5" x2="240" y2="61.5" stroke="#333" stroke-width="1"/>
<text transform="translate(225.6,61.5) rotate(-90) scale(0.88,1)" text-anchor="middle" font-size="14.2">1.0</text>
<line x1="248.3" y1="280" x2="248.3" y2="285.5" stroke="#333" stroke-width="1"/>
<text transform="translate(248.3,305.2) scale(0.88,1)" text-anchor="middle" font-size="14.2">0</text>
<line x1="293.0" y1="280" x2="293.0" y2="285.5" stroke="#333" stroke-width="1"/>
<text transform="translate(293.0,305.2) scale(0.88,1)" text-anchor="middle" font-size="14.2">0.2</text>
<line x1="337.8" y1="280" x2="337.8" y2="285.5" stroke="#333" stroke-width="1"/>
<text transform="translate(337.8,305.2) scale(0.88,1)" text-anchor="middle" font-size="14.2">0.4</text>
<line x1="382.5" y1="280" x2="382.5" y2="285.5" stroke="#333" stroke-width="1"/>
<text transform="translate(382.5,305.2) scale(0.88,1)" text-anchor="middle" font-size="14.2">0.6</text>
<line x1="427.3" y1="280" x2="427.3" y2="285.5" stroke="#333" stroke-width="1"/>
<text transform="translate(427.3,305.2) scale(0.88,1)" text-anchor="middle" font-size="14.2">0.8</text>
<line x1="472.0" y1="280" x2="472.0" y2="285.5" stroke="#333" stroke-width="1"/>
<text transform="translate(472.0,305.2) scale(0.88,1)" text-anchor="middle" font-size="14.2">1.0</text>
</g>
<rect x="239.6" y="53" width="240.9" height="227.2" fill="none" stroke="#777" stroke-width="1.1"/>
<line x1="249.0" y1="271.7" x2="249.0" y2="187.8" stroke="#22e022" stroke-width="4.2" stroke-linecap="round"/>
<line x1="249.1" y1="187.8" x2="260.5" y2="187.8" stroke="#22e022" stroke-width="1" opacity="0.6"/>
<path d="M260.5,187.8 261.5,187.3 262.5,186.8 263.5,186.2 264.5,185.7 265.5,185.3 266.5,184.8 267.5,184.3 268.5,183.8 269.5,183.4 270.5,183.1 271.5,182.7 272.5,182.4 273.5,182.1 274.5,181.8 275.5,181.6 276.5,181.3 277.5,181.0 278.5,180.8 279.5,180.6 280.5,180.3 281.5,180.1 282.5,179.9 283.5,179.7 284.5,179.5 285.5,179.4 286.5,179.2 287.5,179.0 288.5,178.8 289.5,178.7 290.5,178.5 291.5,178.4 292.5,178.2 293.5,178.1 294.5,177.9 295.5,177.8 296.5,177.7 297.5,177.5 298.5,177.4 299.5,177.3 300.5,177.1 301.5,177.0 302.5,176.9 303.5,176.8 304.5,176.7 305.5,176.5 306.5,176.4 307.5,176.4 308.5,176.3 309.5,176.2 310.5,176.1 311.5,176.0 312.5,175.9 313.5,175.8 314.5,175.8 315.5,175.7 316.5,175.6 317.5,175.5 318.5,175.5 319.5,175.4 320.5,175.3 321.5,175.3 322.5,175.2 322.8,175.2 322.9,174.6 323.5,174.5 324.5,174.5 325.5,174.4 326.5,174.4 327.5,174.3 328.5,174.2 329.5,174.2 330.5,174.1 331.5,174.1 332.5,174.0 333.5,174.0 334.5,173.9 335.5,173.9 336.5,173.8 337.5,173.8 338.5,173.7 339.5,173.7 340.5,173.6 341.5,173.5 342.5,173.5 343.5,173.4 344.5,173.4 345.5,173.3 346.5,173.2 347.5,173.2 348.5,173.1 349.5,173.1 350.5,173.0 351.5,172.9 352.5,172.9 353.5,172.8 354.5,172.7 355.5,172.7 356.5,172.6 357.5,172.6 358.5,172.5 359.5,172.4 360.1,172.4 360.2,171.8 360.5,171.8 361.5,171.7 362.5,171.6 363.5,171.6 364.5,171.5 365.5,171.4 366.5,171.4 367.5,171.3 368.5,171.2 369.5,171.2 370.5,171.1 371.5,171.0 372.5,171.0 373.5,170.9 374.5,170.8 375.5,170.7 376.5,170.6 377.5,170.6 378.5,170.5 379.5,170.4 380.5,170.3 381.5,170.2 382.5,170.1 383.5,170.0 384.5,169.9 385.5,169.8 386.5,169.7 387.5,169.7 388.5,169.6 389.5,169.5 390.5,169.4 391.5,169.3 392.5,169.2 393.5,169.1 394.5,168.9 395.5,168.8 396.5,168.7 397.3,168.6 397.4,168.0 397.5,168.0 398.5,167.9 399.5,167.8 400.5,167.7 401.5,167.5 402.5,167.4 403.5,167.3 404.5,167.2 405.5,167.0 406.5,166.9 407.5,166.8 408.5,166.6 409.5,166.5 410.5,166.3 411.5,166.2 412.5,166.0 413.5,165.9 414.5,165.7 415.5,165.5 416.5,165.3 417.5,165.1 418.5,164.9 419.5,164.7 420.5,164.5 421.5,164.3 422.5,164.0 423.5,163.8 424.5,163.5 425.5,163.2 426.5,162.9 427.5,162.6 428.5,162.2 429.5,161.9 430.5,161.5 431.5,161.1 432.5,160.7 433.5,160.4 434.5,160.0 435.5,159.6 436.5,159.3 437.5,158.9 438.5,158.6 439.5,158.2 440.5,157.9 441.5,157.6 442.5,157.3 443.5,157.1 444.5,156.9 445.5,156.6 446.5,156.4 447.5,156.2 448.5,156.0 449.5,155.7 450.5,155.4 451.5,155.1 452.5,154.8 453.5,154.3 454.5,153.8 455.5,153.2 456.5,152.7 457.5,152.1 458.5,151.5 459.5,150.9" fill="none" stroke="#22e022" stroke-width="3.6" stroke-linecap="round" stroke-linejoin="round"/>
<ellipse cx="322.9" cy="174.9" rx="2.2" ry="2.8" fill="#22e022"/>
<ellipse cx="360.2" cy="172.1" rx="2.2" ry="2.8" fill="#22e022"/>
<ellipse cx="397.4" cy="168.3" rx="2.2" ry="2.8" fill="#22e022"/>
<line x1="459.5" y1="150.9" x2="472" y2="150.9" stroke="#22e022" stroke-width="1" opacity="0.5"/>
<line x1="472" y1="150.9" x2="472" y2="61.5" stroke="#22e022" stroke-width="3.6" stroke-linecap="round"/>
<line x1="249.0" y1="271.7" x2="249.0" y2="189.4" stroke="#ee1111" stroke-width="4.2" stroke-linecap="round"/>
<line x1="249.1" y1="189.4" x2="260.5" y2="189.4" stroke="#ee1111" stroke-width="1" opacity="0.6"/>
<path d="M260.5,189.4 261.5,188.3 262.5,187.3 263.5,186.2 264.5,185.1 265.5,184.0 266.5,182.8 267.5,181.4 268.5,180.2 269.5,179.1 270.5,178.5 271.5,178.0 272.5,177.7 273.5,177.4 274.5,177.1 275.5,176.8 276.5,176.6 277.5,176.4 278.5,176.3 279.5,176.1 280.5,175.9 281.5,175.7 282.5,175.5 283.5,175.3 284.5,175.1 285.5,174.8 286.5,174.5 287.5,174.1 288.5,173.8 289.5,173.4 290.5,173.0 291.5,172.6 292.5,172.1 293.5,171.7 294.5,171.2 295.5,170.8 296.5,170.3 297.5,169.8 298.5,169.2 299.5,168.7 300.5,168.1 301.5,167.6 302.5,167.0 303.5,166.4 304.5,165.7 305.5,165.0 306.5,164.3 307.5,163.6 308.5,162.8 309.5,162.1 310.5,161.4 311.5,160.6 312.5,159.9 313.5,159.1 314.5,158.3 315.5,157.4 316.5,156.5 317.5,155.7 318.5,154.8 319.5,154.0 320.5,153.2 321.5,152.5 322.5,151.8 322.8,151.6 322.9,150.1 323.5,149.7 324.5,149.2 325.5,148.7 326.5,148.1 327.5,147.7 328.5,147.2 329.5,146.7 330.5,146.3 331.5,145.9 332.5,145.5 333.5,145.1 334.5,144.7 335.5,144.3 336.5,144.0 337.5,143.6 338.5,143.3 339.5,142.9 340.5,142.6 341.5,142.2 342.5,141.9 343.5,141.5 344.5,141.3 345.5,141.0 346.5,140.7 347.5,140.5 348.5,140.2 349.5,140.0 350.5,139.7 351.5,139.5 352.5,139.3 353.5,139.1 354.5,138.9 355.5,138.8 356.5,138.6 357.5,138.5 358.5,138.3 359.5,138.2 360.1,138.1 360.2,136.3 360.5,136.3 361.5,136.1 362.5,136.0 363.5,135.8 364.5,135.6 365.5,135.5 366.5,135.3 367.5,135.1 368.5,134.8 369.5,134.6 370.5,134.3 371.5,134.0 372.5,133.7 373.5,133.4 374.5,133.1 375.5,132.7 376.5,132.4 377.5,132.0 378.5,131.6 379.5,131.2 380.5,130.8 381.5,130.4 382.5,130.0 383.5,129.5 384.5,129.1 385.5,128.7 386.5,128.2 387.5,127.7 388.5,127.2 389.5,126.8 390.5,126.3 391.5,125.8 392.5,125.3 393.5,124.8 394.5,124.3 395.5,123.8 396.5,123.3 397.3,122.9 397.4,121.7 397.5,121.6 398.5,121.2 399.5,120.7 400.5,120.2 401.5,119.7 402.5,119.2 403.5,118.8 404.5,118.3 405.5,117.8 406.5,117.3 407.5,116.8 408.5,116.4 409.5,115.9 410.5,115.4 411.5,114.9 412.5,114.4 413.5,113.9 414.5,113.4 415.5,112.9 416.5,112.4 417.5,111.8 418.5,111.3 419.5,110.8 420.5,110.2 421.5,109.7 422.5,109.2 423.5,108.6 424.5,108.1 425.5,107.5 426.5,107.0 427.5,106.4 428.5,105.8 429.5,105.3 430.5,104.7 431.5,104.1 432.5,103.6 433.5,103.0 434.5,102.4 435.5,101.8 436.5,101.2 437.5,100.6 438.5,100.0 439.5,99.4 440.5,98.8 441.5,98.1 442.5,97.5 443.5,96.8 444.5,96.2 445.5,95.5 446.5,94.8 447.5,94.1 448.5,93.5 449.5,92.8 450.5,92.1 451.5,91.4 452.5,90.7 453.5,90.0 454.5,89.3 455.5,88.6 456.5,87.9 457.5,87.3 458.5,86.6 459.5,85.9" fill="none" stroke="#ee1111" stroke-width="3.6" stroke-linecap="round" stroke-linejoin="round"/>
<ellipse cx="322.9" cy="150.8" rx="2.2" ry="2.8" fill="#ee1111"/>
<ellipse cx="360.2" cy="137.2" rx="2.2" ry="2.8" fill="#ee1111"/>
<ellipse cx="397.4" cy="122.3" rx="2.2" ry="2.8" fill="#ee1111"/>
<line x1="459.5" y1="85.9" x2="472" y2="85.9" stroke="#ee1111" stroke-width="1" opacity="0.5"/>
<line x1="472" y1="85.9" x2="472" y2="61.5" stroke="#ee1111" stroke-width="3.6" stroke-linecap="round"/>
<line x1="249.0" y1="271.7" x2="249.0" y2="183.9" stroke="#ffa010" stroke-width="4.2" stroke-linecap="round"/>
<line x1="249.1" y1="183.9" x2="260.5" y2="183.9" stroke="#ffa010" stroke-width="1" opacity="0.6"/>
<path d="M260.5,183.9 261.5,181.6 262.5,179.2 263.5,177.0 264.5,175.4 265.5,174.2 266.5,173.1 267.5,172.1 268.5,171.1 269.5,170.2 270.5,169.4 271.5,168.6 272.5,167.8 273.5,167.0 274.5,166.2 275.5,165.5 276.5,164.8 277.5,164.1 278.5,163.5 279.5,162.8 280.5,162.1 281.5,161.5 282.5,160.8 283.5,160.1 284.5,159.4 285.5,158.6 286.5,157.8 287.5,157.0 288.5,156.2 289.5,155.4 290.5,154.6 291.5,153.7 292.5,152.9 293.5,152.1 294.5,151.3 295.5,150.5 296.5,149.7 297.5,149.0 298.5,148.3 299.5,147.6 300.5,147.0 301.5,146.4 302.5,145.8 303.5,145.2 304.5,144.6 305.5,144.1 306.5,143.6 307.5,143.1 308.5,142.6 309.5,142.1 310.5,141.7 311.5,141.2 312.5,140.8 313.5,140.3 314.5,139.9 315.5,139.5 316.5,139.0 317.5,138.6 318.5,138.2 319.5,137.8 320.5,137.3 321.5,136.9 322.5,136.5 322.8,136.3 322.9,134.8 323.5,134.5 324.5,134.1 325.5,133.7 326.5,133.3 327.5,132.9 328.5,132.5 329.5,132.1 330.5,131.7 331.5,131.3 332.5,130.9 333.5,130.5 334.5,130.1 335.5,129.8 336.5,129.4 337.5,129.0 338.5,128.6 339.5,128.2 340.5,127.8 341.5,127.3 342.5,126.9 343.5,126.5 344.5,126.1 345.5,125.6 346.5,125.2 347.5,124.8 348.5,124.4 349.5,123.9 350.5,123.5 351.5,123.0 352.5,122.6 353.5,122.1 354.5,121.7 355.5,121.2 356.5,120.8 357.5,120.3 358.5,119.8 359.5,119.3 360.1,119.0 360.2,117.2 360.5,117.1 361.5,116.6 362.5,116.1 363.5,115.6 364.5,115.1 365.5,114.7 366.5,114.2 367.5,113.7 368.5,113.2 369.5,112.7 370.5,112.2 371.5,111.8 372.5,111.3 373.5,110.8 374.5,110.3 375.5,109.9 376.5,109.4 377.5,108.9 378.5,108.4 379.5,107.9 380.5,107.4 381.5,106.9 382.5,106.4 383.5,105.9 384.5,105.5 385.5,105.0 386.5,104.6 387.5,104.1 388.5,103.7 389.5,103.2 390.5,102.8 391.5,102.4 392.5,101.9 393.5,101.5 394.5,101.1 395.5,100.6 396.5,100.2 397.3,99.9 397.4,98.6 397.5,98.6 398.5,98.2 399.5,97.8 400.5,97.3 401.5,96.9 402.5,96.5 403.5,96.1 404.5,95.7 405.5,95.3 406.5,94.9 407.5,94.4 408.5,94.0 409.5,93.6 410.5,93.2 411.5,92.8 412.5,92.4 413.5,91.9 414.5,91.5 415.5,91.1 416.5,90.6 417.5,90.2 418.5,89.7 419.5,89.2 420.5,88.8 421.5,88.3 422.5,87.8 423.5,87.4 424.5,86.9 425.5,86.5 426.5,86.0 427.5,85.5 428.5,85.1 429.5,84.6 430.5,84.1 431.5,83.7 432.5,83.2 433.5,82.7 434.5,82.3 435.5,81.8 436.5,81.3 437.5,80.8 438.5,80.3 439.5,79.9 440.5,79.4 441.5,78.9 442.5,78.4 443.5,77.9 444.5,77.5 445.5,77.0 446.5,76.5 447.5,76.0 448.5,75.5 449.5,74.9 450.5,74.3 451.5,73.8 452.5,73.1 453.5,72.5 454.5,71.9 455.5,71.2 456.5,70.5 457.5,69.9 458.5,69.2 459.5,68.6" fill="none" stroke="#ffa010" stroke-width="3.6" stroke-linecap="round" stroke-linejoin="round"/>
<ellipse cx="322.9" cy="135.6" rx="2.2" ry="2.8" fill="#ffa010"/>
<ellipse cx="360.2" cy="118.1" rx="2.2" ry="2.8" fill="#ffa010"/>
<ellipse cx="397.4" cy="99.2" rx="2.2" ry="2.8" fill="#ffa010"/>
<line x1="459.5" y1="68.6" x2="472" y2="68.6" stroke="#ffa010" stroke-width="1" opacity="0.5"/>
<line x1="472" y1="68.6" x2="472" y2="61.5" stroke="#ffa010" stroke-width="3.6" stroke-linecap="round"/>
<line x1="249.0" y1="271.7" x2="249.0" y2="170.3" stroke="#1010ee" stroke-width="4.2" stroke-linecap="round"/>
<line x1="249.1" y1="170.3" x2="260.5" y2="170.3" stroke="#1010ee" stroke-width="1" opacity="0.6"/>
<path d="M260.5,170.3 261.5,169.1 262.5,168.0 263.5,166.7 264.5,165.2 265.5,163.3 266.5,161.4 267.5,159.7 268.5,158.1 269.5,156.7 270.5,155.7 271.5,154.8 272.5,153.9 273.5,153.0 274.5,152.2 275.5,151.4 276.5,150.6 277.5,149.9 278.5,149.2 279.5,148.5 280.5,147.8 281.5,147.2 282.5,146.6 283.5,146.0 284.5,145.4 285.5,144.8 286.5,144.3 287.5,143.7 288.5,143.2 289.5,142.7 290.5,142.2 291.5,141.7 292.5,141.2 293.5,140.7 294.5,140.2 295.5,139.7 296.5,139.2 297.5,138.7 298.5,138.2 299.5,137.7 300.5,137.1 301.5,136.6 302.5,136.2 303.5,135.7 304.5,135.3 305.5,134.8 306.5,134.4 307.5,134.1 308.5,133.7 309.5,133.3 310.5,132.9 311.5,132.5 312.5,132.1 313.5,131.7 314.5,131.3 315.5,130.8 316.5,130.3 317.5,129.8 318.5,129.2 319.5,128.7 320.5,128.1 321.5,127.6 322.5,127.1 322.8,126.9 322.9,125.0 323.5,124.7 324.5,124.2 325.5,123.7 326.5,123.2 327.5,122.6 328.5,122.1 329.5,121.6 330.5,121.1 331.5,120.6 332.5,120.0 333.5,119.5 334.5,119.0 335.5,118.5 336.5,118.0 337.5,117.5 338.5,116.9 339.5,116.4 340.5,115.9 341.5,115.3 342.5,114.8 343.5,114.2 344.5,113.7 345.5,113.2 346.5,112.7 347.5,112.2 348.5,111.7 349.5,111.3 350.5,110.8 351.5,110.3 352.5,109.8 353.5,109.3 354.5,108.8 355.5,108.4 356.5,107.9 357.5,107.4 358.5,107.0 359.5,106.5 360.1,106.2 360.2,104.1 360.5,104.0 361.5,103.6 362.5,103.1 363.5,102.7 364.5,102.2 365.5,101.8 366.5,101.3 367.5,100.8 368.5,100.4 369.5,99.9 370.5,99.5 371.5,99.0 372.5,98.5 373.5,98.1 374.5,97.6 375.5,97.2 376.5,96.7 377.5,96.3 378.5,95.8 379.5,95.3 380.5,94.8 381.5,94.4 382.5,93.9 383.5,93.5 384.5,93.1 385.5,92.7 386.5,92.3 387.5,91.9 388.5,91.5 389.5,91.1 390.5,90.7 391.5,90.3 392.5,90.0 393.5,89.6 394.5,89.3 395.5,88.9 396.5,88.6 397.3,88.3 397.4,86.5 397.5,86.5 398.5,86.2 399.5,85.9 400.5,85.6 401.5,85.4 402.5,85.1 403.5,84.9 404.5,84.7 405.5,84.5 406.5,84.2 407.5,84.0 408.5,83.8 409.5,83.6 410.5,83.4 411.5,83.1 412.5,82.9 413.5,82.7 414.5,82.4 415.5,82.1 416.5,81.8 417.5,81.4 418.5,81.1 419.5,80.7 420.5,80.3 421.5,79.8 422.5,79.3 423.5,78.8 424.5,78.3 425.5,77.7 426.5,77.1 427.5,76.5 428.5,76.0 429.5,75.5 430.5,75.0 431.5,74.6 432.5,74.2 433.5,73.8 434.5,73.4 435.5,73.0 436.5,72.7 437.5,72.3 438.5,72.0 439.5,71.6 440.5,71.3 441.5,70.9 442.5,70.6 443.5,70.3 444.5,70.0 445.5,69.7 446.5,69.4 447.5,69.0 448.5,68.7 449.5,68.4 450.5,68.1 451.5,67.8 452.5,67.5 453.5,67.2 454.5,66.9 455.5,66.6 456.5,66.3 457.5,66.0 458.5,65.6 459.5,65.3" fill="none" stroke="#1010ee" stroke-width="3.6" stroke-linecap="round" stroke-linejoin="round"/>
<ellipse cx="322.9" cy="125.9" rx="2.2" ry="2.8" fill="#1010ee"/>
<ellipse cx="360.2" cy="105.2" rx="2.2" ry="2.8" fill="#1010ee"/>
<ellipse cx="397.4" cy="87.4" rx="2.2" ry="2.8" fill="#1010ee"/>
<line x1="459.5" y1="65.3" x2="472" y2="65.3" stroke="#1010ee" stroke-width="1" opacity="0.5"/>
<line x1="472" y1="65.3" x2="472" y2="61.5" stroke="#1010ee" stroke-width="3.6" stroke-linecap="round"/>
<line x1="249.0" y1="271.7" x2="249.0" y2="164.2" stroke="#9a30d0" stroke-width="4.2" stroke-linecap="round"/>
<line x1="249.1" y1="164.2" x2="260.5" y2="164.2" stroke="#9a30d0" stroke-width="1" opacity="0.6"/>
<path d="M260.5,164.2 261.5,163.3 262.5,162.5 263.5,161.5 264.5,160.4 265.5,158.9 266.5,157.2 267.5,155.7 268.5,154.4 269.5,153.2 270.5,152.0 271.5,150.9 272.5,149.8 273.5,148.8 274.5,147.8 275.5,146.8 276.5,145.9 277.5,145.0 278.5,144.2 279.5,143.4 280.5,142.6 281.5,141.9 282.5,141.3 283.5,140.6 284.5,140.0 285.5,139.4 286.5,138.9 287.5,138.3 288.5,137.8 289.5,137.3 290.5,136.7 291.5,136.2 292.5,135.7 293.5,135.1 294.5,134.5 295.5,133.9 296.5,133.3 297.5,132.6 298.5,131.9 299.5,131.1 300.5,130.4 301.5,129.6 302.5,128.8 303.5,128.0 304.5,127.1 305.5,126.3 306.5,125.5 307.5,124.7 308.5,124.0 309.5,123.2 310.5,122.5 311.5,121.8 312.5,121.1 313.5,120.4 314.5,119.8 315.5,119.2 316.5,118.7 317.5,118.2 318.5,117.7 319.5,117.3 320.5,116.9 321.5,116.6 322.5,116.3 322.8,116.2 322.9,114.3 323.5,114.2 324.5,113.8 325.5,113.5 326.5,113.2 327.5,112.8 328.5,112.4 329.5,112.0 330.5,111.5 331.5,111.0 332.5,110.4 333.5,109.7 334.5,109.0 335.5,108.3 336.5,107.6 337.5,106.9 338.5,106.2 339.5,105.6 340.5,105.0 341.5,104.5 342.5,103.9 343.5,103.5 344.5,103.1 345.5,102.7 346.5,102.3 347.5,101.9 348.5,101.6 349.5,101.3 350.5,100.9 351.5,100.6 352.5,100.3 353.5,100.0 354.5,99.7 355.5,99.3 356.5,99.0 357.5,98.7 358.5,98.3 359.5,98.0 360.1,97.8 360.2,95.9 360.5,95.9 361.5,95.5 362.5,95.2 363.5,94.8 364.5,94.4 365.5,94.1 366.5,93.7 367.5,93.4 368.5,93.0 369.5,92.7 370.5,92.3 371.5,91.9 372.5,91.6 373.5,91.2 374.5,90.9 375.5,90.5 376.5,90.2 377.5,89.8 378.5,89.4 379.5,89.0 380.5,88.6 381.5,88.3 382.5,87.9 383.5,87.6 384.5,87.2 385.5,86.9 386.5,86.5 387.5,86.2 388.5,85.9 389.5,85.6 390.5,85.2 391.5,84.9 392.5,84.6 393.5,84.3 394.5,84.0 395.5,83.7 396.5,83.4 397.3,83.2 397.4,81.7 397.5,81.7 398.5,81.4 399.5,81.1 400.5,80.9 401.5,80.6 402.5,80.4 403.5,80.2 404.5,80.0 405.5,79.7 406.5,79.5 407.5,79.3 408.5,79.1 409.5,78.9 410.5,78.7 411.5,78.4 412.5,78.2 413.5,78.0 414.5,77.7 415.5,77.5 416.5,77.2 417.5,76.8 418.5,76.5 419.5,76.2 420.5,75.8 421.5,75.4 422.5,75.0 423.5,74.5 424.5,74.0 425.5,73.6 426.5,73.1 427.5,72.6 428.5,72.2 429.5,71.7 430.5,71.4 431.5,71.0 432.5,70.7 433.5,70.4 434.5,70.1 435.5,69.8 436.5,69.6 437.5,69.3 438.5,69.0 439.5,68.8 440.5,68.5 441.5,68.3 442.5,68.0 443.5,67.8 444.5,67.6 445.5,67.4 446.5,67.1 447.5,66.9 448.5,66.7 449.5,66.5 450.5,66.3 451.5,66.0 452.5,65.8 453.5,65.6 454.5,65.4 455.5,65.1 456.5,64.9 457.5,64.7 458.5,64.4 459.5,64.2" fill="none" stroke="#9a30d0" stroke-width="3.6" stroke-linecap="round" stroke-linejoin="round"/>
<ellipse cx="322.9" cy="115.2" rx="2.2" ry="2.8" fill="#9a30d0"/>
<ellipse cx="360.2" cy="96.9" rx="2.2" ry="2.8" fill="#9a30d0"/>
<ellipse cx="397.4" cy="82.4" rx="2.2" ry="2.8" fill="#9a30d0"/>
<line x1="459.5" y1="64.2" x2="472" y2="64.2" stroke="#9a30d0" stroke-width="1" opacity="0.5"/>
<line x1="472" y1="64.2" x2="472" y2="61.5" stroke="#9a30d0" stroke-width="3.6" stroke-linecap="round"/>
<line x1="249.0" y1="271.7" x2="249.0" y2="160.6" stroke="#101010" stroke-width="4.2" stroke-linecap="round"/>
<line x1="249.1" y1="160.6" x2="260.5" y2="160.6" stroke="#101010" stroke-width="1" opacity="0.6"/>
<path d="M260.5,160.6 261.5,159.6 262.5,158.7 263.5,157.6 264.5,156.3 265.5,154.6 266.5,152.5 267.5,150.4 268.5,148.4 269.5,146.7 270.5,145.4 271.5,144.2 272.5,143.1 273.5,142.1 274.5,141.1 275.5,140.2 276.5,139.4 277.5,138.5 278.5,137.7 279.5,137.0 280.5,136.2 281.5,135.4 282.5,134.7 283.5,133.9 284.5,133.1 285.5,132.2 286.5,131.3 287.5,130.4 288.5,129.4 289.5,128.5 290.5,127.5 291.5,126.5 292.5,125.5 293.5,124.5 294.5,123.5 295.5,122.6 296.5,121.7 297.5,120.9 298.5,120.1 299.5,119.3 300.5,118.7 301.5,118.0 302.5,117.4 303.5,116.8 304.5,116.3 305.5,115.7 306.5,115.2 307.5,114.8 308.5,114.3 309.5,113.9 310.5,113.5 311.5,113.0 312.5,112.6 313.5,112.2 314.5,111.8 315.5,111.5 316.5,111.1 317.5,110.7 318.5,110.3 319.5,109.9 320.5,109.5 321.5,109.1 322.5,108.7 322.8,108.6 322.9,106.7 323.5,106.5 324.5,106.1 325.5,105.8 326.5,105.4 327.5,105.0 328.5,104.7 329.5,104.3 330.5,104.0 331.5,103.6 332.5,103.3 333.5,102.9 334.5,102.6 335.5,102.2 336.5,101.8 337.5,101.5 338.5,101.1 339.5,100.7 340.5,100.3 341.5,99.8 342.5,99.3 343.5,98.9 344.5,98.4 345.5,98.0 346.5,97.5 347.5,97.0 348.5,96.6 349.5,96.1 350.5,95.7 351.5,95.2 352.5,94.8 353.5,94.3 354.5,93.9 355.5,93.5 356.5,93.1 357.5,92.7 358.5,92.4 359.5,92.0 360.1,91.8 360.2,89.9 360.5,89.9 361.5,89.5 362.5,89.2 363.5,88.8 364.5,88.5 365.5,88.2 366.5,87.9 367.5,87.6 368.5,87.2 369.5,86.9 370.5,86.6 371.5,86.3 372.5,86.0 373.5,85.7 374.5,85.5 375.5,85.2 376.5,84.9 377.5,84.6 378.5,84.3 379.5,83.9 380.5,83.6 381.5,83.3 382.5,83.0 383.5,82.8 384.5,82.5 385.5,82.2 386.5,81.9 387.5,81.7 388.5,81.4 389.5,81.1 390.5,80.8 391.5,80.6 392.5,80.3 393.5,80.1 394.5,79.8 395.5,79.5 396.5,79.3 397.3,79.1 397.4,77.8 397.5,77.8 398.5,77.6 399.5,77.3 400.5,77.1 401.5,76.8 402.5,76.6 403.5,76.3 404.5,76.1 405.5,75.9 406.5,75.6 407.5,75.4 408.5,75.2 409.5,75.0 410.5,74.8 411.5,74.5 412.5,74.3 413.5,74.1 414.5,73.9 415.5,73.6 416.5,73.4 417.5,73.1 418.5,72.9 419.5,72.6 420.5,72.4 421.5,72.1 422.5,71.9 423.5,71.6 424.5,71.4 425.5,71.1 426.5,70.9 427.5,70.7 428.5,70.4 429.5,70.2 430.5,69.9 431.5,69.7 432.5,69.5 433.5,69.2 434.5,69.0 435.5,68.8 436.5,68.5 437.5,68.3 438.5,68.1 439.5,67.8 440.5,67.6 441.5,67.4 442.5,67.1 443.5,66.9 444.5,66.7 445.5,66.5 446.5,66.2 447.5,66.0 448.5,65.8 449.5,65.5 450.5,65.3 451.5,65.1 452.5,64.8 453.5,64.6 454.5,64.4 455.5,64.1 456.5,63.9 457.5,63.7 458.5,63.4 459.5,63.2" fill="none" stroke="#101010" stroke-width="3.6" stroke-linecap="round" stroke-linejoin="round"/>
<ellipse cx="322.9" cy="107.7" rx="2.2" ry="2.8" fill="#101010"/>
<ellipse cx="360.2" cy="90.9" rx="2.2" ry="2.8" fill="#101010"/>
<ellipse cx="397.4" cy="78.4" rx="2.2" ry="2.8" fill="#101010"/>
<line x1="459.5" y1="63.2" x2="472" y2="63.2" stroke="#101010" stroke-width="1" opacity="0.5"/>
<line x1="472" y1="63.2" x2="472" y2="61.5" stroke="#101010" stroke-width="3.6" stroke-linecap="round"/>
<line x1="249.0" y1="271.7" x2="249.0" y2="154.5" stroke="#8b1010" stroke-width="4.2" stroke-linecap="round"/>
<line x1="249.1" y1="154.5" x2="260.5" y2="154.5" stroke="#8b1010" stroke-width="1" opacity="0.6"/>
<path d="M260.5,154.5 261.5,153.3 262.5,152.0 263.5,150.7 264.5,149.2 265.5,147.4 266.5,145.4 267.5,143.4 268.5,141.4 269.5,139.7 270.5,138.3 271.5,137.1 272.5,135.9 273.5,134.8 274.5,133.7 275.5,132.7 276.5,131.8 277.5,130.8 278.5,129.9 279.5,129.0 280.5,128.1 281.5,127.1 282.5,126.2 283.5,125.2 284.5,124.3 285.5,123.3 286.5,122.4 287.5,121.5 288.5,120.6 289.5,119.7 290.5,118.8 291.5,117.9 292.5,117.0 293.5,116.2 294.5,115.4 295.5,114.6 296.5,113.9 297.5,113.1 298.5,112.5 299.5,111.8 300.5,111.2 301.5,110.6 302.5,110.0 303.5,109.5 304.5,108.9 305.5,108.4 306.5,107.9 307.5,107.5 308.5,107.0 309.5,106.6 310.5,106.2 311.5,105.8 312.5,105.4 313.5,105.0 314.5,104.6 315.5,104.2 316.5,103.9 317.5,103.5 318.5,103.2 319.5,102.8 320.5,102.5 321.5,102.1 322.5,101.8 322.8,101.7 322.9,99.8 323.5,99.7 324.5,99.4 325.5,99.1 326.5,98.8 327.5,98.5 328.5,98.2 329.5,97.9 330.5,97.6 331.5,97.4 332.5,97.1 333.5,96.8 334.5,96.5 335.5,96.3 336.5,96.0 337.5,95.7 338.5,95.4 339.5,95.2 340.5,94.8 341.5,94.5 342.5,94.1 343.5,93.8 344.5,93.5 345.5,93.2 346.5,92.9 347.5,92.6 348.5,92.3 349.5,92.0 350.5,91.7 351.5,91.4 352.5,91.1 353.5,90.8 354.5,90.5 355.5,90.2 356.5,89.9 357.5,89.6 358.5,89.3 359.5,89.1 360.1,88.9 360.2,87.0 360.5,87.0 361.5,86.7 362.5,86.4 363.5,86.1 364.5,85.8 365.5,85.5 366.5,85.3 367.5,85.0 368.5,84.7 369.5,84.4 370.5,84.1 371.5,83.8 372.5,83.6 373.5,83.3 374.5,83.0 375.5,82.7 376.5,82.4 377.5,82.1 378.5,81.8 379.5,81.5 380.5,81.2 381.5,80.9 382.5,80.6 383.5,80.3 384.5,80.0 385.5,79.7 386.5,79.4 387.5,79.2 388.5,78.9 389.5,78.6 390.5,78.3 391.5,78.1 392.5,77.8 393.5,77.5 394.5,77.3 395.5,77.0 396.5,76.8 397.3,76.6 397.4,75.3 397.5,75.3 398.5,75.1 399.5,74.8 400.5,74.6 401.5,74.3 402.5,74.1 403.5,73.8 404.5,73.6 405.5,73.3 406.5,73.1 407.5,72.9 408.5,72.6 409.5,72.4 410.5,72.2 411.5,71.9 412.5,71.7 413.5,71.5 414.5,71.3 415.5,71.0 416.5,70.8 417.5,70.6 418.5,70.3 419.5,70.1 420.5,69.9 421.5,69.7 422.5,69.5 423.5,69.2 424.5,69.0 425.5,68.8 426.5,68.6 427.5,68.4 428.5,68.2 429.5,68.0 430.5,67.8 431.5,67.6 432.5,67.5 433.5,67.3 434.5,67.1 435.5,66.9 436.5,66.7 437.5,66.5 438.5,66.4 439.5,66.2 440.5,66.0 441.5,65.8 442.5,65.6 443.5,65.5 444.5,65.3 445.5,65.1 446.5,64.9 447.5,64.8 448.5,64.6 449.5,64.4 450.5,64.2 451.5,64.1 452.5,63.9 453.5,63.7 454.5,63.5 455.5,63.3 456.5,63.2 457.5,63.0 458.5,62.8 459.5,62.6" fill="none" stroke="#8b1010" stroke-width="3.6" stroke-linecap="round" stroke-linejoin="round"/>
<ellipse cx="322.9" cy="100.8" rx="2.2" ry="2.8" fill="#8b1010"/>
<ellipse cx="360.2" cy="88.0" rx="2.2" ry="2.8" fill="#8b1010"/>
<ellipse cx="397.4" cy="75.9" rx="2.2" ry="2.8" fill="#8b1010"/>
<line x1="459.5" y1="62.6" x2="472" y2="62.6" stroke="#8b1010" stroke-width="1" opacity="0.5"/>
<line x1="472" y1="62.6" x2="472" y2="61.5" stroke="#8b1010" stroke-width="3.6" stroke-linecap="round"/>
<line x1="249.0" y1="271.7" x2="249.0" y2="149.3" stroke="#b0d8e0" stroke-width="4.2" stroke-linecap="round"/>
<line x1="249.1" y1="149.3" x2="260.5" y2="149.3" stroke="#b0d8e0" stroke-width="1" opacity="0.6"/>
<path d="M260.5,149.3 261.5,147.0 262.5,144.7 263.5,142.2 264.5,139.1 265.5,136.0 266.5,133.6 267.5,131.8 268.5,130.3 269.5,129.2 270.5,128.3 271.5,127.5 272.5,126.7 273.5,126.0 274.5,125.4 275.5,124.7 276.5,124.1 277.5,123.5 278.5,122.9 279.5,122.4 280.5,121.9 281.5,121.3 282.5,120.8 283.5,120.3 284.5,119.7 285.5,119.2 286.5,118.6 287.5,118.0 288.5,117.4 289.5,116.8 290.5,116.1 291.5,115.5 292.5,114.9 293.5,114.2 294.5,113.6 295.5,113.0 296.5,112.3 297.5,111.7 298.5,111.1 299.5,110.5 300.5,109.8 301.5,109.2 302.5,108.6 303.5,108.0 304.5,107.5 305.5,106.9 306.5,106.3 307.5,105.8 308.5,105.3 309.5,104.7 310.5,104.2 311.5,103.7 312.5,103.2 313.5,102.7 314.5,102.2 315.5,101.7 316.5,101.2 317.5,100.7 318.5,100.2 319.5,99.8 320.5,99.3 321.5,98.9 322.5,98.4 322.8,98.3 322.9,96.4 323.5,96.2 324.5,95.8 325.5,95.3 326.5,94.9 327.5,94.5 328.5,94.1 329.5,93.7 330.5,93.3 331.5,93.0 332.5,92.6 333.5,92.2 334.5,91.8 335.5,91.5 336.5,91.1 337.5,90.8 338.5,90.4 339.5,90.1 340.5,89.7 341.5,89.3 342.5,88.9 343.5,88.6 344.5,88.2 345.5,87.9 346.5,87.6 347.5,87.3 348.5,87.0 349.5,86.6 350.5,86.3 351.5,86.0 352.5,85.8 353.5,85.5 354.5,85.2 355.5,84.9 356.5,84.6 357.5,84.4 358.5,84.1 359.5,83.9 360.1,83.7 360.2,81.9 360.5,81.9 361.5,81.6 362.5,81.4 363.5,81.2 364.5,80.9 365.5,80.7 366.5,80.5 367.5,80.3 368.5,80.1 369.5,79.9 370.5,79.7 371.5,79.5 372.5,79.3 373.5,79.1 374.5,78.9 375.5,78.7 376.5,78.5 377.5,78.3 378.5,78.0 379.5,77.8 380.5,77.6 381.5,77.4 382.5,77.2 383.5,77.0 384.5,76.8 385.5,76.6 386.5,76.4 387.5,76.2 388.5,76.0 389.5,75.8 390.5,75.6 391.5,75.3 392.5,75.1 393.5,74.9 394.5,74.7 395.5,74.5 396.5,74.3 397.3,74.2 397.4,73.1 397.5,73.1 398.5,72.9 399.5,72.7 400.5,72.5 401.5,72.3 402.5,72.1 403.5,71.9 404.5,71.7 405.5,71.5 406.5,71.3 407.5,71.1 408.5,70.9 409.5,70.7 410.5,70.5 411.5,70.3 412.5,70.1 413.5,69.9 414.5,69.7 415.5,69.5 416.5,69.3 417.5,69.1 418.5,68.9 419.5,68.7 420.5,68.5 421.5,68.3 422.5,68.2 423.5,68.0 424.5,67.8 425.5,67.7 426.5,67.5 427.5,67.3 428.5,67.2 429.5,67.0 430.5,66.9 431.5,66.7 432.5,66.6 433.5,66.4 434.5,66.3 435.5,66.1 436.5,66.0 437.5,65.9 438.5,65.7 439.5,65.6 440.5,65.4 441.5,65.3 442.5,65.2 443.5,65.0 444.5,64.9 445.5,64.8 446.5,64.6 447.5,64.5 448.5,64.4 449.5,64.3 450.5,64.1 451.5,64.0 452.5,63.9 453.5,63.8 454.5,63.6 455.5,63.5 456.5,63.4 457.5,63.3 458.5,63.1 459.5,63.0" fill="none" stroke="#b0d8e0" stroke-width="3.6" stroke-linecap="round" stroke-linejoin="round"/>
<ellipse cx="322.9" cy="97.3" rx="2.2" ry="2.8" fill="#b0d8e0"/>
<ellipse cx="360.2" cy="82.8" rx="2.2" ry="2.8" fill="#b0d8e0"/>
<ellipse cx="397.4" cy="73.7" rx="2.2" ry="2.8" fill="#b0d8e0"/>
<line x1="459.5" y1="63.0" x2="472" y2="63.0" stroke="#b0d8e0" stroke-width="1" opacity="0.5"/>
<line x1="472" y1="63.0" x2="472" y2="61.5" stroke="#b0d8e0" stroke-width="3.6" stroke-linecap="round"/>
<line x1="249.0" y1="271.7" x2="249.0" y2="144.0" stroke="#9a2222" stroke-width="4.2" stroke-linecap="round"/>
<line x1="249.1" y1="144.0" x2="260.5" y2="144.0" stroke="#9a2222" stroke-width="1" opacity="0.6"/>
<path d="M260.5,144.0 261.5,142.1 262.5,140.2 263.5,138.0 264.5,135.0 265.5,131.8 266.5,129.4 267.5,127.6 268.5,126.1 269.5,125.0 270.5,124.1 271.5,123.3 272.5,122.5 273.5,121.8 274.5,121.2 275.5,120.5 276.5,119.9 277.5,119.3 278.5,118.7 279.5,118.2 280.5,117.7 281.5,117.1 282.5,116.6 283.5,116.1 284.5,115.5 285.5,115.0 286.5,114.4 287.5,113.8 288.5,113.2 289.5,112.6 290.5,111.9 291.5,111.3 292.5,110.7 293.5,110.0 294.5,109.4 295.5,108.7 296.5,108.1 297.5,107.5 298.5,106.9 299.5,106.2 300.5,105.6 301.5,105.0 302.5,104.4 303.5,103.8 304.5,103.3 305.5,102.7 306.5,102.2 307.5,101.7 308.5,101.2 309.5,100.7 310.5,100.2 311.5,99.7 312.5,99.2 313.5,98.7 314.5,98.2 315.5,97.8 316.5,97.3 317.5,96.9 318.5,96.4 319.5,96.0 320.5,95.5 321.5,95.1 322.5,94.7 322.8,94.6 322.9,92.5 323.5,92.3 324.5,91.9 325.5,91.5 326.5,91.1 327.5,90.8 328.5,90.4 329.5,90.0 330.5,89.7 331.5,89.3 332.5,88.9 333.5,88.6 334.5,88.3 335.5,87.9 336.5,87.6 337.5,87.3 338.5,87.0 339.5,86.7 340.5,86.3 341.5,86.0 342.5,85.6 343.5,85.3 344.5,85.0 345.5,84.7 346.5,84.4 347.5,84.1 348.5,83.8 349.5,83.6 350.5,83.3 351.5,83.0 352.5,82.8 353.5,82.5 354.5,82.3 355.5,82.0 356.5,81.8 357.5,81.6 358.5,81.3 359.5,81.1 360.1,81.0 360.2,79.2 360.5,79.1 361.5,78.9 362.5,78.7 363.5,78.5 364.5,78.3 365.5,78.1 366.5,77.9 367.5,77.7 368.5,77.5 369.5,77.3 370.5,77.1 371.5,76.9 372.5,76.7 373.5,76.5 374.5,76.4 375.5,76.2 376.5,76.0 377.5,75.8 378.5,75.6 379.5,75.4 380.5,75.1 381.5,74.9 382.5,74.8 383.5,74.6 384.5,74.4 385.5,74.2 386.5,74.0 387.5,73.8 388.5,73.6 389.5,73.4 390.5,73.2 391.5,73.1 392.5,72.9 393.5,72.7 394.5,72.5 395.5,72.3 396.5,72.1 397.3,72.0 397.4,70.9 397.5,70.9 398.5,70.7 399.5,70.6 400.5,70.4 401.5,70.2 402.5,70.0 403.5,69.8 404.5,69.6 405.5,69.4 406.5,69.2 407.5,69.0 408.5,68.9 409.5,68.7 410.5,68.5 411.5,68.3 412.5,68.1 413.5,68.0 414.5,67.8 415.5,67.6 416.5,67.4 417.5,67.2 418.5,67.1 419.5,66.9 420.5,66.7 421.5,66.6 422.5,66.4 423.5,66.2 424.5,66.1 425.5,65.9 426.5,65.8 427.5,65.6 428.5,65.5 429.5,65.4 430.5,65.2 431.5,65.1 432.5,65.0 433.5,64.8 434.5,64.7 435.5,64.6 436.5,64.4 437.5,64.3 438.5,64.2 439.5,64.1 440.5,63.9 441.5,63.8 442.5,63.7 443.5,63.6 444.5,63.5 445.5,63.3 446.5,63.2 447.5,63.1 448.5,63.0 449.5,62.9 450.5,62.8 451.5,62.7 452.5,62.6 453.5,62.5 454.5,62.4 455.5,62.2 456.5,62.1 457.5,62.0 458.5,61.9 459.5,61.8" fill="none" stroke="#9a2222" stroke-width="3.6" stroke-linecap="round" stroke-linejoin="round"/>
<ellipse cx="322.9" cy="93.5" rx="2.2" ry="2.8" fill="#9a2222"/>
<ellipse cx="360.2" cy="80.1" rx="2.2" ry="2.8" fill="#9a2222"/>
<ellipse cx="397.4" cy="71.5" rx="2.2" ry="2.8" fill="#9a2222"/>
<line x1="459.5" y1="61.8" x2="472" y2="61.8" stroke="#9a2222" stroke-width="1" opacity="0.5"/>
<line x1="472" y1="61.8" x2="472" y2="61.5" stroke="#9a2222" stroke-width="3.6" stroke-linecap="round"/>
<rect x="408" y="162.2" width="63.4" height="110" fill="none" stroke="#777" stroke-width="1"/>
<circle cx="415.6" cy="173.4" r="1.9" fill="#22e022"/>
<text transform="translate(426.8,176.8) scale(0.89,1)" font-size="9.6" fill="#333">2 clusters</text>
<circle cx="415.6" cy="184.4" r="1.9" fill="#ee1111"/>
<text transform="translate(426.8,187.8) scale(0.89,1)" font-size="9.6" fill="#333">3 clusters</text>
<circle cx="415.6" cy="195.4" r="1.9" fill="#ffa010"/>
<text transform="translate(426.8,198.8) scale(0.89,1)" font-size="9.6" fill="#333">4 clusters</text>
<circle cx="415.6" cy="206.4" r="1.9" fill="#1010ee"/>
<text transform="translate(426.8,209.8) scale(0.89,1)" font-size="9.6" fill="#333">5 clusters</text>
<circle cx="415.6" cy="217.4" r="1.9" fill="#9a30d0"/>
<text transform="translate(426.8,220.8) scale(0.89,1)" font-size="9.6" fill="#333">6 clusters</text>
<circle cx="415.6" cy="228.4" r="1.9" fill="#101010"/>
<text transform="translate(426.8,231.8) scale(0.89,1)" font-size="9.6" fill="#333">7 clusters</text>
<circle cx="415.6" cy="239.4" r="1.9" fill="#8b1010"/>
<text transform="translate(426.8,242.8) scale(0.89,1)" font-size="9.6" fill="#333">8 clusters</text>
<circle cx="415.6" cy="250.4" r="1.9" fill="#b0d8e0"/>
<text transform="translate(426.8,253.8) scale(0.89,1)" font-size="9.6" fill="#333">9 clusters</text>
<circle cx="415.6" cy="261.4" r="1.9" fill="#9a2222"/>
<text transform="translate(426.8,264.8) scale(0.89,1)" font-size="9.6" fill="#333">10 clusters</text>
<g font-size="12.6" fill="#111">
<text x="605.5" y="27.9" font-size="16.4">Delta area</text>
<text x="593.8" y="326" font-size="13.4">Number of clusters</text>
<text transform="translate(502.5,160.5) rotate(-90)" text-anchor="middle" font-size="13">Proportion increase</text>
<line x1="528.4" y1="280.5" x2="532.5" y2="280.5" stroke="#111" stroke-width="1.2"/>
<text transform="translate(526.6,279.7) rotate(-90) scale(0.88,1)" text-anchor="middle" font-size="14.2">0</text>
<line x1="528.4" y1="205.7" x2="532.5" y2="205.7" stroke="#111" stroke-width="1.2"/>
<text transform="translate(526.6,207.1) rotate(-90) scale(0.88,1)" text-anchor="middle" font-size="14.2">0.2</text>
<line x1="528.4" y1="130.8" x2="532.5" y2="130.8" stroke="#111" stroke-width="1.2"/>
<text transform="translate(526.6,133.2) rotate(-90) scale(0.88,1)" text-anchor="middle" font-size="14.2">0.4</text>
<line x1="528.4" y1="56.0" x2="532.5" y2="56.0" stroke="#111" stroke-width="1.2"/>
<text transform="translate(526.6,61.9) rotate(-90) scale(0.88,1)" text-anchor="middle" font-size="14.2">0.6</text>
<line x1="532.5" y1="281" x2="532.5" y2="285.5" stroke="#111" stroke-width="1.2"/>
<text transform="translate(532.5,305.2) scale(0.88,1)" text-anchor="middle" font-size="14.2">2</text>
<line x1="562.2" y1="281" x2="562.2" y2="285.5" stroke="#111" stroke-width="1.2"/>
<text transform="translate(562.2,305.2) scale(0.88,1)" text-anchor="middle" font-size="14.2">3</text>
<line x1="591.9" y1="281" x2="591.9" y2="285.5" stroke="#111" stroke-width="1.2"/>
<text transform="translate(591.9,305.2) scale(0.88,1)" text-anchor="middle" font-size="14.2">4</text>
<line x1="621.6" y1="281" x2="621.6" y2="285.5" stroke="#111" stroke-width="1.2"/>
<text transform="translate(621.6,305.2) scale(0.88,1)" text-anchor="middle" font-size="14.2">5</text>
<line x1="651.3" y1="281" x2="651.3" y2="285.5" stroke="#111" stroke-width="1.2"/>
<text transform="translate(651.3,305.2) scale(0.88,1)" text-anchor="middle" font-size="14.2">6</text>
<line x1="681.0" y1="281" x2="681.0" y2="285.5" stroke="#111" stroke-width="1.2"/>
<text transform="translate(681.0,305.2) scale(0.88,1)" text-anchor="middle" font-size="14.2">7</text>
<line x1="710.6" y1="281" x2="710.6" y2="285.5" stroke="#111" stroke-width="1.2"/>
<text transform="translate(710.6,305.2) scale(0.88,1)" text-anchor="middle" font-size="14.2">8</text>
<line x1="740.3" y1="281" x2="740.3" y2="285.5" stroke="#111" stroke-width="1.2"/>
<text transform="translate(740.3,305.2) scale(0.88,1)" text-anchor="middle" font-size="14.2">9</text>
<line x1="770.0" y1="281" x2="770.0" y2="285.5" stroke="#111" stroke-width="1.2"/>
<text transform="translate(770.0,305.2) scale(0.88,1)" text-anchor="middle" font-size="14.2">10</text>
</g>
<rect x="532.5" y="56" width="237.5" height="225" fill="none" stroke="#111" stroke-width="1.3"/>
<line x1="590" y1="281" x2="770" y2="281" stroke="#2020c0" stroke-width="1.4"/><line x1="590" y1="280.6" x2="770" y2="280.6" stroke="#ff4040" stroke-width="0.6" stroke-dasharray="2,3"/>
<line x1="536.6" y1="108.4" x2="558.7" y2="153.3" stroke="#1515cc" stroke-width="2"/>
<line x1="565.1" y1="169.0" x2="589.3" y2="241.1" stroke="#1515cc" stroke-width="2"/>
<line x1="600.4" y1="250.2" x2="613.2" y2="251.7" stroke="#1515cc" stroke-width="2"/>
<line x1="629.5" y1="255.7" x2="643.4" y2="261.0" stroke="#1515cc" stroke-width="2"/>
<line x1="659.8" y1="264.6" x2="672.5" y2="265.6" stroke="#1515cc" stroke-width="2"/>
<line x1="689.5" y1="266.4" x2="702.4" y2="266.6" stroke="#1515cc" stroke-width="2"/>
<line x1="719.4" y1="267.4" x2="731.9" y2="268.4" stroke="#1515cc" stroke-width="2"/>
<line x1="748.9" y1="269.1" x2="761.5" y2="269.4" stroke="#1515cc" stroke-width="2"/>
<circle cx="532.9" cy="100.8" r="3.6" fill="#ff1010"/>
<circle cx="562.4" cy="160.9" r="3.6" fill="#ff1010"/>
<circle cx="592.0" cy="249.2" r="3.6" fill="#ff1010"/>
<circle cx="621.6" cy="252.7" r="3.6" fill="#ff1010"/>
<circle cx="651.3" cy="264.0" r="3.6" fill="#ff1010"/>
<circle cx="681.0" cy="266.2" r="3.6" fill="#ff1010"/>
<circle cx="710.9" cy="266.8" r="3.6" fill="#ff1010"/>
<circle cx="740.4" cy="269.0" r="3.6" fill="#ff1010"/>
<circle cx="770.0" cy="269.5" r="3.6" fill="#ff1010"/>
</svg></body></html>
